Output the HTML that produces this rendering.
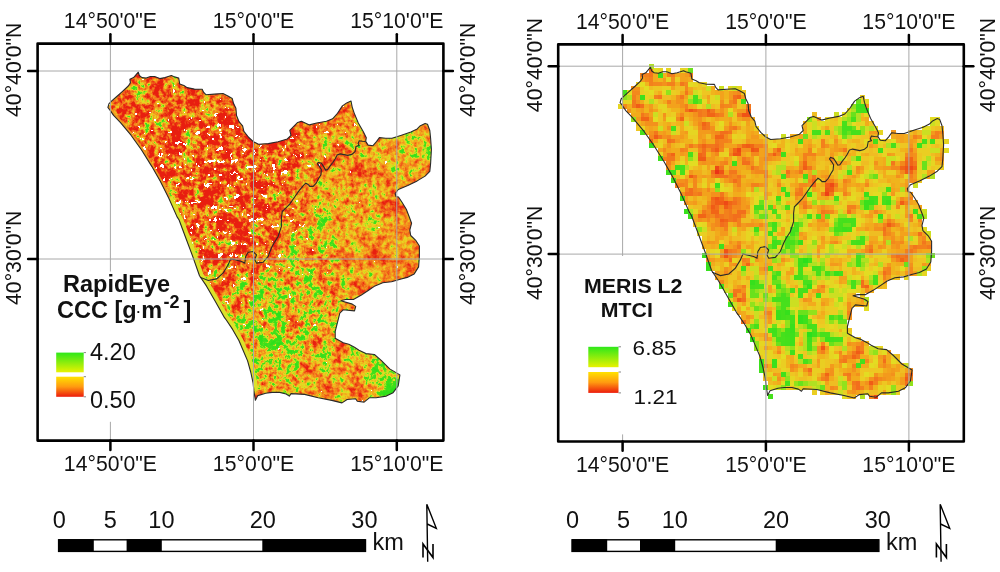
<!DOCTYPE html>
<html><head><meta charset="utf-8"><style>html,body{margin:0;padding:0;background:#fff;overflow:hidden}svg{display:block;filter:blur(0.3px)}</style></head>
<body><svg width="1000" height="572" viewBox="0 0 1000 572">
<style>
text{font-family:'Liberation Sans',sans-serif;fill:#111}
.lab{font-size:21.2px}
.sb{font-size:23.5px}
.lg{font-size:23.5px;font-weight:bold}
.lg2{font-size:20.2px;font-weight:bold}
.sb2{font-size:20.3px}
</style>
<rect width="1000" height="572" fill="#fff"/>
<filter id="fL" filterUnits="userSpaceOnUse" x="100" y="65" width="340" height="345" color-interpolation-filters="sRGB">
<feGaussianBlur in="SourceGraphic" stdDeviation="6" result="b"/>
<feColorMatrix in="b" type="matrix" values="1 0 0 0 0 1 0 0 0 0 1 0 0 0 0 0 0 0 0 1" result="bv"/>
<feTurbulence type="fractalNoise" baseFrequency="0.22" numOctaves="3" seed="3" result="n"/>
<feColorMatrix in="n" type="matrix" values="1 0 0 0 0 1 0 0 0 0 1 0 0 0 0 0 0 0 0 1" result="nh"/>
<feTurbulence type="fractalNoise" baseFrequency="0.06" numOctaves="2" seed="21" result="nl0"/>
<feColorMatrix in="nl0" type="matrix" values="1 0 0 0 0 1 0 0 0 0 1 0 0 0 0 0 0 0 0 1" result="nl"/>
<feComposite in="nl" in2="nh" operator="arithmetic" k1="0" k2="0.68" k3="0.73" k4="-0.20500000000000007" result="ng"/>
<feColorMatrix in="b" type="matrix" values="0 0 1 0 0 0 0 1 0 0 0 0 1 0 0 0 0 0 0 1" result="ba"/>
<feComposite in="ba" in2="ng" operator="arithmetic" k1="3.33" k2="-1.667" k3="0" k4="0.5" result="t"/>
<feComposite in="bv" in2="t" operator="arithmetic" k1="0" k2="1" k3="1" k4="-0.5" result="v"/>
<feComponentTransfer in="v" result="col">
<feFuncR type="table" tableValues="0.910 0.913 0.916 0.919 0.922 0.925 0.929 0.932 0.935 0.938 0.941 0.944 0.946 0.948 0.951 0.953 0.953 0.953 0.953 0.953 0.953 0.949 0.945 0.941 0.937 0.933 0.922 0.910 0.898 0.886 0.800 0.714 0.627 0.510 0.392 0.275 0.268 0.261 0.254 0.247 0.241 0.234 0.227 0.220 0.213 0.207 0.200 0.193 0.186 0.179 0.173"/>
<feFuncG type="table" tableValues="0.118 0.137 0.157 0.176 0.196 0.216 0.245 0.274 0.303 0.332 0.361 0.389 0.417 0.445 0.474 0.502 0.529 0.555 0.582 0.609 0.635 0.664 0.692 0.720 0.748 0.776 0.800 0.824 0.847 0.871 0.876 0.881 0.886 0.884 0.881 0.878 0.878 0.878 0.878 0.878 0.878 0.878 0.878 0.878 0.878 0.878 0.878 0.878 0.878 0.878 0.878"/>
<feFuncB type="table" tableValues="0.063 0.066 0.069 0.072 0.075 0.078 0.082 0.085 0.088 0.091 0.094 0.097 0.100 0.104 0.107 0.110 0.111 0.113 0.115 0.116 0.118 0.119 0.121 0.122 0.124 0.125 0.127 0.129 0.131 0.133 0.131 0.128 0.125 0.120 0.115 0.110 0.109 0.109 0.108 0.108 0.107 0.107 0.106 0.106 0.105 0.105 0.104 0.104 0.103 0.102 0.102"/>
</feComponentTransfer>
<feColorMatrix in="b" type="matrix" values="0 1 0 0 0 0 1 0 0 0 0 1 0 0 0 0 0 0 0 1" result="bw"/>
<feTurbulence type="fractalNoise" baseFrequency="0.17" numOctaves="3" seed="11" result="n2r"/>
<feColorMatrix in="n2r" type="matrix" values="1 0 0 0 0 1 0 0 0 0 1 0 0 0 0 0 0 0 0 1" result="n2"/>
<feComposite in="bw" in2="n2" operator="arithmetic" k1="0" k2="1" k3="1" k4="-0.5" result="w"/>
<feColorMatrix in="w" type="matrix" values="0 0 0 0 1 0 0 0 0 1 0 0 0 0 1 1 0 0 0 0" result="wa"/>
<feComponentTransfer in="wa" result="wm"><feFuncA type="discrete" tableValues="0 0 0 1"/></feComponentTransfer>
<feMerge result="mg"><feMergeNode in="col"/><feMergeNode in="wm"/></feMerge>
<feGaussianBlur in="mg" stdDeviation="0.55"/>
</filter>
<clipPath id="cL"><path d="M138.3,72.1 L139.3,75.5 L142.0,77.6 L146.2,78.1 L150.4,76.5 L154.6,76.5 L159.8,78.6 L165.0,77.6 L171.4,75.5 L173.5,76.5 L178.7,78.1 L179.7,83.9 L183.9,85.5 L187.1,87.6 L194.4,89.1 L202.2,89.2 L203.5,92.2 L205.9,94.7 L214.5,94.1 L223.0,93.5 L227.9,95.9 L232.2,98.4 L233.5,103.3 L235.9,108.2 L236.5,115.5 L239.0,121.6 L242.6,125.9 L243.9,131.4 L248.8,137.5 L253.6,141.8 L258.5,144.3 L268.3,143.6 L278.1,141.8 L287.3,139.0 L291.0,135.3 L289.8,130.4 L293.5,126.7 L297.7,122.4 L301.4,121.2 L309.4,124.9 L316.7,123.0 L326.5,121.2 L332.6,118.8 L337.5,113.3 L342.4,105.9 L346.7,102.9 L351.0,101.0 L352.2,107.1 L354.0,112.6 L358.3,123.0 L363.2,131.6 L366.3,137.7 L365.7,141.4 L368.1,145.1 L373.0,145.7 L376.7,141.4 L379.4,137.6 L385.7,138.3 L392.0,138.3 L401.5,135.2 L410.9,132.0 L417.2,128.9 L420.4,125.7 L425.1,123.4 L427.5,124.2 L429.8,130.5 L430.6,138.3 L431.4,149.4 L430.6,163.5 L429.8,171.4 L425.1,176.1 L417.2,180.9 L407.8,185.6 L398.3,189.5 L395.2,193.5 L396.0,196.6 L398.5,197.0 L402.0,202.2 L406.3,209.2 L409.0,216.2 L411.6,223.2 L409.8,230.2 L410.7,235.5 L416.0,240.7 L419.4,246.0 L419.4,256.4 L418.6,266.9 L414.2,273.9 L407.2,277.4 L400.2,279.2 L391.5,281.8 L382.7,282.7 L375.0,285.9 L368.2,290.5 L361.4,295.0 L353.4,299.5 L345.5,299.5 L340.9,300.7 L352.3,304.1 L355.7,306.4 L354.5,310.9 L343.2,309.8 L339.8,313.2 L337.5,322.3 L335.2,331.4 L335.2,338.2 L343.2,342.7 L348.8,344.3 L354.5,347.3 L359.0,350.2 L365.9,353.6 L374.4,354.5 L381.2,360.4 L389.7,368.9 L399.9,374.9 L398.2,385.9 L393.1,392.7 L386.3,396.1 L376.1,397.8 L369.3,397.8 L364.1,402.1 L357.3,401.2 L355.6,398.7 L347.1,399.5 L342.0,402.9 L331.8,400.4 L318.2,397.8 L304.6,394.4 L291.0,393.6 L289.3,396.1 L286.1,394.0 L279.8,392.4 L272.0,392.4 L265.7,393.2 L257.8,395.6 L255.4,400.3 L253.9,390.9 L253.1,383.0 L250.7,372.0 L247.6,360.9 L243.6,351.5 L238.9,340.5 L232.6,329.4 L226.3,320.0 L224.5,317.7 L215.5,301.8 L206.4,285.9 L199.5,275.7 L192.7,256.4 L185.9,238.2 L179.1,220.0 L177.1,216.9 L168.7,198.0 L160.3,181.3 L151.9,166.6 L141.4,149.8 L131.0,135.2 L120.5,122.6 L113.6,115.4 L110.0,110.1 L107.9,107.5 L108.9,103.8 L111.5,101.2 L116.8,96.5 L122.0,91.8 L128.3,86.0 L130.4,82.8 L129.9,79.2 L133.6,77.6 Z"/></clipPath>
<g clip-path="url(#cL)"><g filter="url(#fL)"><rect x="90" y="55" width="12" height="12" fill="rgb(73,112,128)"/><rect x="102" y="55" width="12" height="12" fill="rgb(74,112,128)"/><rect x="114" y="55" width="12" height="12" fill="rgb(74,112,128)"/><rect x="126" y="55" width="12" height="12" fill="rgb(75,112,128)"/><rect x="138" y="55" width="12" height="12" fill="rgb(76,113,128)"/><rect x="150" y="55" width="12" height="12" fill="rgb(77,114,128)"/><rect x="162" y="55" width="12" height="12" fill="rgb(78,115,128)"/><rect x="174" y="55" width="12" height="12" fill="rgb(78,116,128)"/><rect x="186" y="55" width="12" height="12" fill="rgb(75,116,128)"/><rect x="198" y="55" width="12" height="12" fill="rgb(71,117,128)"/><rect x="210" y="55" width="12" height="12" fill="rgb(67,120,128)"/><rect x="222" y="55" width="12" height="12" fill="rgb(65,126,128)"/><rect x="234" y="55" width="12" height="12" fill="rgb(63,131,127)"/><rect x="246" y="55" width="12" height="12" fill="rgb(62,133,127)"/><rect x="258" y="55" width="12" height="12" fill="rgb(60,133,127)"/><rect x="270" y="55" width="12" height="12" fill="rgb(60,133,126)"/><rect x="282" y="55" width="12" height="12" fill="rgb(65,133,118)"/><rect x="294" y="55" width="12" height="12" fill="rgb(74,131,110)"/><rect x="306" y="55" width="12" height="12" fill="rgb(82,128,109)"/><rect x="318" y="55" width="12" height="12" fill="rgb(86,126,108)"/><rect x="330" y="55" width="12" height="12" fill="rgb(89,125,108)"/><rect x="342" y="55" width="12" height="12" fill="rgb(90,124,108)"/><rect x="354" y="55" width="12" height="12" fill="rgb(91,122,108)"/><rect x="366" y="55" width="12" height="12" fill="rgb(94,113,108)"/><rect x="378" y="55" width="12" height="12" fill="rgb(104,102,105)"/><rect x="390" y="55" width="12" height="12" fill="rgb(127,100,96)"/><rect x="402" y="55" width="12" height="12" fill="rgb(149,100,90)"/><rect x="414" y="55" width="12" height="12" fill="rgb(159,100,89)"/><rect x="426" y="55" width="12" height="12" fill="rgb(163,100,89)"/><rect x="438" y="55" width="12" height="12" fill="rgb(164,100,89)"/><rect x="90" y="67" width="12" height="12" fill="rgb(71,113,128)"/><rect x="102" y="67" width="12" height="12" fill="rgb(72,113,128)"/><rect x="114" y="67" width="12" height="12" fill="rgb(73,113,128)"/><rect x="126" y="67" width="12" height="12" fill="rgb(73,113,128)"/><rect x="138" y="67" width="12" height="12" fill="rgb(74,114,128)"/><rect x="150" y="67" width="12" height="12" fill="rgb(76,115,128)"/><rect x="162" y="67" width="12" height="12" fill="rgb(76,116,128)"/><rect x="174" y="67" width="12" height="12" fill="rgb(76,116,128)"/><rect x="186" y="67" width="12" height="12" fill="rgb(73,117,128)"/><rect x="198" y="67" width="12" height="12" fill="rgb(69,118,128)"/><rect x="210" y="67" width="12" height="12" fill="rgb(65,123,128)"/><rect x="222" y="67" width="12" height="12" fill="rgb(63,129,128)"/><rect x="234" y="67" width="12" height="12" fill="rgb(61,133,127)"/><rect x="246" y="67" width="12" height="12" fill="rgb(60,134,127)"/><rect x="258" y="67" width="12" height="12" fill="rgb(58,134,127)"/><rect x="270" y="67" width="12" height="12" fill="rgb(57,133,125)"/><rect x="282" y="67" width="12" height="12" fill="rgb(63,132,116)"/><rect x="294" y="67" width="12" height="12" fill="rgb(72,130,110)"/><rect x="306" y="67" width="12" height="12" fill="rgb(80,127,109)"/><rect x="318" y="67" width="12" height="12" fill="rgb(85,125,108)"/><rect x="330" y="67" width="12" height="12" fill="rgb(88,124,108)"/><rect x="342" y="67" width="12" height="12" fill="rgb(90,124,108)"/><rect x="354" y="67" width="12" height="12" fill="rgb(92,121,108)"/><rect x="366" y="67" width="12" height="12" fill="rgb(96,110,108)"/><rect x="378" y="67" width="12" height="12" fill="rgb(110,101,103)"/><rect x="390" y="67" width="12" height="12" fill="rgb(135,100,93)"/><rect x="402" y="67" width="12" height="12" fill="rgb(152,100,90)"/><rect x="414" y="67" width="12" height="12" fill="rgb(159,100,89)"/><rect x="426" y="67" width="12" height="12" fill="rgb(162,100,89)"/><rect x="438" y="67" width="12" height="12" fill="rgb(164,100,89)"/><rect x="90" y="79" width="12" height="12" fill="rgb(69,114,128)"/><rect x="102" y="79" width="12" height="12" fill="rgb(69,114,128)"/><rect x="114" y="79" width="12" height="12" fill="rgb(70,115,128)"/><rect x="126" y="79" width="12" height="12" fill="rgb(71,115,128)"/><rect x="138" y="79" width="12" height="12" fill="rgb(72,116,128)"/><rect x="150" y="79" width="12" height="12" fill="rgb(73,116,128)"/><rect x="162" y="79" width="12" height="12" fill="rgb(73,117,128)"/><rect x="174" y="79" width="12" height="12" fill="rgb(72,117,128)"/><rect x="186" y="79" width="12" height="12" fill="rgb(69,118,128)"/><rect x="198" y="79" width="12" height="12" fill="rgb(65,121,128)"/><rect x="210" y="79" width="12" height="12" fill="rgb(62,127,128)"/><rect x="222" y="79" width="12" height="12" fill="rgb(61,132,128)"/><rect x="234" y="79" width="12" height="12" fill="rgb(59,134,128)"/><rect x="246" y="79" width="12" height="12" fill="rgb(57,134,127)"/><rect x="258" y="79" width="12" height="12" fill="rgb(55,134,127)"/><rect x="270" y="79" width="12" height="12" fill="rgb(56,134,123)"/><rect x="282" y="79" width="12" height="12" fill="rgb(62,132,114)"/><rect x="294" y="79" width="12" height="12" fill="rgb(70,130,109)"/><rect x="306" y="79" width="12" height="12" fill="rgb(78,127,108)"/><rect x="318" y="79" width="12" height="12" fill="rgb(84,125,108)"/><rect x="330" y="79" width="12" height="12" fill="rgb(87,124,108)"/><rect x="342" y="79" width="12" height="12" fill="rgb(89,124,108)"/><rect x="354" y="79" width="12" height="12" fill="rgb(92,120,108)"/><rect x="366" y="79" width="12" height="12" fill="rgb(99,108,107)"/><rect x="378" y="79" width="12" height="12" fill="rgb(117,101,100)"/><rect x="390" y="79" width="12" height="12" fill="rgb(140,100,91)"/><rect x="402" y="79" width="12" height="12" fill="rgb(152,100,90)"/><rect x="414" y="79" width="12" height="12" fill="rgb(158,100,89)"/><rect x="426" y="79" width="12" height="12" fill="rgb(161,100,89)"/><rect x="438" y="79" width="12" height="12" fill="rgb(162,100,89)"/><rect x="90" y="91" width="12" height="12" fill="rgb(66,116,128)"/><rect x="102" y="91" width="12" height="12" fill="rgb(67,117,128)"/><rect x="114" y="91" width="12" height="12" fill="rgb(68,117,128)"/><rect x="126" y="91" width="12" height="12" fill="rgb(68,117,128)"/><rect x="138" y="91" width="12" height="12" fill="rgb(69,118,128)"/><rect x="150" y="91" width="12" height="12" fill="rgb(69,118,128)"/><rect x="162" y="91" width="12" height="12" fill="rgb(69,118,129)"/><rect x="174" y="91" width="12" height="12" fill="rgb(67,119,129)"/><rect x="186" y="91" width="12" height="12" fill="rgb(64,121,128)"/><rect x="198" y="91" width="12" height="12" fill="rgb(61,126,128)"/><rect x="210" y="91" width="12" height="12" fill="rgb(59,131,128)"/><rect x="222" y="91" width="12" height="12" fill="rgb(58,135,128)"/><rect x="234" y="91" width="12" height="12" fill="rgb(56,135,128)"/><rect x="246" y="91" width="12" height="12" fill="rgb(54,135,128)"/><rect x="258" y="91" width="12" height="12" fill="rgb(52,135,127)"/><rect x="270" y="91" width="12" height="12" fill="rgb(54,134,122)"/><rect x="282" y="91" width="12" height="12" fill="rgb(60,132,112)"/><rect x="294" y="91" width="12" height="12" fill="rgb(68,129,109)"/><rect x="306" y="91" width="12" height="12" fill="rgb(76,127,108)"/><rect x="318" y="91" width="12" height="12" fill="rgb(82,125,108)"/><rect x="330" y="91" width="12" height="12" fill="rgb(86,124,108)"/><rect x="342" y="91" width="12" height="12" fill="rgb(89,123,108)"/><rect x="354" y="91" width="12" height="12" fill="rgb(93,118,108)"/><rect x="366" y="91" width="12" height="12" fill="rgb(103,105,105)"/><rect x="378" y="91" width="12" height="12" fill="rgb(123,100,96)"/><rect x="390" y="91" width="12" height="12" fill="rgb(142,100,90)"/><rect x="402" y="91" width="12" height="12" fill="rgb(151,100,89)"/><rect x="414" y="91" width="12" height="12" fill="rgb(156,100,89)"/><rect x="426" y="91" width="12" height="12" fill="rgb(159,100,89)"/><rect x="438" y="91" width="12" height="12" fill="rgb(161,100,89)"/><rect x="90" y="103" width="12" height="12" fill="rgb(64,119,128)"/><rect x="102" y="103" width="12" height="12" fill="rgb(65,119,129)"/><rect x="114" y="103" width="12" height="12" fill="rgb(65,119,129)"/><rect x="126" y="103" width="12" height="12" fill="rgb(65,120,129)"/><rect x="138" y="103" width="12" height="12" fill="rgb(65,120,130)"/><rect x="150" y="103" width="12" height="12" fill="rgb(65,121,130)"/><rect x="162" y="103" width="12" height="12" fill="rgb(64,121,131)"/><rect x="174" y="103" width="12" height="12" fill="rgb(62,123,131)"/><rect x="186" y="103" width="12" height="12" fill="rgb(60,126,129)"/><rect x="198" y="103" width="12" height="12" fill="rgb(57,131,128)"/><rect x="210" y="103" width="12" height="12" fill="rgb(56,136,128)"/><rect x="222" y="103" width="12" height="12" fill="rgb(54,137,128)"/><rect x="234" y="103" width="12" height="12" fill="rgb(52,137,128)"/><rect x="246" y="103" width="12" height="12" fill="rgb(51,136,128)"/><rect x="258" y="103" width="12" height="12" fill="rgb(50,136,127)"/><rect x="270" y="103" width="12" height="12" fill="rgb(53,135,120)"/><rect x="282" y="103" width="12" height="12" fill="rgb(58,133,111)"/><rect x="294" y="103" width="12" height="12" fill="rgb(66,129,109)"/><rect x="306" y="103" width="12" height="12" fill="rgb(74,127,108)"/><rect x="318" y="103" width="12" height="12" fill="rgb(81,125,108)"/><rect x="330" y="103" width="12" height="12" fill="rgb(85,124,108)"/><rect x="342" y="103" width="12" height="12" fill="rgb(89,123,108)"/><rect x="354" y="103" width="12" height="12" fill="rgb(94,115,108)"/><rect x="366" y="103" width="12" height="12" fill="rgb(107,104,103)"/><rect x="378" y="103" width="12" height="12" fill="rgb(126,100,93)"/><rect x="390" y="103" width="12" height="12" fill="rgb(141,100,90)"/><rect x="402" y="103" width="12" height="12" fill="rgb(148,100,89)"/><rect x="414" y="103" width="12" height="12" fill="rgb(153,100,89)"/><rect x="426" y="103" width="12" height="12" fill="rgb(156,100,89)"/><rect x="438" y="103" width="12" height="12" fill="rgb(158,100,89)"/><rect x="90" y="115" width="12" height="12" fill="rgb(62,121,130)"/><rect x="102" y="115" width="12" height="12" fill="rgb(62,121,131)"/><rect x="114" y="115" width="12" height="12" fill="rgb(62,121,131)"/><rect x="126" y="115" width="12" height="12" fill="rgb(61,122,132)"/><rect x="138" y="115" width="12" height="12" fill="rgb(61,123,133)"/><rect x="150" y="115" width="12" height="12" fill="rgb(60,124,133)"/><rect x="162" y="115" width="12" height="12" fill="rgb(59,125,134)"/><rect x="174" y="115" width="12" height="12" fill="rgb(57,128,134)"/><rect x="186" y="115" width="12" height="12" fill="rgb(55,132,132)"/><rect x="198" y="115" width="12" height="12" fill="rgb(53,136,130)"/><rect x="210" y="115" width="12" height="12" fill="rgb(52,138,129)"/><rect x="222" y="115" width="12" height="12" fill="rgb(51,139,129)"/><rect x="234" y="115" width="12" height="12" fill="rgb(49,138,129)"/><rect x="246" y="115" width="12" height="12" fill="rgb(48,138,129)"/><rect x="258" y="115" width="12" height="12" fill="rgb(48,137,128)"/><rect x="270" y="115" width="12" height="12" fill="rgb(51,136,121)"/><rect x="282" y="115" width="12" height="12" fill="rgb(57,133,111)"/><rect x="294" y="115" width="12" height="12" fill="rgb(64,130,109)"/><rect x="306" y="115" width="12" height="12" fill="rgb(72,127,108)"/><rect x="318" y="115" width="12" height="12" fill="rgb(79,125,108)"/><rect x="330" y="115" width="12" height="12" fill="rgb(84,124,108)"/><rect x="342" y="115" width="12" height="12" fill="rgb(88,122,108)"/><rect x="354" y="115" width="12" height="12" fill="rgb(95,113,107)"/><rect x="366" y="115" width="12" height="12" fill="rgb(109,102,100)"/><rect x="378" y="115" width="12" height="12" fill="rgb(125,100,91)"/><rect x="390" y="115" width="12" height="12" fill="rgb(137,100,90)"/><rect x="402" y="115" width="12" height="12" fill="rgb(144,100,89)"/><rect x="414" y="115" width="12" height="12" fill="rgb(149,100,89)"/><rect x="426" y="115" width="12" height="12" fill="rgb(152,100,89)"/><rect x="438" y="115" width="12" height="12" fill="rgb(154,100,89)"/><rect x="90" y="127" width="12" height="12" fill="rgb(61,122,133)"/><rect x="102" y="127" width="12" height="12" fill="rgb(60,123,134)"/><rect x="114" y="127" width="12" height="12" fill="rgb(59,123,135)"/><rect x="126" y="127" width="12" height="12" fill="rgb(58,124,136)"/><rect x="138" y="127" width="12" height="12" fill="rgb(57,125,136)"/><rect x="150" y="127" width="12" height="12" fill="rgb(56,127,137)"/><rect x="162" y="127" width="12" height="12" fill="rgb(54,129,138)"/><rect x="174" y="127" width="12" height="12" fill="rgb(53,133,138)"/><rect x="186" y="127" width="12" height="12" fill="rgb(51,136,136)"/><rect x="198" y="127" width="12" height="12" fill="rgb(50,139,134)"/><rect x="210" y="127" width="12" height="12" fill="rgb(49,140,132)"/><rect x="222" y="127" width="12" height="12" fill="rgb(48,140,131)"/><rect x="234" y="127" width="12" height="12" fill="rgb(47,140,132)"/><rect x="246" y="127" width="12" height="12" fill="rgb(46,139,133)"/><rect x="258" y="127" width="12" height="12" fill="rgb(47,139,132)"/><rect x="270" y="127" width="12" height="12" fill="rgb(50,137,124)"/><rect x="282" y="127" width="12" height="12" fill="rgb(56,134,113)"/><rect x="294" y="127" width="12" height="12" fill="rgb(64,130,109)"/><rect x="306" y="127" width="12" height="12" fill="rgb(71,127,109)"/><rect x="318" y="127" width="12" height="12" fill="rgb(78,125,108)"/><rect x="330" y="127" width="12" height="12" fill="rgb(83,124,108)"/><rect x="342" y="127" width="12" height="12" fill="rgb(87,120,108)"/><rect x="354" y="127" width="12" height="12" fill="rgb(95,110,105)"/><rect x="366" y="127" width="12" height="12" fill="rgb(107,101,96)"/><rect x="378" y="127" width="12" height="12" fill="rgb(121,100,90)"/><rect x="390" y="127" width="12" height="12" fill="rgb(131,100,89)"/><rect x="402" y="127" width="12" height="12" fill="rgb(138,100,89)"/><rect x="414" y="127" width="12" height="12" fill="rgb(143,100,89)"/><rect x="426" y="127" width="12" height="12" fill="rgb(146,100,89)"/><rect x="438" y="127" width="12" height="12" fill="rgb(147,100,89)"/><rect x="90" y="139" width="12" height="12" fill="rgb(58,123,137)"/><rect x="102" y="139" width="12" height="12" fill="rgb(57,124,138)"/><rect x="114" y="139" width="12" height="12" fill="rgb(55,124,138)"/><rect x="126" y="139" width="12" height="12" fill="rgb(54,126,138)"/><rect x="138" y="139" width="12" height="12" fill="rgb(53,127,139)"/><rect x="150" y="139" width="12" height="12" fill="rgb(52,130,139)"/><rect x="162" y="139" width="12" height="12" fill="rgb(51,133,139)"/><rect x="174" y="139" width="12" height="12" fill="rgb(50,136,140)"/><rect x="186" y="139" width="12" height="12" fill="rgb(48,139,139)"/><rect x="198" y="139" width="12" height="12" fill="rgb(47,140,138)"/><rect x="210" y="139" width="12" height="12" fill="rgb(46,141,137)"/><rect x="222" y="139" width="12" height="12" fill="rgb(45,142,136)"/><rect x="234" y="139" width="12" height="12" fill="rgb(45,141,136)"/><rect x="246" y="139" width="12" height="12" fill="rgb(46,141,137)"/><rect x="258" y="139" width="12" height="12" fill="rgb(47,140,136)"/><rect x="270" y="139" width="12" height="12" fill="rgb(50,138,131)"/><rect x="282" y="139" width="12" height="12" fill="rgb(56,135,118)"/><rect x="294" y="139" width="12" height="12" fill="rgb(64,131,111)"/><rect x="306" y="139" width="12" height="12" fill="rgb(72,128,109)"/><rect x="318" y="139" width="12" height="12" fill="rgb(78,125,108)"/><rect x="330" y="139" width="12" height="12" fill="rgb(82,123,108)"/><rect x="342" y="139" width="12" height="12" fill="rgb(86,117,107)"/><rect x="354" y="139" width="12" height="12" fill="rgb(92,107,102)"/><rect x="366" y="139" width="12" height="12" fill="rgb(102,101,94)"/><rect x="378" y="139" width="12" height="12" fill="rgb(113,100,90)"/><rect x="390" y="139" width="12" height="12" fill="rgb(123,100,89)"/><rect x="402" y="139" width="12" height="12" fill="rgb(130,100,89)"/><rect x="414" y="139" width="12" height="12" fill="rgb(134,100,89)"/><rect x="426" y="139" width="12" height="12" fill="rgb(136,100,89)"/><rect x="438" y="139" width="12" height="12" fill="rgb(136,100,89)"/><rect x="90" y="151" width="12" height="12" fill="rgb(55,124,139)"/><rect x="102" y="151" width="12" height="12" fill="rgb(53,125,139)"/><rect x="114" y="151" width="12" height="12" fill="rgb(52,126,140)"/><rect x="126" y="151" width="12" height="12" fill="rgb(51,128,140)"/><rect x="138" y="151" width="12" height="12" fill="rgb(50,130,140)"/><rect x="150" y="151" width="12" height="12" fill="rgb(50,133,140)"/><rect x="162" y="151" width="12" height="12" fill="rgb(49,135,140)"/><rect x="174" y="151" width="12" height="12" fill="rgb(48,138,140)"/><rect x="186" y="151" width="12" height="12" fill="rgb(47,140,140)"/><rect x="198" y="151" width="12" height="12" fill="rgb(46,141,140)"/><rect x="210" y="151" width="12" height="12" fill="rgb(45,142,139)"/><rect x="222" y="151" width="12" height="12" fill="rgb(44,143,139)"/><rect x="234" y="151" width="12" height="12" fill="rgb(44,143,139)"/><rect x="246" y="151" width="12" height="12" fill="rgb(46,142,139)"/><rect x="258" y="151" width="12" height="12" fill="rgb(48,141,139)"/><rect x="270" y="151" width="12" height="12" fill="rgb(51,140,136)"/><rect x="282" y="151" width="12" height="12" fill="rgb(58,137,125)"/><rect x="294" y="151" width="12" height="12" fill="rgb(67,132,113)"/><rect x="306" y="151" width="12" height="12" fill="rgb(75,128,109)"/><rect x="318" y="151" width="12" height="12" fill="rgb(81,124,108)"/><rect x="330" y="151" width="12" height="12" fill="rgb(83,119,107)"/><rect x="342" y="151" width="12" height="12" fill="rgb(85,112,104)"/><rect x="354" y="151" width="12" height="12" fill="rgb(89,105,100)"/><rect x="366" y="151" width="12" height="12" fill="rgb(96,101,93)"/><rect x="378" y="151" width="12" height="12" fill="rgb(105,100,90)"/><rect x="390" y="151" width="12" height="12" fill="rgb(113,100,89)"/><rect x="402" y="151" width="12" height="12" fill="rgb(119,100,89)"/><rect x="414" y="151" width="12" height="12" fill="rgb(123,100,89)"/><rect x="426" y="151" width="12" height="12" fill="rgb(124,100,89)"/><rect x="438" y="151" width="12" height="12" fill="rgb(123,100,89)"/><rect x="90" y="163" width="12" height="12" fill="rgb(52,125,140)"/><rect x="102" y="163" width="12" height="12" fill="rgb(51,126,140)"/><rect x="114" y="163" width="12" height="12" fill="rgb(50,128,140)"/><rect x="126" y="163" width="12" height="12" fill="rgb(49,130,140)"/><rect x="138" y="163" width="12" height="12" fill="rgb(49,133,140)"/><rect x="150" y="163" width="12" height="12" fill="rgb(49,135,140)"/><rect x="162" y="163" width="12" height="12" fill="rgb(48,137,140)"/><rect x="174" y="163" width="12" height="12" fill="rgb(47,139,140)"/><rect x="186" y="163" width="12" height="12" fill="rgb(46,140,140)"/><rect x="198" y="163" width="12" height="12" fill="rgb(45,141,140)"/><rect x="210" y="163" width="12" height="12" fill="rgb(44,142,140)"/><rect x="222" y="163" width="12" height="12" fill="rgb(44,143,140)"/><rect x="234" y="163" width="12" height="12" fill="rgb(45,143,140)"/><rect x="246" y="163" width="12" height="12" fill="rgb(46,143,140)"/><rect x="258" y="163" width="12" height="12" fill="rgb(49,142,140)"/><rect x="270" y="163" width="12" height="12" fill="rgb(54,140,138)"/><rect x="282" y="163" width="12" height="12" fill="rgb(62,137,132)"/><rect x="294" y="163" width="12" height="12" fill="rgb(72,132,118)"/><rect x="306" y="163" width="12" height="12" fill="rgb(81,126,109)"/><rect x="318" y="163" width="12" height="12" fill="rgb(86,120,106)"/><rect x="330" y="163" width="12" height="12" fill="rgb(87,113,104)"/><rect x="342" y="163" width="12" height="12" fill="rgb(86,107,102)"/><rect x="354" y="163" width="12" height="12" fill="rgb(87,104,98)"/><rect x="366" y="163" width="12" height="12" fill="rgb(91,102,93)"/><rect x="378" y="163" width="12" height="12" fill="rgb(97,100,90)"/><rect x="390" y="163" width="12" height="12" fill="rgb(103,100,89)"/><rect x="402" y="163" width="12" height="12" fill="rgb(108,100,89)"/><rect x="414" y="163" width="12" height="12" fill="rgb(111,100,89)"/><rect x="426" y="163" width="12" height="12" fill="rgb(111,100,89)"/><rect x="438" y="163" width="12" height="12" fill="rgb(110,100,89)"/><rect x="90" y="175" width="12" height="12" fill="rgb(50,126,140)"/><rect x="102" y="175" width="12" height="12" fill="rgb(49,128,140)"/><rect x="114" y="175" width="12" height="12" fill="rgb(49,131,140)"/><rect x="126" y="175" width="12" height="12" fill="rgb(49,133,140)"/><rect x="138" y="175" width="12" height="12" fill="rgb(48,135,140)"/><rect x="150" y="175" width="12" height="12" fill="rgb(48,136,140)"/><rect x="162" y="175" width="12" height="12" fill="rgb(48,137,140)"/><rect x="174" y="175" width="12" height="12" fill="rgb(47,139,140)"/><rect x="186" y="175" width="12" height="12" fill="rgb(46,140,140)"/><rect x="198" y="175" width="12" height="12" fill="rgb(45,141,140)"/><rect x="210" y="175" width="12" height="12" fill="rgb(44,142,140)"/><rect x="222" y="175" width="12" height="12" fill="rgb(44,143,140)"/><rect x="234" y="175" width="12" height="12" fill="rgb(46,143,140)"/><rect x="246" y="175" width="12" height="12" fill="rgb(48,143,140)"/><rect x="258" y="175" width="12" height="12" fill="rgb(51,142,140)"/><rect x="270" y="175" width="12" height="12" fill="rgb(58,139,139)"/><rect x="282" y="175" width="12" height="12" fill="rgb(68,136,135)"/><rect x="294" y="175" width="12" height="12" fill="rgb(81,129,119)"/><rect x="306" y="175" width="12" height="12" fill="rgb(91,122,106)"/><rect x="318" y="175" width="12" height="12" fill="rgb(95,114,103)"/><rect x="330" y="175" width="12" height="12" fill="rgb(94,108,102)"/><rect x="342" y="175" width="12" height="12" fill="rgb(92,105,100)"/><rect x="354" y="175" width="12" height="12" fill="rgb(89,104,98)"/><rect x="366" y="175" width="12" height="12" fill="rgb(89,102,93)"/><rect x="378" y="175" width="12" height="12" fill="rgb(91,101,89)"/><rect x="390" y="175" width="12" height="12" fill="rgb(95,100,88)"/><rect x="402" y="175" width="12" height="12" fill="rgb(99,100,88)"/><rect x="414" y="175" width="12" height="12" fill="rgb(101,100,88)"/><rect x="426" y="175" width="12" height="12" fill="rgb(102,100,88)"/><rect x="438" y="175" width="12" height="12" fill="rgb(102,100,89)"/><rect x="90" y="187" width="12" height="12" fill="rgb(49,129,140)"/><rect x="102" y="187" width="12" height="12" fill="rgb(49,131,140)"/><rect x="114" y="187" width="12" height="12" fill="rgb(49,134,140)"/><rect x="126" y="187" width="12" height="12" fill="rgb(48,135,140)"/><rect x="138" y="187" width="12" height="12" fill="rgb(48,136,140)"/><rect x="150" y="187" width="12" height="12" fill="rgb(48,137,140)"/><rect x="162" y="187" width="12" height="12" fill="rgb(48,137,140)"/><rect x="174" y="187" width="12" height="12" fill="rgb(47,138,140)"/><rect x="186" y="187" width="12" height="12" fill="rgb(46,139,140)"/><rect x="198" y="187" width="12" height="12" fill="rgb(45,140,140)"/><rect x="210" y="187" width="12" height="12" fill="rgb(45,141,140)"/><rect x="222" y="187" width="12" height="12" fill="rgb(45,142,140)"/><rect x="234" y="187" width="12" height="12" fill="rgb(47,142,140)"/><rect x="246" y="187" width="12" height="12" fill="rgb(49,142,140)"/><rect x="258" y="187" width="12" height="12" fill="rgb(54,140,140)"/><rect x="270" y="187" width="12" height="12" fill="rgb(63,137,139)"/><rect x="282" y="187" width="12" height="12" fill="rgb(77,132,134)"/><rect x="294" y="187" width="12" height="12" fill="rgb(92,125,116)"/><rect x="306" y="187" width="12" height="12" fill="rgb(103,117,105)"/><rect x="318" y="187" width="12" height="12" fill="rgb(107,110,102)"/><rect x="330" y="187" width="12" height="12" fill="rgb(106,106,101)"/><rect x="342" y="187" width="12" height="12" fill="rgb(102,104,100)"/><rect x="354" y="187" width="12" height="12" fill="rgb(96,103,97)"/><rect x="366" y="187" width="12" height="12" fill="rgb(91,103,93)"/><rect x="378" y="187" width="12" height="12" fill="rgb(90,102,88)"/><rect x="390" y="187" width="12" height="12" fill="rgb(90,101,86)"/><rect x="402" y="187" width="12" height="12" fill="rgb(92,100,86)"/><rect x="414" y="187" width="12" height="12" fill="rgb(94,100,86)"/><rect x="426" y="187" width="12" height="12" fill="rgb(96,100,87)"/><rect x="438" y="187" width="12" height="12" fill="rgb(97,100,88)"/><rect x="90" y="199" width="12" height="12" fill="rgb(49,133,140)"/><rect x="102" y="199" width="12" height="12" fill="rgb(49,134,140)"/><rect x="114" y="199" width="12" height="12" fill="rgb(48,135,140)"/><rect x="126" y="199" width="12" height="12" fill="rgb(48,136,140)"/><rect x="138" y="199" width="12" height="12" fill="rgb(48,136,140)"/><rect x="150" y="199" width="12" height="12" fill="rgb(48,136,140)"/><rect x="162" y="199" width="12" height="12" fill="rgb(48,137,140)"/><rect x="174" y="199" width="12" height="12" fill="rgb(48,137,140)"/><rect x="186" y="199" width="12" height="12" fill="rgb(47,138,140)"/><rect x="198" y="199" width="12" height="12" fill="rgb(46,139,140)"/><rect x="210" y="199" width="12" height="12" fill="rgb(46,139,140)"/><rect x="222" y="199" width="12" height="12" fill="rgb(46,140,140)"/><rect x="234" y="199" width="12" height="12" fill="rgb(48,140,140)"/><rect x="246" y="199" width="12" height="12" fill="rgb(51,139,140)"/><rect x="258" y="199" width="12" height="12" fill="rgb(57,137,139)"/><rect x="270" y="199" width="12" height="12" fill="rgb(69,135,137)"/><rect x="282" y="199" width="12" height="12" fill="rgb(85,130,128)"/><rect x="294" y="199" width="12" height="12" fill="rgb(101,123,114)"/><rect x="306" y="199" width="12" height="12" fill="rgb(113,116,105)"/><rect x="318" y="199" width="12" height="12" fill="rgb(117,109,103)"/><rect x="330" y="199" width="12" height="12" fill="rgb(117,105,101)"/><rect x="342" y="199" width="12" height="12" fill="rgb(112,104,99)"/><rect x="354" y="199" width="12" height="12" fill="rgb(103,103,96)"/><rect x="366" y="199" width="12" height="12" fill="rgb(95,103,91)"/><rect x="378" y="199" width="12" height="12" fill="rgb(90,102,87)"/><rect x="390" y="199" width="12" height="12" fill="rgb(88,101,85)"/><rect x="402" y="199" width="12" height="12" fill="rgb(88,100,84)"/><rect x="414" y="199" width="12" height="12" fill="rgb(89,100,84)"/><rect x="426" y="199" width="12" height="12" fill="rgb(90,100,85)"/><rect x="438" y="199" width="12" height="12" fill="rgb(92,100,86)"/><rect x="90" y="211" width="12" height="12" fill="rgb(48,135,140)"/><rect x="102" y="211" width="12" height="12" fill="rgb(48,136,140)"/><rect x="114" y="211" width="12" height="12" fill="rgb(48,136,140)"/><rect x="126" y="211" width="12" height="12" fill="rgb(49,136,140)"/><rect x="138" y="211" width="12" height="12" fill="rgb(49,136,140)"/><rect x="150" y="211" width="12" height="12" fill="rgb(49,136,140)"/><rect x="162" y="211" width="12" height="12" fill="rgb(49,137,140)"/><rect x="174" y="211" width="12" height="12" fill="rgb(49,137,140)"/><rect x="186" y="211" width="12" height="12" fill="rgb(49,137,140)"/><rect x="198" y="211" width="12" height="12" fill="rgb(49,138,140)"/><rect x="210" y="211" width="12" height="12" fill="rgb(48,138,140)"/><rect x="222" y="211" width="12" height="12" fill="rgb(48,138,140)"/><rect x="234" y="211" width="12" height="12" fill="rgb(49,137,140)"/><rect x="246" y="211" width="12" height="12" fill="rgb(52,137,139)"/><rect x="258" y="211" width="12" height="12" fill="rgb(60,136,135)"/><rect x="270" y="211" width="12" height="12" fill="rgb(73,134,128)"/><rect x="282" y="211" width="12" height="12" fill="rgb(90,131,122)"/><rect x="294" y="211" width="12" height="12" fill="rgb(106,125,117)"/><rect x="306" y="211" width="12" height="12" fill="rgb(117,117,110)"/><rect x="318" y="211" width="12" height="12" fill="rgb(122,110,105)"/><rect x="330" y="211" width="12" height="12" fill="rgb(122,105,101)"/><rect x="342" y="211" width="12" height="12" fill="rgb(117,104,98)"/><rect x="354" y="211" width="12" height="12" fill="rgb(107,103,94)"/><rect x="366" y="211" width="12" height="12" fill="rgb(97,102,90)"/><rect x="378" y="211" width="12" height="12" fill="rgb(90,101,86)"/><rect x="390" y="211" width="12" height="12" fill="rgb(86,101,84)"/><rect x="402" y="211" width="12" height="12" fill="rgb(84,100,84)"/><rect x="414" y="211" width="12" height="12" fill="rgb(83,100,84)"/><rect x="426" y="211" width="12" height="12" fill="rgb(84,100,84)"/><rect x="438" y="211" width="12" height="12" fill="rgb(85,100,84)"/><rect x="90" y="223" width="12" height="12" fill="rgb(48,136,140)"/><rect x="102" y="223" width="12" height="12" fill="rgb(49,136,140)"/><rect x="114" y="223" width="12" height="12" fill="rgb(49,136,140)"/><rect x="126" y="223" width="12" height="12" fill="rgb(49,136,140)"/><rect x="138" y="223" width="12" height="12" fill="rgb(49,136,140)"/><rect x="150" y="223" width="12" height="12" fill="rgb(50,136,140)"/><rect x="162" y="223" width="12" height="12" fill="rgb(51,137,140)"/><rect x="174" y="223" width="12" height="12" fill="rgb(51,137,140)"/><rect x="186" y="223" width="12" height="12" fill="rgb(52,137,140)"/><rect x="198" y="223" width="12" height="12" fill="rgb(52,137,140)"/><rect x="210" y="223" width="12" height="12" fill="rgb(51,137,140)"/><rect x="222" y="223" width="12" height="12" fill="rgb(50,137,140)"/><rect x="234" y="223" width="12" height="12" fill="rgb(50,136,139)"/><rect x="246" y="223" width="12" height="12" fill="rgb(53,136,135)"/><rect x="258" y="223" width="12" height="12" fill="rgb(62,135,126)"/><rect x="270" y="223" width="12" height="12" fill="rgb(76,134,122)"/><rect x="282" y="223" width="12" height="12" fill="rgb(93,132,121)"/><rect x="294" y="223" width="12" height="12" fill="rgb(108,127,120)"/><rect x="306" y="223" width="12" height="12" fill="rgb(117,120,116)"/><rect x="318" y="223" width="12" height="12" fill="rgb(121,112,110)"/><rect x="330" y="223" width="12" height="12" fill="rgb(121,106,102)"/><rect x="342" y="223" width="12" height="12" fill="rgb(115,103,96)"/><rect x="354" y="223" width="12" height="12" fill="rgb(106,102,91)"/><rect x="366" y="223" width="12" height="12" fill="rgb(96,101,87)"/><rect x="378" y="223" width="12" height="12" fill="rgb(88,101,85)"/><rect x="390" y="223" width="12" height="12" fill="rgb(84,100,84)"/><rect x="402" y="223" width="12" height="12" fill="rgb(81,100,83)"/><rect x="414" y="223" width="12" height="12" fill="rgb(80,100,83)"/><rect x="426" y="223" width="12" height="12" fill="rgb(79,100,83)"/><rect x="438" y="223" width="12" height="12" fill="rgb(79,100,83)"/><rect x="90" y="235" width="12" height="12" fill="rgb(49,136,140)"/><rect x="102" y="235" width="12" height="12" fill="rgb(49,136,140)"/><rect x="114" y="235" width="12" height="12" fill="rgb(49,136,140)"/><rect x="126" y="235" width="12" height="12" fill="rgb(50,136,140)"/><rect x="138" y="235" width="12" height="12" fill="rgb(51,136,140)"/><rect x="150" y="235" width="12" height="12" fill="rgb(52,137,140)"/><rect x="162" y="235" width="12" height="12" fill="rgb(53,137,140)"/><rect x="174" y="235" width="12" height="12" fill="rgb(55,137,140)"/><rect x="186" y="235" width="12" height="12" fill="rgb(56,137,140)"/><rect x="198" y="235" width="12" height="12" fill="rgb(56,137,140)"/><rect x="210" y="235" width="12" height="12" fill="rgb(55,136,140)"/><rect x="222" y="235" width="12" height="12" fill="rgb(53,136,140)"/><rect x="234" y="235" width="12" height="12" fill="rgb(52,135,139)"/><rect x="246" y="235" width="12" height="12" fill="rgb(55,135,130)"/><rect x="258" y="235" width="12" height="12" fill="rgb(64,135,123)"/><rect x="270" y="235" width="12" height="12" fill="rgb(79,135,121)"/><rect x="282" y="235" width="12" height="12" fill="rgb(96,133,121)"/><rect x="294" y="235" width="12" height="12" fill="rgb(108,130,121)"/><rect x="306" y="235" width="12" height="12" fill="rgb(115,123,120)"/><rect x="318" y="235" width="12" height="12" fill="rgb(117,114,115)"/><rect x="330" y="235" width="12" height="12" fill="rgb(115,106,105)"/><rect x="342" y="235" width="12" height="12" fill="rgb(110,102,94)"/><rect x="354" y="235" width="12" height="12" fill="rgb(101,101,88)"/><rect x="366" y="235" width="12" height="12" fill="rgb(92,100,85)"/><rect x="378" y="235" width="12" height="12" fill="rgb(86,100,84)"/><rect x="390" y="235" width="12" height="12" fill="rgb(82,100,83)"/><rect x="402" y="235" width="12" height="12" fill="rgb(80,100,83)"/><rect x="414" y="235" width="12" height="12" fill="rgb(79,100,83)"/><rect x="426" y="235" width="12" height="12" fill="rgb(78,100,83)"/><rect x="438" y="235" width="12" height="12" fill="rgb(77,100,83)"/><rect x="90" y="247" width="12" height="12" fill="rgb(49,136,140)"/><rect x="102" y="247" width="12" height="12" fill="rgb(50,136,140)"/><rect x="114" y="247" width="12" height="12" fill="rgb(51,136,140)"/><rect x="126" y="247" width="12" height="12" fill="rgb(52,136,140)"/><rect x="138" y="247" width="12" height="12" fill="rgb(54,137,140)"/><rect x="150" y="247" width="12" height="12" fill="rgb(55,137,140)"/><rect x="162" y="247" width="12" height="12" fill="rgb(57,137,140)"/><rect x="174" y="247" width="12" height="12" fill="rgb(58,137,140)"/><rect x="186" y="247" width="12" height="12" fill="rgb(59,136,140)"/><rect x="198" y="247" width="12" height="12" fill="rgb(59,136,140)"/><rect x="210" y="247" width="12" height="12" fill="rgb(58,135,140)"/><rect x="222" y="247" width="12" height="12" fill="rgb(56,134,140)"/><rect x="234" y="247" width="12" height="12" fill="rgb(56,134,136)"/><rect x="246" y="247" width="12" height="12" fill="rgb(59,133,127)"/><rect x="258" y="247" width="12" height="12" fill="rgb(69,134,122)"/><rect x="270" y="247" width="12" height="12" fill="rgb(85,133,121)"/><rect x="282" y="247" width="12" height="12" fill="rgb(100,132,121)"/><rect x="294" y="247" width="12" height="12" fill="rgb(110,128,121)"/><rect x="306" y="247" width="12" height="12" fill="rgb(113,123,120)"/><rect x="318" y="247" width="12" height="12" fill="rgb(112,114,118)"/><rect x="330" y="247" width="12" height="12" fill="rgb(109,105,107)"/><rect x="342" y="247" width="12" height="12" fill="rgb(103,101,92)"/><rect x="354" y="247" width="12" height="12" fill="rgb(95,100,85)"/><rect x="366" y="247" width="12" height="12" fill="rgb(88,100,84)"/><rect x="378" y="247" width="12" height="12" fill="rgb(84,100,83)"/><rect x="390" y="247" width="12" height="12" fill="rgb(81,100,83)"/><rect x="402" y="247" width="12" height="12" fill="rgb(79,100,83)"/><rect x="414" y="247" width="12" height="12" fill="rgb(78,100,83)"/><rect x="426" y="247" width="12" height="12" fill="rgb(77,100,83)"/><rect x="438" y="247" width="12" height="12" fill="rgb(77,100,83)"/><rect x="90" y="259" width="12" height="12" fill="rgb(51,136,140)"/><rect x="102" y="259" width="12" height="12" fill="rgb(52,136,140)"/><rect x="114" y="259" width="12" height="12" fill="rgb(54,136,140)"/><rect x="126" y="259" width="12" height="12" fill="rgb(55,137,140)"/><rect x="138" y="259" width="12" height="12" fill="rgb(57,137,140)"/><rect x="150" y="259" width="12" height="12" fill="rgb(59,137,140)"/><rect x="162" y="259" width="12" height="12" fill="rgb(61,137,140)"/><rect x="174" y="259" width="12" height="12" fill="rgb(62,136,140)"/><rect x="186" y="259" width="12" height="12" fill="rgb(62,135,140)"/><rect x="198" y="259" width="12" height="12" fill="rgb(62,134,140)"/><rect x="210" y="259" width="12" height="12" fill="rgb(62,133,139)"/><rect x="222" y="259" width="12" height="12" fill="rgb(62,132,138)"/><rect x="234" y="259" width="12" height="12" fill="rgb(64,131,132)"/><rect x="246" y="259" width="12" height="12" fill="rgb(70,131,125)"/><rect x="258" y="259" width="12" height="12" fill="rgb(82,130,122)"/><rect x="270" y="259" width="12" height="12" fill="rgb(97,128,121)"/><rect x="282" y="259" width="12" height="12" fill="rgb(108,125,121)"/><rect x="294" y="259" width="12" height="12" fill="rgb(113,120,121)"/><rect x="306" y="259" width="12" height="12" fill="rgb(113,115,121)"/><rect x="318" y="259" width="12" height="12" fill="rgb(110,110,118)"/><rect x="330" y="259" width="12" height="12" fill="rgb(105,105,108)"/><rect x="342" y="259" width="12" height="12" fill="rgb(98,101,91)"/><rect x="354" y="259" width="12" height="12" fill="rgb(92,100,84)"/><rect x="366" y="259" width="12" height="12" fill="rgb(86,100,83)"/><rect x="378" y="259" width="12" height="12" fill="rgb(83,100,83)"/><rect x="390" y="259" width="12" height="12" fill="rgb(80,100,83)"/><rect x="402" y="259" width="12" height="12" fill="rgb(79,100,83)"/><rect x="414" y="259" width="12" height="12" fill="rgb(78,100,83)"/><rect x="426" y="259" width="12" height="12" fill="rgb(77,100,83)"/><rect x="438" y="259" width="12" height="12" fill="rgb(77,100,83)"/><rect x="90" y="271" width="12" height="12" fill="rgb(54,136,140)"/><rect x="102" y="271" width="12" height="12" fill="rgb(55,136,140)"/><rect x="114" y="271" width="12" height="12" fill="rgb(58,136,140)"/><rect x="126" y="271" width="12" height="12" fill="rgb(60,137,140)"/><rect x="138" y="271" width="12" height="12" fill="rgb(62,137,140)"/><rect x="150" y="271" width="12" height="12" fill="rgb(63,136,140)"/><rect x="162" y="271" width="12" height="12" fill="rgb(64,135,140)"/><rect x="174" y="271" width="12" height="12" fill="rgb(65,134,140)"/><rect x="186" y="271" width="12" height="12" fill="rgb(66,133,140)"/><rect x="198" y="271" width="12" height="12" fill="rgb(67,131,138)"/><rect x="210" y="271" width="12" height="12" fill="rgb(68,130,136)"/><rect x="222" y="271" width="12" height="12" fill="rgb(72,129,132)"/><rect x="234" y="271" width="12" height="12" fill="rgb(81,128,128)"/><rect x="246" y="271" width="12" height="12" fill="rgb(94,127,126)"/><rect x="258" y="271" width="12" height="12" fill="rgb(107,125,124)"/><rect x="270" y="271" width="12" height="12" fill="rgb(116,121,122)"/><rect x="282" y="271" width="12" height="12" fill="rgb(119,115,122)"/><rect x="294" y="271" width="12" height="12" fill="rgb(118,111,121)"/><rect x="306" y="271" width="12" height="12" fill="rgb(114,109,121)"/><rect x="318" y="271" width="12" height="12" fill="rgb(109,107,119)"/><rect x="330" y="271" width="12" height="12" fill="rgb(103,105,108)"/><rect x="342" y="271" width="12" height="12" fill="rgb(96,102,91)"/><rect x="354" y="271" width="12" height="12" fill="rgb(90,100,84)"/><rect x="366" y="271" width="12" height="12" fill="rgb(86,100,83)"/><rect x="378" y="271" width="12" height="12" fill="rgb(83,100,83)"/><rect x="390" y="271" width="12" height="12" fill="rgb(81,100,83)"/><rect x="402" y="271" width="12" height="12" fill="rgb(79,100,83)"/><rect x="414" y="271" width="12" height="12" fill="rgb(78,100,83)"/><rect x="426" y="271" width="12" height="12" fill="rgb(77,100,83)"/><rect x="438" y="271" width="12" height="12" fill="rgb(77,100,83)"/><rect x="90" y="283" width="12" height="12" fill="rgb(58,136,140)"/><rect x="102" y="283" width="12" height="12" fill="rgb(60,136,140)"/><rect x="114" y="283" width="12" height="12" fill="rgb(63,136,140)"/><rect x="126" y="283" width="12" height="12" fill="rgb(64,136,140)"/><rect x="138" y="283" width="12" height="12" fill="rgb(66,135,140)"/><rect x="150" y="283" width="12" height="12" fill="rgb(67,134,140)"/><rect x="162" y="283" width="12" height="12" fill="rgb(68,132,140)"/><rect x="174" y="283" width="12" height="12" fill="rgb(69,130,139)"/><rect x="186" y="283" width="12" height="12" fill="rgb(71,129,136)"/><rect x="198" y="283" width="12" height="12" fill="rgb(73,127,133)"/><rect x="210" y="283" width="12" height="12" fill="rgb(78,126,129)"/><rect x="222" y="283" width="12" height="12" fill="rgb(87,125,128)"/><rect x="234" y="283" width="12" height="12" fill="rgb(102,124,128)"/><rect x="246" y="283" width="12" height="12" fill="rgb(118,122,127)"/><rect x="258" y="283" width="12" height="12" fill="rgb(129,119,126)"/><rect x="270" y="283" width="12" height="12" fill="rgb(133,115,124)"/><rect x="282" y="283" width="12" height="12" fill="rgb(131,110,123)"/><rect x="294" y="283" width="12" height="12" fill="rgb(125,108,122)"/><rect x="306" y="283" width="12" height="12" fill="rgb(118,107,122)"/><rect x="318" y="283" width="12" height="12" fill="rgb(111,107,120)"/><rect x="330" y="283" width="12" height="12" fill="rgb(104,106,110)"/><rect x="342" y="283" width="12" height="12" fill="rgb(97,104,92)"/><rect x="354" y="283" width="12" height="12" fill="rgb(91,101,85)"/><rect x="366" y="283" width="12" height="12" fill="rgb(87,100,83)"/><rect x="378" y="283" width="12" height="12" fill="rgb(84,100,83)"/><rect x="390" y="283" width="12" height="12" fill="rgb(81,100,83)"/><rect x="402" y="283" width="12" height="12" fill="rgb(79,100,83)"/><rect x="414" y="283" width="12" height="12" fill="rgb(78,100,83)"/><rect x="426" y="283" width="12" height="12" fill="rgb(77,100,83)"/><rect x="438" y="283" width="12" height="12" fill="rgb(77,100,83)"/><rect x="90" y="295" width="12" height="12" fill="rgb(64,136,140)"/><rect x="102" y="295" width="12" height="12" fill="rgb(66,136,140)"/><rect x="114" y="295" width="12" height="12" fill="rgb(68,135,140)"/><rect x="126" y="295" width="12" height="12" fill="rgb(69,133,140)"/><rect x="138" y="295" width="12" height="12" fill="rgb(71,131,140)"/><rect x="150" y="295" width="12" height="12" fill="rgb(72,129,139)"/><rect x="162" y="295" width="12" height="12" fill="rgb(73,127,137)"/><rect x="174" y="295" width="12" height="12" fill="rgb(74,126,133)"/><rect x="186" y="295" width="12" height="12" fill="rgb(77,124,130)"/><rect x="198" y="295" width="12" height="12" fill="rgb(81,123,128)"/><rect x="210" y="295" width="12" height="12" fill="rgb(89,122,128)"/><rect x="222" y="295" width="12" height="12" fill="rgb(101,121,128)"/><rect x="234" y="295" width="12" height="12" fill="rgb(116,120,127)"/><rect x="246" y="295" width="12" height="12" fill="rgb(129,119,127)"/><rect x="258" y="295" width="12" height="12" fill="rgb(138,116,127)"/><rect x="270" y="295" width="12" height="12" fill="rgb(141,112,126)"/><rect x="282" y="295" width="12" height="12" fill="rgb(139,108,125)"/><rect x="294" y="295" width="12" height="12" fill="rgb(132,107,125)"/><rect x="306" y="295" width="12" height="12" fill="rgb(123,107,124)"/><rect x="318" y="295" width="12" height="12" fill="rgb(114,107,123)"/><rect x="330" y="295" width="12" height="12" fill="rgb(105,106,116)"/><rect x="342" y="295" width="12" height="12" fill="rgb(98,105,98)"/><rect x="354" y="295" width="12" height="12" fill="rgb(92,103,87)"/><rect x="366" y="295" width="12" height="12" fill="rgb(88,100,84)"/><rect x="378" y="295" width="12" height="12" fill="rgb(85,100,84)"/><rect x="390" y="295" width="12" height="12" fill="rgb(82,100,84)"/><rect x="402" y="295" width="12" height="12" fill="rgb(80,100,84)"/><rect x="414" y="295" width="12" height="12" fill="rgb(79,100,84)"/><rect x="426" y="295" width="12" height="12" fill="rgb(78,100,84)"/><rect x="438" y="295" width="12" height="12" fill="rgb(77,100,84)"/><rect x="90" y="307" width="12" height="12" fill="rgb(70,135,140)"/><rect x="102" y="307" width="12" height="12" fill="rgb(71,133,140)"/><rect x="114" y="307" width="12" height="12" fill="rgb(73,131,140)"/><rect x="126" y="307" width="12" height="12" fill="rgb(74,128,139)"/><rect x="138" y="307" width="12" height="12" fill="rgb(75,126,138)"/><rect x="150" y="307" width="12" height="12" fill="rgb(76,124,134)"/><rect x="162" y="307" width="12" height="12" fill="rgb(77,122,131)"/><rect x="174" y="307" width="12" height="12" fill="rgb(79,121,129)"/><rect x="186" y="307" width="12" height="12" fill="rgb(83,120,128)"/><rect x="198" y="307" width="12" height="12" fill="rgb(88,119,128)"/><rect x="210" y="307" width="12" height="12" fill="rgb(97,119,128)"/><rect x="222" y="307" width="12" height="12" fill="rgb(109,118,128)"/><rect x="234" y="307" width="12" height="12" fill="rgb(122,118,127)"/><rect x="246" y="307" width="12" height="12" fill="rgb(133,117,127)"/><rect x="258" y="307" width="12" height="12" fill="rgb(141,115,127)"/><rect x="270" y="307" width="12" height="12" fill="rgb(145,111,127)"/><rect x="282" y="307" width="12" height="12" fill="rgb(144,108,127)"/><rect x="294" y="307" width="12" height="12" fill="rgb(138,107,127)"/><rect x="306" y="307" width="12" height="12" fill="rgb(128,107,127)"/><rect x="318" y="307" width="12" height="12" fill="rgb(118,106,126)"/><rect x="330" y="307" width="12" height="12" fill="rgb(109,106,122)"/><rect x="342" y="307" width="12" height="12" fill="rgb(101,106,111)"/><rect x="354" y="307" width="12" height="12" fill="rgb(94,105,97)"/><rect x="366" y="307" width="12" height="12" fill="rgb(90,102,92)"/><rect x="378" y="307" width="12" height="12" fill="rgb(87,100,91)"/><rect x="390" y="307" width="12" height="12" fill="rgb(85,100,90)"/><rect x="402" y="307" width="12" height="12" fill="rgb(84,100,90)"/><rect x="414" y="307" width="12" height="12" fill="rgb(82,100,90)"/><rect x="426" y="307" width="12" height="12" fill="rgb(80,100,90)"/><rect x="438" y="307" width="12" height="12" fill="rgb(79,100,90)"/><rect x="90" y="319" width="12" height="12" fill="rgb(74,123,140)"/><rect x="102" y="319" width="12" height="12" fill="rgb(75,127,140)"/><rect x="114" y="319" width="12" height="12" fill="rgb(76,124,138)"/><rect x="126" y="319" width="12" height="12" fill="rgb(77,122,135)"/><rect x="138" y="319" width="12" height="12" fill="rgb(78,121,131)"/><rect x="150" y="319" width="12" height="12" fill="rgb(79,120,129)"/><rect x="162" y="319" width="12" height="12" fill="rgb(81,119,128)"/><rect x="174" y="319" width="12" height="12" fill="rgb(84,118,128)"/><rect x="186" y="319" width="12" height="12" fill="rgb(88,118,128)"/><rect x="198" y="319" width="12" height="12" fill="rgb(94,117,128)"/><rect x="210" y="319" width="12" height="12" fill="rgb(102,117,128)"/><rect x="222" y="319" width="12" height="12" fill="rgb(112,117,128)"/><rect x="234" y="319" width="12" height="12" fill="rgb(123,117,127)"/><rect x="246" y="319" width="12" height="12" fill="rgb(134,116,127)"/><rect x="258" y="319" width="12" height="12" fill="rgb(142,114,127)"/><rect x="270" y="319" width="12" height="12" fill="rgb(146,110,127)"/><rect x="282" y="319" width="12" height="12" fill="rgb(146,108,127)"/><rect x="294" y="319" width="12" height="12" fill="rgb(141,107,127)"/><rect x="306" y="319" width="12" height="12" fill="rgb(131,107,127)"/><rect x="318" y="319" width="12" height="12" fill="rgb(121,106,125)"/><rect x="330" y="319" width="12" height="12" fill="rgb(112,106,121)"/><rect x="342" y="319" width="12" height="12" fill="rgb(105,106,111)"/><rect x="354" y="319" width="12" height="12" fill="rgb(100,106,103)"/><rect x="366" y="319" width="12" height="12" fill="rgb(97,104,100)"/><rect x="378" y="319" width="12" height="12" fill="rgb(99,101,100)"/><rect x="390" y="319" width="12" height="12" fill="rgb(103,100,100)"/><rect x="402" y="319" width="12" height="12" fill="rgb(106,100,100)"/><rect x="414" y="319" width="12" height="12" fill="rgb(106,100,100)"/><rect x="426" y="319" width="12" height="12" fill="rgb(103,100,100)"/><rect x="438" y="319" width="12" height="12" fill="rgb(98,100,100)"/><rect x="90" y="331" width="12" height="12" fill="rgb(77,103,17)"/><rect x="102" y="331" width="12" height="12" fill="rgb(78,121,136)"/><rect x="114" y="331" width="12" height="12" fill="rgb(78,119,132)"/><rect x="126" y="331" width="12" height="12" fill="rgb(80,119,129)"/><rect x="138" y="331" width="12" height="12" fill="rgb(81,118,128)"/><rect x="150" y="331" width="12" height="12" fill="rgb(83,118,128)"/><rect x="162" y="331" width="12" height="12" fill="rgb(86,117,128)"/><rect x="174" y="331" width="12" height="12" fill="rgb(89,117,128)"/><rect x="186" y="331" width="12" height="12" fill="rgb(93,117,128)"/><rect x="198" y="331" width="12" height="12" fill="rgb(98,117,128)"/><rect x="210" y="331" width="12" height="12" fill="rgb(104,116,128)"/><rect x="222" y="331" width="12" height="12" fill="rgb(112,116,127)"/><rect x="234" y="331" width="12" height="12" fill="rgb(121,116,127)"/><rect x="246" y="331" width="12" height="12" fill="rgb(131,115,127)"/><rect x="258" y="331" width="12" height="12" fill="rgb(140,112,127)"/><rect x="270" y="331" width="12" height="12" fill="rgb(145,109,127)"/><rect x="282" y="331" width="12" height="12" fill="rgb(146,107,127)"/><rect x="294" y="331" width="12" height="12" fill="rgb(141,107,127)"/><rect x="306" y="331" width="12" height="12" fill="rgb(131,107,125)"/><rect x="318" y="331" width="12" height="12" fill="rgb(121,106,122)"/><rect x="330" y="331" width="12" height="12" fill="rgb(112,106,115)"/><rect x="342" y="331" width="12" height="12" fill="rgb(107,106,106)"/><rect x="354" y="331" width="12" height="12" fill="rgb(107,106,102)"/><rect x="366" y="331" width="12" height="12" fill="rgb(117,106,101)"/><rect x="378" y="331" width="12" height="12" fill="rgb(133,104,102)"/><rect x="390" y="331" width="12" height="12" fill="rgb(145,101,102)"/><rect x="402" y="331" width="12" height="12" fill="rgb(152,100,102)"/><rect x="414" y="331" width="12" height="12" fill="rgb(155,100,102)"/><rect x="426" y="331" width="12" height="12" fill="rgb(155,100,102)"/><rect x="438" y="331" width="12" height="12" fill="rgb(152,100,102)"/><rect x="90" y="343" width="12" height="12" fill="rgb(79,88,2)"/><rect x="102" y="343" width="12" height="12" fill="rgb(80,118,58)"/><rect x="114" y="343" width="12" height="12" fill="rgb(82,117,128)"/><rect x="126" y="343" width="12" height="12" fill="rgb(83,117,128)"/><rect x="138" y="343" width="12" height="12" fill="rgb(85,117,128)"/><rect x="150" y="343" width="12" height="12" fill="rgb(88,117,128)"/><rect x="162" y="343" width="12" height="12" fill="rgb(90,116,128)"/><rect x="174" y="343" width="12" height="12" fill="rgb(93,116,128)"/><rect x="186" y="343" width="12" height="12" fill="rgb(96,116,128)"/><rect x="198" y="343" width="12" height="12" fill="rgb(99,116,128)"/><rect x="210" y="343" width="12" height="12" fill="rgb(103,116,128)"/><rect x="222" y="343" width="12" height="12" fill="rgb(108,116,127)"/><rect x="234" y="343" width="12" height="12" fill="rgb(116,115,127)"/><rect x="246" y="343" width="12" height="12" fill="rgb(125,112,127)"/><rect x="258" y="343" width="12" height="12" fill="rgb(135,109,127)"/><rect x="270" y="343" width="12" height="12" fill="rgb(142,107,127)"/><rect x="282" y="343" width="12" height="12" fill="rgb(143,107,127)"/><rect x="294" y="343" width="12" height="12" fill="rgb(137,107,125)"/><rect x="306" y="343" width="12" height="12" fill="rgb(128,106,122)"/><rect x="318" y="343" width="12" height="12" fill="rgb(116,106,116)"/><rect x="330" y="343" width="12" height="12" fill="rgb(108,106,108)"/><rect x="342" y="343" width="12" height="12" fill="rgb(105,106,102)"/><rect x="354" y="343" width="12" height="12" fill="rgb(112,106,101)"/><rect x="366" y="343" width="12" height="12" fill="rgb(130,106,101)"/><rect x="378" y="343" width="12" height="12" fill="rgb(149,106,102)"/><rect x="390" y="343" width="12" height="12" fill="rgb(160,104,102)"/><rect x="402" y="343" width="12" height="12" fill="rgb(165,101,102)"/><rect x="414" y="343" width="12" height="12" fill="rgb(166,100,102)"/><rect x="426" y="343" width="12" height="12" fill="rgb(167,100,102)"/><rect x="438" y="343" width="12" height="12" fill="rgb(167,100,102)"/><rect x="90" y="355" width="12" height="12" fill="rgb(82,77,1)"/><rect x="102" y="355" width="12" height="12" fill="rgb(84,105,21)"/><rect x="114" y="355" width="12" height="12" fill="rgb(86,117,128)"/><rect x="126" y="355" width="12" height="12" fill="rgb(88,116,128)"/><rect x="138" y="355" width="12" height="12" fill="rgb(90,116,128)"/><rect x="150" y="355" width="12" height="12" fill="rgb(92,116,128)"/><rect x="162" y="355" width="12" height="12" fill="rgb(93,116,128)"/><rect x="174" y="355" width="12" height="12" fill="rgb(95,116,128)"/><rect x="186" y="355" width="12" height="12" fill="rgb(96,116,128)"/><rect x="198" y="355" width="12" height="12" fill="rgb(98,116,128)"/><rect x="210" y="355" width="12" height="12" fill="rgb(100,116,127)"/><rect x="222" y="355" width="12" height="12" fill="rgb(103,115,127)"/><rect x="234" y="355" width="12" height="12" fill="rgb(109,112,127)"/><rect x="246" y="355" width="12" height="12" fill="rgb(117,109,127)"/><rect x="258" y="355" width="12" height="12" fill="rgb(127,107,127)"/><rect x="270" y="355" width="12" height="12" fill="rgb(134,107,127)"/><rect x="282" y="355" width="12" height="12" fill="rgb(136,107,125)"/><rect x="294" y="355" width="12" height="12" fill="rgb(131,106,122)"/><rect x="306" y="355" width="12" height="12" fill="rgb(120,106,116)"/><rect x="318" y="355" width="12" height="12" fill="rgb(109,106,108)"/><rect x="330" y="355" width="12" height="12" fill="rgb(102,106,102)"/><rect x="342" y="355" width="12" height="12" fill="rgb(102,106,99)"/><rect x="354" y="355" width="12" height="12" fill="rgb(113,106,100)"/><rect x="366" y="355" width="12" height="12" fill="rgb(133,106,101)"/><rect x="378" y="355" width="12" height="12" fill="rgb(152,106,101)"/><rect x="390" y="355" width="12" height="12" fill="rgb(162,106,102)"/><rect x="402" y="355" width="12" height="12" fill="rgb(166,105,102)"/><rect x="414" y="355" width="12" height="12" fill="rgb(167,103,102)"/><rect x="426" y="355" width="12" height="12" fill="rgb(168,100,102)"/><rect x="438" y="355" width="12" height="12" fill="rgb(168,100,102)"/><rect x="90" y="367" width="12" height="12" fill="rgb(86,77,0)"/><rect x="102" y="367" width="12" height="12" fill="rgb(88,90,6)"/><rect x="114" y="367" width="12" height="12" fill="rgb(90,116,128)"/><rect x="126" y="367" width="12" height="12" fill="rgb(92,116,128)"/><rect x="138" y="367" width="12" height="12" fill="rgb(93,116,128)"/><rect x="150" y="367" width="12" height="12" fill="rgb(94,116,128)"/><rect x="162" y="367" width="12" height="12" fill="rgb(95,116,128)"/><rect x="174" y="367" width="12" height="12" fill="rgb(95,116,128)"/><rect x="186" y="367" width="12" height="12" fill="rgb(95,116,128)"/><rect x="198" y="367" width="12" height="12" fill="rgb(96,116,127)"/><rect x="210" y="367" width="12" height="12" fill="rgb(97,114,127)"/><rect x="222" y="367" width="12" height="12" fill="rgb(100,112,127)"/><rect x="234" y="367" width="12" height="12" fill="rgb(104,108,127)"/><rect x="246" y="367" width="12" height="12" fill="rgb(110,107,127)"/><rect x="258" y="367" width="12" height="12" fill="rgb(118,107,127)"/><rect x="270" y="367" width="12" height="12" fill="rgb(125,107,125)"/><rect x="282" y="367" width="12" height="12" fill="rgb(127,106,122)"/><rect x="294" y="367" width="12" height="12" fill="rgb(122,106,116)"/><rect x="306" y="367" width="12" height="12" fill="rgb(112,106,108)"/><rect x="318" y="367" width="12" height="12" fill="rgb(103,106,102)"/><rect x="330" y="367" width="12" height="12" fill="rgb(98,106,99)"/><rect x="342" y="367" width="12" height="12" fill="rgb(100,106,98)"/><rect x="354" y="367" width="12" height="12" fill="rgb(112,106,99)"/><rect x="366" y="367" width="12" height="12" fill="rgb(134,106,100)"/><rect x="378" y="367" width="12" height="12" fill="rgb(152,106,101)"/><rect x="390" y="367" width="12" height="12" fill="rgb(162,106,102)"/><rect x="402" y="367" width="12" height="12" fill="rgb(166,106,102)"/><rect x="414" y="367" width="12" height="12" fill="rgb(168,106,102)"/><rect x="426" y="367" width="12" height="12" fill="rgb(168,104,102)"/><rect x="438" y="367" width="12" height="12" fill="rgb(168,101,102)"/><rect x="90" y="379" width="12" height="12" fill="rgb(23,77,0)"/><rect x="102" y="379" width="12" height="12" fill="rgb(92,77,1)"/><rect x="114" y="379" width="12" height="12" fill="rgb(93,100,42)"/><rect x="126" y="379" width="12" height="12" fill="rgb(94,116,128)"/><rect x="138" y="379" width="12" height="12" fill="rgb(94,116,128)"/><rect x="150" y="379" width="12" height="12" fill="rgb(94,116,128)"/><rect x="162" y="379" width="12" height="12" fill="rgb(94,116,128)"/><rect x="174" y="379" width="12" height="12" fill="rgb(94,116,128)"/><rect x="186" y="379" width="12" height="12" fill="rgb(95,116,127)"/><rect x="198" y="379" width="12" height="12" fill="rgb(95,114,127)"/><rect x="210" y="379" width="12" height="12" fill="rgb(96,111,127)"/><rect x="222" y="379" width="12" height="12" fill="rgb(98,108,127)"/><rect x="234" y="379" width="12" height="12" fill="rgb(101,107,127)"/><rect x="246" y="379" width="12" height="12" fill="rgb(105,107,127)"/><rect x="258" y="379" width="12" height="12" fill="rgb(111,107,126)"/><rect x="270" y="379" width="12" height="12" fill="rgb(117,106,122)"/><rect x="282" y="379" width="12" height="12" fill="rgb(118,106,116)"/><rect x="294" y="379" width="12" height="12" fill="rgb(114,106,108)"/><rect x="306" y="379" width="12" height="12" fill="rgb(105,106,102)"/><rect x="318" y="379" width="12" height="12" fill="rgb(99,106,98)"/><rect x="330" y="379" width="12" height="12" fill="rgb(96,106,97)"/><rect x="342" y="379" width="12" height="12" fill="rgb(99,106,97)"/><rect x="354" y="379" width="12" height="12" fill="rgb(112,106,99)"/><rect x="366" y="379" width="12" height="12" fill="rgb(133,106,100)"/><rect x="378" y="379" width="12" height="12" fill="rgb(152,106,101)"/><rect x="390" y="379" width="12" height="12" fill="rgb(162,106,102)"/><rect x="402" y="379" width="12" height="12" fill="rgb(166,106,102)"/><rect x="414" y="379" width="12" height="12" fill="rgb(168,106,102)"/><rect x="426" y="379" width="12" height="12" fill="rgb(168,106,102)"/><rect x="438" y="379" width="12" height="12" fill="rgb(168,99,102)"/><rect x="90" y="391" width="12" height="12" fill="rgb(6,77,0)"/><rect x="102" y="391" width="12" height="12" fill="rgb(94,77,0)"/><rect x="114" y="391" width="12" height="12" fill="rgb(94,80,7)"/><rect x="126" y="391" width="12" height="12" fill="rgb(94,105,128)"/><rect x="138" y="391" width="12" height="12" fill="rgb(94,116,128)"/><rect x="150" y="391" width="12" height="12" fill="rgb(94,116,128)"/><rect x="162" y="391" width="12" height="12" fill="rgb(94,116,128)"/><rect x="174" y="391" width="12" height="12" fill="rgb(94,115,127)"/><rect x="186" y="391" width="12" height="12" fill="rgb(95,114,127)"/><rect x="198" y="391" width="12" height="12" fill="rgb(95,110,127)"/><rect x="210" y="391" width="12" height="12" fill="rgb(96,108,127)"/><rect x="222" y="391" width="12" height="12" fill="rgb(98,107,127)"/><rect x="234" y="391" width="12" height="12" fill="rgb(100,107,127)"/><rect x="246" y="391" width="12" height="12" fill="rgb(103,106,126)"/><rect x="258" y="391" width="12" height="12" fill="rgb(106,106,123)"/><rect x="270" y="391" width="12" height="12" fill="rgb(110,106,116)"/><rect x="282" y="391" width="12" height="12" fill="rgb(111,106,108)"/><rect x="294" y="391" width="12" height="12" fill="rgb(107,106,102)"/><rect x="306" y="391" width="12" height="12" fill="rgb(101,106,98)"/><rect x="318" y="391" width="12" height="12" fill="rgb(96,106,97)"/><rect x="330" y="391" width="12" height="12" fill="rgb(95,106,96)"/><rect x="342" y="391" width="12" height="12" fill="rgb(98,106,97)"/><rect x="354" y="391" width="12" height="12" fill="rgb(110,106,98)"/><rect x="366" y="391" width="12" height="12" fill="rgb(132,106,100)"/><rect x="378" y="391" width="12" height="12" fill="rgb(152,106,101)"/><rect x="390" y="391" width="12" height="12" fill="rgb(162,106,102)"/><rect x="402" y="391" width="12" height="12" fill="rgb(166,106,102)"/><rect x="414" y="391" width="12" height="12" fill="rgb(168,106,102)"/><rect x="426" y="391" width="12" height="12" fill="rgb(168,106,102)"/><rect x="438" y="391" width="12" height="12" fill="rgb(168,93,102)"/><rect x="90" y="403" width="12" height="12" fill="rgb(1,77,0)"/><rect x="102" y="403" width="12" height="12" fill="rgb(38,77,0)"/><rect x="114" y="403" width="12" height="12" fill="rgb(94,77,1)"/><rect x="126" y="403" width="12" height="12" fill="rgb(94,83,20)"/><rect x="138" y="403" width="12" height="12" fill="rgb(94,105,128)"/><rect x="150" y="403" width="12" height="12" fill="rgb(94,116,127)"/><rect x="162" y="403" width="12" height="12" fill="rgb(94,115,127)"/><rect x="174" y="403" width="12" height="12" fill="rgb(95,113,127)"/><rect x="186" y="403" width="12" height="12" fill="rgb(95,110,127)"/><rect x="198" y="403" width="12" height="12" fill="rgb(96,108,127)"/><rect x="210" y="403" width="12" height="12" fill="rgb(97,107,127)"/><rect x="222" y="403" width="12" height="12" fill="rgb(99,107,127)"/><rect x="234" y="403" width="12" height="12" fill="rgb(100,106,127)"/><rect x="246" y="403" width="12" height="12" fill="rgb(102,106,123)"/><rect x="258" y="403" width="12" height="12" fill="rgb(104,106,117)"/><rect x="270" y="403" width="12" height="12" fill="rgb(106,106,109)"/><rect x="282" y="403" width="12" height="12" fill="rgb(106,106,102)"/><rect x="294" y="403" width="12" height="12" fill="rgb(103,106,98)"/><rect x="306" y="403" width="12" height="12" fill="rgb(98,106,97)"/><rect x="318" y="403" width="12" height="12" fill="rgb(95,106,96)"/><rect x="330" y="403" width="12" height="12" fill="rgb(94,106,96)"/><rect x="342" y="403" width="12" height="12" fill="rgb(97,106,97)"/><rect x="354" y="403" width="12" height="12" fill="rgb(108,106,98)"/><rect x="366" y="403" width="12" height="12" fill="rgb(130,106,99)"/><rect x="378" y="403" width="12" height="12" fill="rgb(151,106,101)"/><rect x="390" y="403" width="12" height="12" fill="rgb(162,106,101)"/><rect x="402" y="403" width="12" height="12" fill="rgb(166,106,102)"/><rect x="414" y="403" width="12" height="12" fill="rgb(168,106,102)"/><rect x="426" y="403" width="12" height="12" fill="rgb(168,106,102)"/><rect x="438" y="403" width="12" height="12" fill="rgb(168,86,102)"/><rect x="90" y="415" width="12" height="12" fill="rgb(0,77,0)"/><rect x="102" y="415" width="12" height="12" fill="rgb(9,77,0)"/><rect x="114" y="415" width="12" height="12" fill="rgb(94,77,0)"/><rect x="126" y="415" width="12" height="12" fill="rgb(94,77,2)"/><rect x="138" y="415" width="12" height="12" fill="rgb(94,80,31)"/><rect x="150" y="415" width="12" height="12" fill="rgb(94,100,127)"/><rect x="162" y="415" width="12" height="12" fill="rgb(95,113,127)"/><rect x="174" y="415" width="12" height="12" fill="rgb(96,109,127)"/><rect x="186" y="415" width="12" height="12" fill="rgb(96,107,127)"/><rect x="198" y="415" width="12" height="12" fill="rgb(97,107,127)"/><rect x="210" y="415" width="12" height="12" fill="rgb(98,107,127)"/><rect x="222" y="415" width="12" height="12" fill="rgb(99,106,127)"/><rect x="234" y="415" width="12" height="12" fill="rgb(100,106,124)"/><rect x="246" y="415" width="12" height="12" fill="rgb(102,106,118)"/><rect x="258" y="415" width="12" height="12" fill="rgb(103,106,109)"/><rect x="270" y="415" width="12" height="12" fill="rgb(104,106,102)"/><rect x="282" y="415" width="12" height="12" fill="rgb(103,106,98)"/><rect x="294" y="415" width="12" height="12" fill="rgb(100,106,97)"/><rect x="306" y="415" width="12" height="12" fill="rgb(96,106,96)"/><rect x="318" y="415" width="12" height="12" fill="rgb(94,106,96)"/><rect x="330" y="415" width="12" height="12" fill="rgb(94,106,96)"/><rect x="342" y="415" width="12" height="12" fill="rgb(96,106,96)"/><rect x="354" y="415" width="12" height="12" fill="rgb(106,106,97)"/><rect x="366" y="415" width="12" height="12" fill="rgb(127,106,99)"/><rect x="378" y="415" width="12" height="12" fill="rgb(149,106,100)"/><rect x="390" y="415" width="12" height="12" fill="rgb(162,106,101)"/><rect x="402" y="415" width="12" height="12" fill="rgb(166,106,102)"/><rect x="414" y="415" width="12" height="12" fill="rgb(168,106,102)"/><rect x="426" y="415" width="12" height="12" fill="rgb(168,106,102)"/><rect x="438" y="415" width="12" height="12" fill="rgb(168,77,102)"/></g>
<path d="M107.9,107.5 L110.0,110.1 L113.6,115.4 L120.5,122.6 L131.0,135.2 L141.4,149.8 L151.9,166.6 L160.3,181.3 L168.7,198.0" fill="none" stroke="#f09a22" stroke-width="4.5" stroke-linejoin="round"/>
<path d="M168.7,198.0 L177.1,216.9 L179.1,220.0 L185.9,238.2 L192.7,256.4 L199.5,275.7 L206.4,285.9 L215.5,301.8 L224.5,317.7 L226.3,320.0 L232.6,329.4 L238.9,340.5 L243.6,351.5 L247.6,360.9 L250.7,372.0 L253.1,383.0 L253.9,390.9" fill="none" stroke="#dce22a" stroke-width="8.5" stroke-linejoin="round"/></g>
<path d="M138.3,72.1 L139.3,75.5 L142.0,77.6 L146.2,78.1 L150.4,76.5 L154.6,76.5 L159.8,78.6 L165.0,77.6 L171.4,75.5 L173.5,76.5 L178.7,78.1 L179.7,83.9 L183.9,85.5 L187.1,87.6 L194.4,89.1 L202.2,89.2 L203.5,92.2 L205.9,94.7 L214.5,94.1 L223.0,93.5 L227.9,95.9 L232.2,98.4 L233.5,103.3 L235.9,108.2 L236.5,115.5 L239.0,121.6 L242.6,125.9 L243.9,131.4 L248.8,137.5 L253.6,141.8 L258.5,144.3 L268.3,143.6 L278.1,141.8 L287.3,139.0 L291.0,135.3 L289.8,130.4 L293.5,126.7 L297.7,122.4 L301.4,121.2 L309.4,124.9 L316.7,123.0 L326.5,121.2 L332.6,118.8 L337.5,113.3 L342.4,105.9 L346.7,102.9 L351.0,101.0 L352.2,107.1 L354.0,112.6 L358.3,123.0 L363.2,131.6 L366.3,137.7 L365.7,141.4 L368.1,145.1 L373.0,145.7 L376.7,141.4 L379.4,137.6 L385.7,138.3 L392.0,138.3 L401.5,135.2 L410.9,132.0 L417.2,128.9 L420.4,125.7 L425.1,123.4 L427.5,124.2 L429.8,130.5 L430.6,138.3 L431.4,149.4 L430.6,163.5 L429.8,171.4 L425.1,176.1 L417.2,180.9 L407.8,185.6 L398.3,189.5 L395.2,193.5 L396.0,196.6 L398.5,197.0 L402.0,202.2 L406.3,209.2 L409.0,216.2 L411.6,223.2 L409.8,230.2 L410.7,235.5 L416.0,240.7 L419.4,246.0 L419.4,256.4 L418.6,266.9 L414.2,273.9 L407.2,277.4 L400.2,279.2 L391.5,281.8 L382.7,282.7 L375.0,285.9 L368.2,290.5 L361.4,295.0 L353.4,299.5 L345.5,299.5 L340.9,300.7 L352.3,304.1 L355.7,306.4 L354.5,310.9 L343.2,309.8 L339.8,313.2 L337.5,322.3 L335.2,331.4 L335.2,338.2 L343.2,342.7 L348.8,344.3 L354.5,347.3 L359.0,350.2 L365.9,353.6 L374.4,354.5 L381.2,360.4 L389.7,368.9 L399.9,374.9 L398.2,385.9 L393.1,392.7 L386.3,396.1 L376.1,397.8 L369.3,397.8 L364.1,402.1 L357.3,401.2 L355.6,398.7 L347.1,399.5 L342.0,402.9 L331.8,400.4 L318.2,397.8 L304.6,394.4 L291.0,393.6 L289.3,396.1 L286.1,394.0 L279.8,392.4 L272.0,392.4 L265.7,393.2 L257.8,395.6 L255.4,400.3 L253.9,390.9 L253.1,383.0 L250.7,372.0 L247.6,360.9 L243.6,351.5 L238.9,340.5 L232.6,329.4 L226.3,320.0 L224.5,317.7 L215.5,301.8 L206.4,285.9 L199.5,275.7 L192.7,256.4 L185.9,238.2 L179.1,220.0 L177.1,216.9 L168.7,198.0 L160.3,181.3 L151.9,166.6 L141.4,149.8 L131.0,135.2 L120.5,122.6 L113.6,115.4 L110.0,110.1 L107.9,107.5 L108.9,103.8 L111.5,101.2 L116.8,96.5 L122.0,91.8 L128.3,86.0 L130.4,82.8 L129.9,79.2 L133.6,77.6 Z" fill="none" stroke="#2a2a2a" stroke-width="1.1" stroke-linejoin="round"/>
<path d="M200.0,277.2 L208.3,280.5 L216.6,278.9 L223.2,273.0 L228.2,264.8 L230.7,258.9 L234.9,259.8 L241.5,261.4 L244.8,263.1 L245.7,256.4 L248.2,252.3 L253.1,251.5 L256.5,254.8 L254.8,259.8 L256.5,263.1 L263.1,262.3 L268.1,256.4 L271.4,248.1 L273.9,243.2 L278.1,236.5 L281.4,226.5 L281.4,218.2 L282.2,211.6 L285.5,208.3 L289.7,204.1 L293.8,198.3 L298.4,191.6 L302.6,186.4 L305.7,183.2 L307.8,184.3 L309.9,186.4 L313.1,186.4 L316.2,183.2 L318.3,179.0 L320.9,174.8 L321.4,169.6 L319.4,166.4 L317.3,163.8 L318.3,162.3 L321.4,163.3 L323.5,166.4 L325.6,170.1 L327.7,169.6 L329.8,166.4 L333.0,162.3 L335.1,159.1 L337.2,154.9 L340.3,153.9 L347.7,155.4 L351.8,154.4 L355.0,151.8 L356.0,146.5 L359.2,145.5 L358.1,143.4 L359.2,140.8 L362.3,141.3 L365.5,141.5" fill="none" stroke="#2a2a2a" stroke-width="1.1"/>
<line x1="110.4" y1="43.6" x2="110.4" y2="440.6" stroke="#a8a8a8" stroke-width="1"/>
<line x1="253.5" y1="43.6" x2="253.5" y2="440.6" stroke="#a8a8a8" stroke-width="1"/>
<line x1="396.8" y1="43.6" x2="396.8" y2="440.6" stroke="#a8a8a8" stroke-width="1"/>
<line x1="37.6" y1="71" x2="443.4" y2="71" stroke="#a8a8a8" stroke-width="1"/>
<line x1="37.6" y1="259" x2="443.4" y2="259" stroke="#a8a8a8" stroke-width="1"/>
<rect x="38.9" y="271.5" width="153.1" height="150.3" fill="#fff"/>
<rect x="37.6" y="43.6" width="405.8" height="397.0" fill="none" stroke="#000" stroke-width="2.6" stroke-linejoin="round"/>
<line x1="110.4" y1="34.3" x2="110.4" y2="43.6" stroke="#000" stroke-width="2.5" stroke-linecap="round"/>
<line x1="110.4" y1="440.6" x2="110.4" y2="449.90000000000003" stroke="#000" stroke-width="2.5" stroke-linecap="round"/>
<line x1="253.5" y1="34.3" x2="253.5" y2="43.6" stroke="#000" stroke-width="2.5" stroke-linecap="round"/>
<line x1="253.5" y1="440.6" x2="253.5" y2="449.90000000000003" stroke="#000" stroke-width="2.5" stroke-linecap="round"/>
<line x1="396.8" y1="34.3" x2="396.8" y2="43.6" stroke="#000" stroke-width="2.5" stroke-linecap="round"/>
<line x1="396.8" y1="440.6" x2="396.8" y2="449.90000000000003" stroke="#000" stroke-width="2.5" stroke-linecap="round"/>
<line x1="28.1" y1="71" x2="37.6" y2="71" stroke="#000" stroke-width="2.5" stroke-linecap="round"/>
<line x1="443.4" y1="71" x2="452.9" y2="71" stroke="#000" stroke-width="2.5" stroke-linecap="round"/>
<line x1="28.1" y1="259" x2="37.6" y2="259" stroke="#000" stroke-width="2.5" stroke-linecap="round"/>
<line x1="443.4" y1="259" x2="452.9" y2="259" stroke="#000" stroke-width="2.5" stroke-linecap="round"/>
<text x="110.4" y="28.200000000000003" class="lab" text-anchor="middle">14°50'0"E</text>
<text x="110.4" y="471.1" class="lab" text-anchor="middle">14°50'0"E</text>
<text x="253.5" y="28.200000000000003" class="lab" text-anchor="middle">15°0'0"E</text>
<text x="253.5" y="471.1" class="lab" text-anchor="middle">15°0'0"E</text>
<text x="396.8" y="28.200000000000003" class="lab" text-anchor="middle">15°10'0"E</text>
<text x="396.8" y="471.1" class="lab" text-anchor="middle">15°10'0"E</text>
<text transform="translate(21.1,69.8) rotate(-90)" class="lab" text-anchor="middle">40°40'0"N</text>
<text transform="translate(474.59999999999997,69.8) rotate(-90)" class="lab" text-anchor="middle">40°40'0"N</text>
<text transform="translate(21.1,257.8) rotate(-90)" class="lab" text-anchor="middle">40°30'0"N</text>
<text transform="translate(474.59999999999997,257.8) rotate(-90)" class="lab" text-anchor="middle">40°30'0"N</text>
<defs>
<linearGradient id="gA" x1="0" y1="0" x2="0" y2="1"><stop offset="0" stop-color="#2ee81a"/><stop offset="1" stop-color="#e8f200"/></linearGradient>
<linearGradient id="gB" x1="0" y1="0" x2="0" y2="1"><stop offset="0" stop-color="#ffe200"/><stop offset="0.5" stop-color="#ff9a10"/><stop offset="1" stop-color="#ec1c0c"/></linearGradient>
</defs>
<text x="63" y="291.5" class="lg">RapidEye</text>
<text x="57" y="317.7" class="lg">CCC [g</text>
<text x="136.6" y="315.6" class="lg" style="font-size:13px">·</text>
<text x="141.3" y="317.7" class="lg">m</text>
<text x="163.6" y="307.6" class="lg" style="font-size:18px">-2</text>
<text x="183.6" y="317.7" class="lg">]</text>
<rect x="56.2" y="352.6" width="27.5" height="19.7" fill="url(#gA)"/>
<rect x="56.2" y="376.7" width="27.5" height="20.1" fill="url(#gB)"/>
<text x="90" y="359.9" class="sb">4.20</text>
<text x="90" y="408.4" class="sb">0.50</text>
<g transform="translate(0,0)">
<rect x="58.6" y="539.8" width="306.9" height="11.6" fill="#fff" stroke="#000" stroke-width="1.4"/>
<rect x="58.6" y="539.2" width="35.2" height="12.8" fill="#000"/>
<rect x="126.6" y="539.2" width="35.2" height="12.8" fill="#000"/>
<rect x="262.3" y="539.2" width="103.2" height="12.8" fill="#000"/>
<text x="59.25" y="527.5" class="sb" text-anchor="middle">0</text>
<text x="110.2" y="527.5" class="sb" text-anchor="middle">5</text>
<text x="161.4" y="527.5" class="sb" text-anchor="middle">10</text>
<text x="262.7" y="527.5" class="sb" text-anchor="middle">20</text>
<text x="364.4" y="527.5" class="sb" text-anchor="middle">30</text>
<text x="372.5" y="550.3" class="sb">km</text>
<path d="M426.8,504.2 L427.7,561.7 M426.8,504.2 L436.3,528.3 L427.2,524" fill="none" stroke="#000" stroke-width="1.4" stroke-linejoin="miter"/>
<path d="M423,557.5 L423,544 L433,557.5 L433,544" fill="none" stroke="#000" stroke-width="1.6"/>
</g>
<filter id="fR" x="600" y="50" width="360" height="370" filterUnits="userSpaceOnUse"><feGaussianBlur stdDeviation="0.6"/></filter><g filter="url(#fR)">
<path d="M714.8 169.6h5.0v5.0h-5.0z" fill="#eb3113" shape-rendering="crispEdges"/>
<path d="M824.8 191.6h5.0v5.0h-5.0z" fill="#ed4015" shape-rendering="crispEdges"/>
<path d="M736.8 147.6h5.0v5.0h-5.0zM714.8 165.2h5.0v5.0h-5.0zM908.4 165.2h5.0v5.0h-5.0zM829.2 182.8h5.0v5.0h-5.0zM723.6 200.4h5.0v5.0h-5.0zM873.2 394.0h5.0v5.0h-5.0z" fill="#ee4a16" shape-rendering="crispEdges"/>
<path d="M688.4 108.0h5.0v5.0h-5.0zM741.2 112.4h9.4v5.0h-9.4zM750.0 147.6h5.0v5.0h-5.0zM732.4 152.0h9.4v5.0h-9.4zM904.0 165.2h5.0v5.0h-5.0zM719.2 169.6h5.0v5.0h-5.0zM824.8 187.2h5.0v5.0h-5.0zM714.8 196.0h5.0v5.0h-5.0zM723.6 248.8h5.0v5.0h-5.0zM723.6 253.2h5.0v5.0h-5.0zM820.4 345.6h5.0v5.0h-5.0z" fill="#ef5317" shape-rendering="crispEdges"/>
<path d="M635.6 103.6h5.0v5.0h-5.0zM706.0 108.0h5.0v5.0h-5.0zM745.6 108.0h5.0v5.0h-5.0zM653.2 134.4h5.0v5.0h-5.0zM745.6 143.2h5.0v5.0h-5.0zM714.8 147.6h5.0v5.0h-5.0zM754.4 147.6h5.0v5.0h-5.0zM772.0 152.0h5.0v5.0h-5.0zM697.2 156.4h9.4v5.0h-9.4zM802.8 165.2h5.0v5.0h-5.0zM904.0 169.6h5.0v5.0h-5.0zM688.4 174.0h5.0v5.0h-5.0zM824.8 182.8h5.0v5.0h-5.0zM829.2 187.2h5.0v5.0h-5.0zM714.8 200.4h9.4v5.0h-9.4zM899.6 200.4h5.0v5.0h-5.0zM710.4 204.8h5.0v5.0h-5.0zM723.6 204.8h5.0v5.0h-5.0zM719.2 218.0h5.0v5.0h-5.0zM886.4 222.4h5.0v5.0h-5.0zM736.8 297.2h5.0v5.0h-5.0zM855.6 350.0h5.0v5.0h-5.0zM904.0 376.4h5.0v5.0h-5.0zM868.8 380.8h5.0v5.0h-5.0z" fill="#f05c18" shape-rendering="crispEdges"/>
<path d="M736.8 94.8h5.0v5.0h-5.0zM692.8 108.0h5.0v5.0h-5.0zM706.0 112.4h9.4v5.0h-9.4zM640.0 116.8h9.4v5.0h-9.4zM679.6 116.8h5.0v5.0h-5.0zM701.6 121.2h5.0v5.0h-5.0zM714.8 134.4h9.4v5.0h-9.4zM648.8 138.8h5.0v5.0h-5.0zM701.6 143.2h5.0v5.0h-5.0zM741.2 143.2h5.0v5.0h-5.0zM750.0 143.2h5.0v5.0h-5.0zM732.4 147.6h5.0v5.0h-5.0zM776.4 147.6h5.0v5.0h-5.0zM670.8 152.0h5.0v5.0h-5.0zM697.2 152.0h5.0v5.0h-5.0zM908.4 156.4h5.0v5.0h-5.0zM802.8 160.8h5.0v5.0h-5.0zM904.0 160.8h9.4v5.0h-9.4zM899.6 165.2h5.0v5.0h-5.0zM912.8 165.2h5.0v5.0h-5.0zM908.4 169.6h5.0v5.0h-5.0zM811.6 178.4h5.0v5.0h-5.0zM811.6 182.8h5.0v5.0h-5.0zM710.4 196.0h5.0v5.0h-5.0zM719.2 196.0h5.0v5.0h-5.0zM728.0 200.4h5.0v5.0h-5.0zM710.4 209.2h9.4v5.0h-9.4zM697.2 213.6h9.4v5.0h-9.4zM723.6 218.0h5.0v5.0h-5.0zM899.6 257.6h5.0v5.0h-5.0zM745.6 262.0h5.0v5.0h-5.0zM864.4 284.0h5.0v5.0h-5.0zM851.2 354.4h5.0v5.0h-5.0zM824.8 372.0h5.0v5.0h-5.0zM908.4 372.0h5.0v5.0h-5.0z" fill="#f16519" shape-rendering="crispEdges"/>
<path d="M648.8 68.4h5.0v5.0h-5.0zM732.4 94.8h5.0v5.0h-5.0zM640.0 103.6h5.0v5.0h-5.0zM684.0 108.0h5.0v5.0h-5.0zM701.6 125.6h5.0v5.0h-5.0zM719.2 130.0h9.4v5.0h-9.4zM666.4 138.8h5.0v5.0h-5.0zM714.8 143.2h5.0v5.0h-5.0zM701.6 147.6h5.0v5.0h-5.0zM710.4 147.6h5.0v5.0h-5.0zM701.6 152.0h5.0v5.0h-5.0zM904.0 156.4h5.0v5.0h-5.0zM741.2 160.8h9.4v5.0h-9.4zM750.0 165.2h5.0v5.0h-5.0zM710.4 169.6h5.0v5.0h-5.0zM785.2 169.6h5.0v5.0h-5.0zM714.8 174.0h13.8v5.0h-13.8zM732.4 178.4h5.0v5.0h-5.0zM688.4 187.2h5.0v5.0h-5.0zM684.0 191.6h9.4v5.0h-9.4zM710.4 200.4h5.0v5.0h-5.0zM732.4 200.4h5.0v5.0h-5.0zM714.8 204.8h5.0v5.0h-5.0zM728.0 204.8h5.0v5.0h-5.0zM736.8 209.2h9.4v5.0h-9.4zM846.8 209.2h5.0v5.0h-5.0zM714.8 213.6h5.0v5.0h-5.0zM732.4 213.6h9.4v5.0h-9.4zM732.4 218.0h5.0v5.0h-5.0zM719.2 222.4h5.0v5.0h-5.0zM882.0 226.8h5.0v5.0h-5.0zM917.2 231.2h5.0v5.0h-5.0zM868.8 248.8h5.0v5.0h-5.0zM895.2 253.2h5.0v5.0h-5.0zM904.0 253.2h5.0v5.0h-5.0zM728.0 257.6h5.0v5.0h-5.0zM882.0 270.8h5.0v5.0h-5.0zM860.0 279.6h5.0v5.0h-5.0zM860.0 284.0h5.0v5.0h-5.0zM732.4 292.8h5.0v5.0h-5.0zM741.2 297.2h5.0v5.0h-5.0zM741.2 319.2h5.0v5.0h-5.0zM855.6 345.6h5.0v5.0h-5.0zM860.0 350.0h5.0v5.0h-5.0zM882.0 358.8h5.0v5.0h-5.0zM807.2 367.6h5.0v5.0h-5.0zM904.0 372.0h5.0v5.0h-5.0zM855.6 380.8h5.0v5.0h-5.0zM904.0 380.8h5.0v5.0h-5.0zM855.6 385.2h5.0v5.0h-5.0z" fill="#f26e1a" shape-rendering="crispEdges"/>
<path d="M648.8 72.8h5.0v5.0h-5.0zM679.6 81.6h5.0v5.0h-5.0zM684.0 90.4h5.0v5.0h-5.0zM657.6 94.8h5.0v5.0h-5.0zM679.6 94.8h5.0v5.0h-5.0zM631.2 99.2h5.0v5.0h-5.0zM732.4 99.2h5.0v5.0h-5.0zM631.2 103.6h5.0v5.0h-5.0zM745.6 103.6h5.0v5.0h-5.0zM697.2 108.0h5.0v5.0h-5.0zM710.4 108.0h5.0v5.0h-5.0zM640.0 112.4h5.0v5.0h-5.0zM697.2 112.4h5.0v5.0h-5.0zM714.8 112.4h5.0v5.0h-5.0zM736.8 112.4h5.0v5.0h-5.0zM706.0 121.2h5.0v5.0h-5.0zM706.0 125.6h5.0v5.0h-5.0zM732.4 125.6h5.0v5.0h-5.0zM653.2 130.0h5.0v5.0h-5.0zM728.0 130.0h5.0v5.0h-5.0zM657.6 134.4h5.0v5.0h-5.0zM670.8 138.8h5.0v5.0h-5.0zM714.8 138.8h5.0v5.0h-5.0zM688.4 143.2h5.0v5.0h-5.0zM697.2 143.2h5.0v5.0h-5.0zM706.0 143.2h9.4v5.0h-9.4zM842.4 147.6h5.0v5.0h-5.0zM908.4 147.6h5.0v5.0h-5.0zM666.4 152.0h5.0v5.0h-5.0zM666.4 156.4h9.4v5.0h-9.4zM741.2 156.4h5.0v5.0h-5.0zM890.8 160.8h5.0v5.0h-5.0zM912.8 160.8h5.0v5.0h-5.0zM719.2 165.2h5.0v5.0h-5.0zM807.2 165.2h5.0v5.0h-5.0zM728.0 169.6h9.4v5.0h-9.4zM798.4 169.6h5.0v5.0h-5.0zM692.8 174.0h5.0v5.0h-5.0zM736.8 174.0h5.0v5.0h-5.0zM811.6 174.0h5.0v5.0h-5.0zM833.6 182.8h5.0v5.0h-5.0zM798.4 187.2h5.0v5.0h-5.0zM697.2 191.6h5.0v5.0h-5.0zM719.2 191.6h5.0v5.0h-5.0zM794.0 191.6h9.4v5.0h-9.4zM820.4 191.6h5.0v5.0h-5.0zM829.2 191.6h5.0v5.0h-5.0zM732.4 196.0h5.0v5.0h-5.0zM802.8 204.8h5.0v5.0h-5.0zM701.6 209.2h5.0v5.0h-5.0zM728.0 209.2h5.0v5.0h-5.0zM820.4 209.2h5.0v5.0h-5.0zM719.2 213.6h5.0v5.0h-5.0zM728.0 213.6h5.0v5.0h-5.0zM908.4 213.6h5.0v5.0h-5.0zM728.0 218.0h5.0v5.0h-5.0zM723.6 222.4h5.0v5.0h-5.0zM890.8 222.4h5.0v5.0h-5.0zM882.0 231.2h5.0v5.0h-5.0zM921.6 240.0h5.0v5.0h-5.0zM736.8 244.4h5.0v5.0h-5.0zM912.8 244.4h5.0v5.0h-5.0zM926.0 244.4h5.0v5.0h-5.0zM728.0 248.8h5.0v5.0h-5.0zM908.4 248.8h5.0v5.0h-5.0zM899.6 253.2h5.0v5.0h-5.0zM904.0 257.6h5.0v5.0h-5.0zM732.4 288.4h9.4v5.0h-9.4zM741.2 292.8h5.0v5.0h-5.0zM851.2 350.0h5.0v5.0h-5.0zM855.6 354.4h5.0v5.0h-5.0zM842.4 358.8h5.0v5.0h-5.0zM846.8 372.0h5.0v5.0h-5.0zM824.8 376.4h5.0v5.0h-5.0zM873.2 376.4h5.0v5.0h-5.0zM851.2 380.8h5.0v5.0h-5.0z" fill="#f2771b" shape-rendering="crispEdges"/>
<path d="M640.0 72.8h9.4v5.0h-9.4zM666.4 72.8h9.4v5.0h-9.4zM688.4 72.8h5.0v5.0h-5.0zM648.8 77.2h5.0v5.0h-5.0zM648.8 81.6h5.0v5.0h-5.0zM666.4 81.6h9.4v5.0h-9.4zM631.2 94.8h5.0v5.0h-5.0zM653.2 94.8h5.0v5.0h-5.0zM666.4 99.2h5.0v5.0h-5.0zM684.0 103.6h5.0v5.0h-5.0zM719.2 103.6h5.0v5.0h-5.0zM701.6 108.0h5.0v5.0h-5.0zM701.6 112.4h5.0v5.0h-5.0zM719.2 112.4h5.0v5.0h-5.0zM728.0 125.6h5.0v5.0h-5.0zM934.8 130.0h5.0v5.0h-5.0zM912.8 134.4h5.0v5.0h-5.0zM930.4 134.4h9.4v5.0h-9.4zM719.2 138.8h9.4v5.0h-9.4zM820.4 138.8h5.0v5.0h-5.0zM719.2 143.2h5.0v5.0h-5.0zM754.4 143.2h9.4v5.0h-9.4zM820.4 143.2h5.0v5.0h-5.0zM679.6 147.6h5.0v5.0h-5.0zM807.2 147.6h5.0v5.0h-5.0zM728.0 152.0h5.0v5.0h-5.0zM767.6 152.0h5.0v5.0h-5.0zM776.4 152.0h5.0v5.0h-5.0zM802.8 152.0h13.8v5.0h-13.8zM662.0 156.4h5.0v5.0h-5.0zM802.8 156.4h5.0v5.0h-5.0zM829.2 156.4h5.0v5.0h-5.0zM666.4 160.8h5.0v5.0h-5.0zM723.6 160.8h5.0v5.0h-5.0zM710.4 174.0h5.0v5.0h-5.0zM728.0 174.0h5.0v5.0h-5.0zM763.2 174.0h5.0v5.0h-5.0zM908.4 174.0h5.0v5.0h-5.0zM736.8 178.4h5.0v5.0h-5.0zM824.8 178.4h9.4v5.0h-9.4zM842.4 178.4h5.0v5.0h-5.0zM675.2 182.8h9.4v5.0h-9.4zM736.8 182.8h5.0v5.0h-5.0zM750.0 182.8h9.4v5.0h-9.4zM684.0 187.2h5.0v5.0h-5.0zM692.8 191.6h5.0v5.0h-5.0zM842.4 191.6h5.0v5.0h-5.0zM736.8 196.0h5.0v5.0h-5.0zM908.4 196.0h5.0v5.0h-5.0zM736.8 200.4h5.0v5.0h-5.0zM802.8 200.4h5.0v5.0h-5.0zM904.0 200.4h5.0v5.0h-5.0zM706.0 204.8h5.0v5.0h-5.0zM846.8 204.8h9.4v5.0h-9.4zM723.6 209.2h5.0v5.0h-5.0zM824.8 209.2h5.0v5.0h-5.0zM706.0 213.6h5.0v5.0h-5.0zM723.6 213.6h5.0v5.0h-5.0zM736.8 218.0h5.0v5.0h-5.0zM886.4 218.0h5.0v5.0h-5.0zM736.8 222.4h5.0v5.0h-5.0zM882.0 222.4h5.0v5.0h-5.0zM723.6 226.8h5.0v5.0h-5.0zM868.8 244.4h5.0v5.0h-5.0zM917.2 244.4h9.4v5.0h-9.4zM732.4 248.8h5.0v5.0h-5.0zM904.0 248.8h5.0v5.0h-5.0zM728.0 253.2h5.0v5.0h-5.0zM890.8 253.2h5.0v5.0h-5.0zM741.2 257.6h5.0v5.0h-5.0zM895.2 257.6h5.0v5.0h-5.0zM763.2 266.4h5.0v5.0h-5.0zM886.4 266.4h5.0v5.0h-5.0zM886.4 270.8h5.0v5.0h-5.0zM882.0 275.2h5.0v5.0h-5.0zM741.2 284.0h5.0v5.0h-5.0zM820.4 284.0h5.0v5.0h-5.0zM767.6 310.4h5.0v5.0h-5.0zM846.8 310.4h5.0v5.0h-5.0zM860.0 341.2h5.0v5.0h-5.0zM860.0 345.6h5.0v5.0h-5.0zM820.4 350.0h5.0v5.0h-5.0zM842.4 354.4h5.0v5.0h-5.0zM882.0 354.4h5.0v5.0h-5.0zM838.0 358.8h5.0v5.0h-5.0zM851.2 363.2h5.0v5.0h-5.0zM842.4 372.0h5.0v5.0h-5.0zM820.4 376.4h5.0v5.0h-5.0zM846.8 376.4h5.0v5.0h-5.0zM908.4 376.4h5.0v5.0h-5.0zM873.2 380.8h5.0v5.0h-5.0zM851.2 385.2h5.0v5.0h-5.0zM860.0 385.2h5.0v5.0h-5.0zM868.8 385.2h5.0v5.0h-5.0z" fill="#f3801c" shape-rendering="crispEdges"/>
<path d="M644.4 77.2h5.0v5.0h-5.0zM653.2 81.6h9.4v5.0h-9.4zM684.0 81.6h5.0v5.0h-5.0zM684.0 86.0h5.0v5.0h-5.0zM631.2 90.4h9.4v5.0h-9.4zM736.8 90.4h5.0v5.0h-5.0zM728.0 99.2h5.0v5.0h-5.0zM622.4 103.6h5.0v5.0h-5.0zM723.6 103.6h9.4v5.0h-9.4zM644.4 112.4h5.0v5.0h-5.0zM679.6 112.4h5.0v5.0h-5.0zM675.2 116.8h5.0v5.0h-5.0zM697.2 121.2h5.0v5.0h-5.0zM714.8 130.0h5.0v5.0h-5.0zM939.2 130.0h5.0v5.0h-5.0zM648.8 134.4h5.0v5.0h-5.0zM666.4 134.4h5.0v5.0h-5.0zM723.6 134.4h5.0v5.0h-5.0zM728.0 138.8h5.0v5.0h-5.0zM736.8 143.2h5.0v5.0h-5.0zM662.0 147.6h5.0v5.0h-5.0zM684.0 147.6h5.0v5.0h-5.0zM697.2 147.6h5.0v5.0h-5.0zM719.2 147.6h5.0v5.0h-5.0zM772.0 147.6h5.0v5.0h-5.0zM714.8 152.0h5.0v5.0h-5.0zM750.0 152.0h9.4v5.0h-9.4zM904.0 152.0h9.4v5.0h-9.4zM745.6 156.4h5.0v5.0h-5.0zM763.2 156.4h5.0v5.0h-5.0zM719.2 160.8h5.0v5.0h-5.0zM899.6 160.8h5.0v5.0h-5.0zM754.4 165.2h5.0v5.0h-5.0zM798.4 165.2h5.0v5.0h-5.0zM855.6 165.2h5.0v5.0h-5.0zM890.8 165.2h9.4v5.0h-9.4zM754.4 169.6h13.8v5.0h-13.8zM899.6 169.6h5.0v5.0h-5.0zM732.4 174.0h5.0v5.0h-5.0zM785.2 174.0h5.0v5.0h-5.0zM684.0 178.4h5.0v5.0h-5.0zM692.8 178.4h5.0v5.0h-5.0zM728.0 178.4h5.0v5.0h-5.0zM807.2 178.4h5.0v5.0h-5.0zM908.4 178.4h5.0v5.0h-5.0zM684.0 182.8h5.0v5.0h-5.0zM692.8 182.8h5.0v5.0h-5.0zM776.4 182.8h5.0v5.0h-5.0zM798.4 182.8h9.4v5.0h-9.4zM864.4 182.8h5.0v5.0h-5.0zM692.8 187.2h5.0v5.0h-5.0zM706.0 187.2h5.0v5.0h-5.0zM794.0 187.2h5.0v5.0h-5.0zM723.6 196.0h5.0v5.0h-5.0zM899.6 196.0h5.0v5.0h-5.0zM732.4 204.8h9.4v5.0h-9.4zM895.2 204.8h5.0v5.0h-5.0zM706.0 209.2h5.0v5.0h-5.0zM829.2 209.2h5.0v5.0h-5.0zM873.2 209.2h5.0v5.0h-5.0zM710.4 213.6h5.0v5.0h-5.0zM741.2 213.6h5.0v5.0h-5.0zM706.0 218.0h5.0v5.0h-5.0zM714.8 218.0h5.0v5.0h-5.0zM820.4 218.0h5.0v5.0h-5.0zM908.4 218.0h5.0v5.0h-5.0zM917.2 218.0h5.0v5.0h-5.0zM714.8 222.4h5.0v5.0h-5.0zM758.8 222.4h5.0v5.0h-5.0zM886.4 231.2h5.0v5.0h-5.0zM921.6 235.6h5.0v5.0h-5.0zM736.8 240.0h5.0v5.0h-5.0zM833.6 240.0h5.0v5.0h-5.0zM890.8 240.0h5.0v5.0h-5.0zM899.6 240.0h5.0v5.0h-5.0zM908.4 244.4h5.0v5.0h-5.0zM864.4 248.8h5.0v5.0h-5.0zM912.8 248.8h5.0v5.0h-5.0zM719.2 253.2h5.0v5.0h-5.0zM706.0 257.6h5.0v5.0h-5.0zM745.6 257.6h5.0v5.0h-5.0zM882.0 266.4h5.0v5.0h-5.0zM908.4 266.4h5.0v5.0h-5.0zM723.6 270.8h5.0v5.0h-5.0zM908.4 270.8h5.0v5.0h-5.0zM719.2 279.6h5.0v5.0h-5.0zM816.0 288.4h5.0v5.0h-5.0zM763.2 310.4h5.0v5.0h-5.0zM820.4 341.2h5.0v5.0h-5.0zM776.4 350.0h5.0v5.0h-5.0zM838.0 350.0h5.0v5.0h-5.0zM846.8 354.4h5.0v5.0h-5.0zM864.4 358.8h5.0v5.0h-5.0zM763.2 363.2h5.0v5.0h-5.0zM789.6 363.2h5.0v5.0h-5.0zM882.0 363.2h5.0v5.0h-5.0zM877.6 376.4h5.0v5.0h-5.0zM829.2 385.2h5.0v5.0h-5.0zM868.8 394.0h5.0v5.0h-5.0z" fill="#f3881c" shape-rendering="crispEdges"/>
<path d="M670.8 77.2h5.0v5.0h-5.0zM662.0 81.6h5.0v5.0h-5.0zM631.2 86.0h9.4v5.0h-9.4zM732.4 90.4h5.0v5.0h-5.0zM675.2 94.8h5.0v5.0h-5.0zM635.6 99.2h5.0v5.0h-5.0zM675.2 99.2h9.4v5.0h-9.4zM719.2 99.2h5.0v5.0h-5.0zM679.6 103.6h5.0v5.0h-5.0zM626.8 108.0h5.0v5.0h-5.0zM648.8 108.0h5.0v5.0h-5.0zM719.2 108.0h5.0v5.0h-5.0zM662.0 112.4h5.0v5.0h-5.0zM692.8 112.4h5.0v5.0h-5.0zM648.8 116.8h5.0v5.0h-5.0zM697.2 116.8h5.0v5.0h-5.0zM741.2 116.8h9.4v5.0h-9.4zM644.4 121.2h13.8v5.0h-13.8zM728.0 121.2h5.0v5.0h-5.0zM666.4 125.6h5.0v5.0h-5.0zM697.2 125.6h5.0v5.0h-5.0zM710.4 125.6h5.0v5.0h-5.0zM648.8 130.0h5.0v5.0h-5.0zM710.4 130.0h5.0v5.0h-5.0zM662.0 134.4h5.0v5.0h-5.0zM917.2 134.4h5.0v5.0h-5.0zM701.6 138.8h5.0v5.0h-5.0zM833.6 138.8h5.0v5.0h-5.0zM666.4 143.2h5.0v5.0h-5.0zM692.8 143.2h5.0v5.0h-5.0zM763.2 143.2h5.0v5.0h-5.0zM824.8 143.2h5.0v5.0h-5.0zM908.4 143.2h5.0v5.0h-5.0zM706.0 147.6h5.0v5.0h-5.0zM728.0 147.6h5.0v5.0h-5.0zM741.2 147.6h9.4v5.0h-9.4zM838.0 147.6h5.0v5.0h-5.0zM912.8 152.0h5.0v5.0h-5.0zM767.6 156.4h5.0v5.0h-5.0zM912.8 156.4h5.0v5.0h-5.0zM939.2 156.4h5.0v5.0h-5.0zM701.6 160.8h5.0v5.0h-5.0zM710.4 160.8h5.0v5.0h-5.0zM750.0 160.8h5.0v5.0h-5.0zM798.4 160.8h5.0v5.0h-5.0zM873.2 160.8h5.0v5.0h-5.0zM666.4 165.2h5.0v5.0h-5.0zM750.0 169.6h5.0v5.0h-5.0zM794.0 169.6h5.0v5.0h-5.0zM855.6 169.6h5.0v5.0h-5.0zM912.8 169.6h5.0v5.0h-5.0zM824.8 174.0h5.0v5.0h-5.0zM895.2 174.0h5.0v5.0h-5.0zM675.2 178.4h9.4v5.0h-9.4zM846.8 178.4h5.0v5.0h-5.0zM912.8 178.4h5.0v5.0h-5.0zM758.8 182.8h5.0v5.0h-5.0zM807.2 182.8h5.0v5.0h-5.0zM842.4 182.8h5.0v5.0h-5.0zM697.2 187.2h5.0v5.0h-5.0zM833.6 187.2h5.0v5.0h-5.0zM842.4 187.2h5.0v5.0h-5.0zM904.0 187.2h5.0v5.0h-5.0zM679.6 191.6h5.0v5.0h-5.0zM710.4 191.6h9.4v5.0h-9.4zM794.0 196.0h5.0v5.0h-5.0zM684.0 200.4h5.0v5.0h-5.0zM706.0 200.4h5.0v5.0h-5.0zM798.4 200.4h5.0v5.0h-5.0zM719.2 204.8h5.0v5.0h-5.0zM745.6 204.8h5.0v5.0h-5.0zM807.2 204.8h5.0v5.0h-5.0zM820.4 204.8h5.0v5.0h-5.0zM732.4 209.2h5.0v5.0h-5.0zM820.4 213.6h5.0v5.0h-5.0zM697.2 218.0h5.0v5.0h-5.0zM816.0 218.0h5.0v5.0h-5.0zM710.4 222.4h5.0v5.0h-5.0zM745.6 222.4h9.4v5.0h-9.4zM895.2 222.4h5.0v5.0h-5.0zM710.4 226.8h5.0v5.0h-5.0zM873.2 226.8h9.4v5.0h-9.4zM886.4 226.8h5.0v5.0h-5.0zM890.8 235.6h5.0v5.0h-5.0zM706.0 240.0h5.0v5.0h-5.0zM728.0 240.0h5.0v5.0h-5.0zM829.2 240.0h5.0v5.0h-5.0zM882.0 240.0h5.0v5.0h-5.0zM895.2 240.0h5.0v5.0h-5.0zM926.0 240.0h5.0v5.0h-5.0zM732.4 244.4h5.0v5.0h-5.0zM864.4 244.4h5.0v5.0h-5.0zM877.6 244.4h5.0v5.0h-5.0zM895.2 244.4h5.0v5.0h-5.0zM736.8 248.8h5.0v5.0h-5.0zM732.4 253.2h5.0v5.0h-5.0zM780.8 257.6h5.0v5.0h-5.0zM732.4 262.0h5.0v5.0h-5.0zM741.2 262.0h5.0v5.0h-5.0zM908.4 262.0h5.0v5.0h-5.0zM723.6 266.4h5.0v5.0h-5.0zM741.2 288.4h5.0v5.0h-5.0zM864.4 288.4h5.0v5.0h-5.0zM802.8 297.2h5.0v5.0h-5.0zM846.8 301.6h5.0v5.0h-5.0zM846.8 306.0h5.0v5.0h-5.0zM745.6 314.8h5.0v5.0h-5.0zM767.6 314.8h5.0v5.0h-5.0zM846.8 314.8h5.0v5.0h-5.0zM763.2 332.4h5.0v5.0h-5.0zM763.2 336.8h5.0v5.0h-5.0zM846.8 341.2h5.0v5.0h-5.0zM855.6 341.2h5.0v5.0h-5.0zM816.0 345.6h5.0v5.0h-5.0zM816.0 350.0h5.0v5.0h-5.0zM838.0 354.4h5.0v5.0h-5.0zM794.0 363.2h5.0v5.0h-5.0zM789.6 367.6h5.0v5.0h-5.0zM802.8 367.6h5.0v5.0h-5.0zM829.2 367.6h5.0v5.0h-5.0zM851.2 367.6h5.0v5.0h-5.0zM908.4 367.6h5.0v5.0h-5.0zM807.2 372.0h5.0v5.0h-5.0zM820.4 372.0h5.0v5.0h-5.0zM829.2 372.0h5.0v5.0h-5.0zM855.6 372.0h5.0v5.0h-5.0zM873.2 372.0h5.0v5.0h-5.0zM890.8 372.0h5.0v5.0h-5.0zM776.4 376.4h5.0v5.0h-5.0zM868.8 376.4h5.0v5.0h-5.0zM882.0 376.4h5.0v5.0h-5.0zM864.4 380.8h5.0v5.0h-5.0zM833.6 385.2h5.0v5.0h-5.0zM851.2 389.6h5.0v5.0h-5.0z" fill="#f3911d" shape-rendering="crispEdges"/>
<path d="M684.0 72.8h5.0v5.0h-5.0zM640.0 77.2h5.0v5.0h-5.0zM662.0 77.2h5.0v5.0h-5.0zM728.0 90.4h5.0v5.0h-5.0zM635.6 94.8h5.0v5.0h-5.0zM728.0 94.8h5.0v5.0h-5.0zM741.2 94.8h5.0v5.0h-5.0zM648.8 103.6h5.0v5.0h-5.0zM732.4 103.6h5.0v5.0h-5.0zM864.4 103.6h5.0v5.0h-5.0zM640.0 108.0h5.0v5.0h-5.0zM736.8 108.0h9.4v5.0h-9.4zM635.6 116.8h5.0v5.0h-5.0zM662.0 116.8h5.0v5.0h-5.0zM692.8 116.8h5.0v5.0h-5.0zM816.0 116.8h5.0v5.0h-5.0zM723.6 125.6h5.0v5.0h-5.0zM736.8 125.6h5.0v5.0h-5.0zM662.0 130.0h5.0v5.0h-5.0zM684.0 130.0h5.0v5.0h-5.0zM697.2 130.0h13.8v5.0h-13.8zM868.8 130.0h9.4v5.0h-9.4zM890.8 130.0h5.0v5.0h-5.0zM930.4 130.0h5.0v5.0h-5.0zM679.6 134.4h5.0v5.0h-5.0zM697.2 134.4h5.0v5.0h-5.0zM710.4 134.4h5.0v5.0h-5.0zM750.0 134.4h9.4v5.0h-9.4zM939.2 134.4h5.0v5.0h-5.0zM675.2 138.8h5.0v5.0h-5.0zM745.6 138.8h5.0v5.0h-5.0zM908.4 138.8h5.0v5.0h-5.0zM684.0 143.2h5.0v5.0h-5.0zM807.2 143.2h5.0v5.0h-5.0zM833.6 143.2h5.0v5.0h-5.0zM868.8 143.2h5.0v5.0h-5.0zM763.2 147.6h5.0v5.0h-5.0zM833.6 147.6h5.0v5.0h-5.0zM662.0 152.0h5.0v5.0h-5.0zM679.6 152.0h5.0v5.0h-5.0zM710.4 152.0h5.0v5.0h-5.0zM763.2 152.0h5.0v5.0h-5.0zM829.2 152.0h5.0v5.0h-5.0zM886.4 152.0h5.0v5.0h-5.0zM939.2 152.0h5.0v5.0h-5.0zM706.0 156.4h9.4v5.0h-9.4zM723.6 156.4h5.0v5.0h-5.0zM750.0 156.4h5.0v5.0h-5.0zM758.8 156.4h5.0v5.0h-5.0zM772.0 156.4h5.0v5.0h-5.0zM811.6 156.4h5.0v5.0h-5.0zM934.8 156.4h5.0v5.0h-5.0zM697.2 160.8h5.0v5.0h-5.0zM706.0 160.8h5.0v5.0h-5.0zM714.8 160.8h5.0v5.0h-5.0zM758.8 160.8h5.0v5.0h-5.0zM838.0 160.8h5.0v5.0h-5.0zM728.0 165.2h5.0v5.0h-5.0zM745.6 165.2h5.0v5.0h-5.0zM758.8 165.2h5.0v5.0h-5.0zM860.0 165.2h5.0v5.0h-5.0zM882.0 165.2h9.4v5.0h-9.4zM688.4 169.6h5.0v5.0h-5.0zM789.6 169.6h5.0v5.0h-5.0zM701.6 174.0h5.0v5.0h-5.0zM741.2 174.0h5.0v5.0h-5.0zM807.2 174.0h5.0v5.0h-5.0zM820.4 174.0h5.0v5.0h-5.0zM851.2 174.0h5.0v5.0h-5.0zM912.8 174.0h5.0v5.0h-5.0zM926.0 174.0h5.0v5.0h-5.0zM723.6 178.4h5.0v5.0h-5.0zM732.4 182.8h5.0v5.0h-5.0zM763.2 182.8h5.0v5.0h-5.0zM904.0 182.8h5.0v5.0h-5.0zM736.8 187.2h5.0v5.0h-5.0zM750.0 187.2h5.0v5.0h-5.0zM763.2 191.6h5.0v5.0h-5.0zM846.8 191.6h5.0v5.0h-5.0zM890.8 191.6h5.0v5.0h-5.0zM908.4 191.6h5.0v5.0h-5.0zM728.0 196.0h5.0v5.0h-5.0zM741.2 196.0h5.0v5.0h-5.0zM802.8 196.0h5.0v5.0h-5.0zM904.0 196.0h5.0v5.0h-5.0zM692.8 200.4h5.0v5.0h-5.0zM741.2 200.4h5.0v5.0h-5.0zM895.2 200.4h5.0v5.0h-5.0zM701.6 204.8h5.0v5.0h-5.0zM741.2 204.8h5.0v5.0h-5.0zM904.0 204.8h5.0v5.0h-5.0zM719.2 209.2h5.0v5.0h-5.0zM851.2 209.2h5.0v5.0h-5.0zM868.8 213.6h5.0v5.0h-5.0zM904.0 213.6h5.0v5.0h-5.0zM701.6 218.0h5.0v5.0h-5.0zM890.8 218.0h5.0v5.0h-5.0zM741.2 222.4h5.0v5.0h-5.0zM754.4 222.4h5.0v5.0h-5.0zM824.8 222.4h5.0v5.0h-5.0zM873.2 222.4h5.0v5.0h-5.0zM719.2 226.8h5.0v5.0h-5.0zM864.4 226.8h5.0v5.0h-5.0zM899.6 226.8h5.0v5.0h-5.0zM719.2 231.2h9.4v5.0h-9.4zM798.4 231.2h5.0v5.0h-5.0zM890.8 231.2h5.0v5.0h-5.0zM802.8 235.6h5.0v5.0h-5.0zM820.4 235.6h5.0v5.0h-5.0zM882.0 235.6h5.0v5.0h-5.0zM899.6 235.6h5.0v5.0h-5.0zM917.2 235.6h5.0v5.0h-5.0zM710.4 240.0h5.0v5.0h-5.0zM868.8 240.0h5.0v5.0h-5.0zM917.2 240.0h5.0v5.0h-5.0zM882.0 244.4h5.0v5.0h-5.0zM890.8 244.4h5.0v5.0h-5.0zM816.0 248.8h5.0v5.0h-5.0zM710.4 257.6h5.0v5.0h-5.0zM723.6 257.6h5.0v5.0h-5.0zM754.4 257.6h5.0v5.0h-5.0zM890.8 257.6h5.0v5.0h-5.0zM728.0 262.0h5.0v5.0h-5.0zM829.2 262.0h9.4v5.0h-9.4zM886.4 262.0h5.0v5.0h-5.0zM921.6 262.0h5.0v5.0h-5.0zM758.8 266.4h5.0v5.0h-5.0zM904.0 270.8h5.0v5.0h-5.0zM886.4 275.2h5.0v5.0h-5.0zM736.8 284.0h5.0v5.0h-5.0zM816.0 284.0h5.0v5.0h-5.0zM811.6 288.4h5.0v5.0h-5.0zM820.4 288.4h5.0v5.0h-5.0zM732.4 297.2h5.0v5.0h-5.0zM807.2 297.2h5.0v5.0h-5.0zM860.0 297.2h5.0v5.0h-5.0zM820.4 301.6h5.0v5.0h-5.0zM767.6 319.2h5.0v5.0h-5.0zM851.2 341.2h5.0v5.0h-5.0zM776.4 345.6h5.0v5.0h-5.0zM824.8 345.6h5.0v5.0h-5.0zM846.8 350.0h5.0v5.0h-5.0zM886.4 350.0h5.0v5.0h-5.0zM877.6 354.4h5.0v5.0h-5.0zM816.0 358.8h5.0v5.0h-5.0zM829.2 363.2h5.0v5.0h-5.0zM877.6 363.2h5.0v5.0h-5.0zM886.4 363.2h5.0v5.0h-5.0zM824.8 367.6h5.0v5.0h-5.0zM890.8 367.6h5.0v5.0h-5.0zM772.0 372.0h5.0v5.0h-5.0zM882.0 372.0h9.4v5.0h-9.4zM886.4 376.4h5.0v5.0h-5.0zM899.6 376.4h5.0v5.0h-5.0zM899.6 380.8h5.0v5.0h-5.0zM846.8 389.6h5.0v5.0h-5.0z" fill="#f39a1e" shape-rendering="crispEdges"/>
<path d="M679.6 72.8h5.0v5.0h-5.0zM679.6 77.2h9.4v5.0h-9.4zM670.8 86.0h5.0v5.0h-5.0zM688.4 90.4h5.0v5.0h-5.0zM719.2 90.4h5.0v5.0h-5.0zM684.0 94.8h5.0v5.0h-5.0zM706.0 94.8h5.0v5.0h-5.0zM719.2 94.8h5.0v5.0h-5.0zM670.8 99.2h5.0v5.0h-5.0zM666.4 103.6h13.8v5.0h-13.8zM635.6 108.0h5.0v5.0h-5.0zM653.2 108.0h5.0v5.0h-5.0zM679.6 108.0h5.0v5.0h-5.0zM714.8 108.0h5.0v5.0h-5.0zM648.8 112.4h5.0v5.0h-5.0zM675.2 112.4h5.0v5.0h-5.0zM688.4 112.4h5.0v5.0h-5.0zM714.8 116.8h5.0v5.0h-5.0zM728.0 116.8h5.0v5.0h-5.0zM736.8 116.8h5.0v5.0h-5.0zM640.0 121.2h5.0v5.0h-5.0zM692.8 121.2h5.0v5.0h-5.0zM745.6 121.2h5.0v5.0h-5.0zM648.8 125.6h5.0v5.0h-5.0zM824.8 125.6h5.0v5.0h-5.0zM657.6 130.0h5.0v5.0h-5.0zM679.6 130.0h5.0v5.0h-5.0zM750.0 130.0h5.0v5.0h-5.0zM670.8 134.4h9.4v5.0h-9.4zM701.6 134.4h5.0v5.0h-5.0zM728.0 134.4h5.0v5.0h-5.0zM798.4 134.4h5.0v5.0h-5.0zM895.2 134.4h9.4v5.0h-9.4zM653.2 138.8h5.0v5.0h-5.0zM697.2 138.8h5.0v5.0h-5.0zM750.0 138.8h13.8v5.0h-13.8zM899.6 138.8h5.0v5.0h-5.0zM912.8 138.8h5.0v5.0h-5.0zM723.6 143.2h13.8v5.0h-13.8zM657.6 147.6h5.0v5.0h-5.0zM666.4 147.6h5.0v5.0h-5.0zM758.8 147.6h5.0v5.0h-5.0zM794.0 147.6h5.0v5.0h-5.0zM820.4 147.6h5.0v5.0h-5.0zM829.2 147.6h5.0v5.0h-5.0zM912.8 147.6h5.0v5.0h-5.0zM684.0 152.0h5.0v5.0h-5.0zM741.2 152.0h5.0v5.0h-5.0zM758.8 152.0h5.0v5.0h-5.0zM816.0 152.0h9.4v5.0h-9.4zM890.8 152.0h5.0v5.0h-5.0zM736.8 156.4h5.0v5.0h-5.0zM776.4 156.4h5.0v5.0h-5.0zM807.2 156.4h5.0v5.0h-5.0zM670.8 160.8h5.0v5.0h-5.0zM763.2 160.8h5.0v5.0h-5.0zM807.2 160.8h5.0v5.0h-5.0zM829.2 160.8h9.4v5.0h-9.4zM842.4 160.8h5.0v5.0h-5.0zM706.0 165.2h5.0v5.0h-5.0zM732.4 165.2h5.0v5.0h-5.0zM811.6 165.2h5.0v5.0h-5.0zM838.0 165.2h5.0v5.0h-5.0zM873.2 165.2h9.4v5.0h-9.4zM723.6 169.6h5.0v5.0h-5.0zM736.8 169.6h5.0v5.0h-5.0zM807.2 169.6h5.0v5.0h-5.0zM926.0 169.6h9.4v5.0h-9.4zM697.2 174.0h5.0v5.0h-5.0zM706.0 174.0h5.0v5.0h-5.0zM789.6 174.0h9.4v5.0h-9.4zM899.6 174.0h5.0v5.0h-5.0zM763.2 178.4h5.0v5.0h-5.0zM776.4 178.4h5.0v5.0h-5.0zM833.6 178.4h5.0v5.0h-5.0zM864.4 178.4h5.0v5.0h-5.0zM904.0 178.4h5.0v5.0h-5.0zM745.6 182.8h5.0v5.0h-5.0zM794.0 182.8h5.0v5.0h-5.0zM846.8 182.8h5.0v5.0h-5.0zM855.6 182.8h5.0v5.0h-5.0zM701.6 187.2h5.0v5.0h-5.0zM732.4 187.2h5.0v5.0h-5.0zM811.6 187.2h5.0v5.0h-5.0zM838.0 187.2h5.0v5.0h-5.0zM860.0 187.2h5.0v5.0h-5.0zM890.8 187.2h5.0v5.0h-5.0zM701.6 191.6h9.4v5.0h-9.4zM723.6 191.6h5.0v5.0h-5.0zM802.8 191.6h5.0v5.0h-5.0zM684.0 196.0h5.0v5.0h-5.0zM706.0 196.0h5.0v5.0h-5.0zM763.2 196.0h5.0v5.0h-5.0zM798.4 196.0h5.0v5.0h-5.0zM824.8 196.0h5.0v5.0h-5.0zM688.4 200.4h5.0v5.0h-5.0zM745.6 200.4h5.0v5.0h-5.0zM908.4 200.4h5.0v5.0h-5.0zM772.0 204.8h5.0v5.0h-5.0zM798.4 204.8h5.0v5.0h-5.0zM816.0 204.8h5.0v5.0h-5.0zM824.8 204.8h5.0v5.0h-5.0zM855.6 204.8h5.0v5.0h-5.0zM917.2 204.8h5.0v5.0h-5.0zM745.6 209.2h5.0v5.0h-5.0zM816.0 209.2h5.0v5.0h-5.0zM868.8 209.2h5.0v5.0h-5.0zM877.6 209.2h5.0v5.0h-5.0zM904.0 209.2h5.0v5.0h-5.0zM864.4 213.6h5.0v5.0h-5.0zM692.8 218.0h5.0v5.0h-5.0zM710.4 218.0h5.0v5.0h-5.0zM750.0 218.0h5.0v5.0h-5.0zM706.0 222.4h5.0v5.0h-5.0zM732.4 222.4h5.0v5.0h-5.0zM763.2 222.4h5.0v5.0h-5.0zM807.2 222.4h5.0v5.0h-5.0zM816.0 222.4h9.4v5.0h-9.4zM877.6 222.4h5.0v5.0h-5.0zM917.2 222.4h5.0v5.0h-5.0zM714.8 226.8h5.0v5.0h-5.0zM741.2 226.8h5.0v5.0h-5.0zM780.8 226.8h5.0v5.0h-5.0zM816.0 226.8h5.0v5.0h-5.0zM899.6 231.2h9.4v5.0h-9.4zM912.8 231.2h5.0v5.0h-5.0zM921.6 231.2h5.0v5.0h-5.0zM714.8 235.6h5.0v5.0h-5.0zM886.4 235.6h5.0v5.0h-5.0zM714.8 240.0h5.0v5.0h-5.0zM732.4 240.0h5.0v5.0h-5.0zM820.4 240.0h5.0v5.0h-5.0zM873.2 240.0h5.0v5.0h-5.0zM723.6 244.4h9.4v5.0h-9.4zM745.6 244.4h5.0v5.0h-5.0zM816.0 244.4h5.0v5.0h-5.0zM719.2 248.8h5.0v5.0h-5.0zM860.0 248.8h5.0v5.0h-5.0zM895.2 248.8h9.4v5.0h-9.4zM917.2 248.8h5.0v5.0h-5.0zM706.0 253.2h5.0v5.0h-5.0zM736.8 253.2h5.0v5.0h-5.0zM754.4 253.2h5.0v5.0h-5.0zM816.0 253.2h5.0v5.0h-5.0zM908.4 253.2h5.0v5.0h-5.0zM908.4 257.6h5.0v5.0h-5.0zM763.2 262.0h5.0v5.0h-5.0zM838.0 262.0h5.0v5.0h-5.0zM926.0 262.0h5.0v5.0h-5.0zM728.0 266.4h5.0v5.0h-5.0zM789.6 266.4h5.0v5.0h-5.0zM714.8 270.8h5.0v5.0h-5.0zM728.0 270.8h5.0v5.0h-5.0zM785.2 270.8h9.4v5.0h-9.4zM912.8 270.8h5.0v5.0h-5.0zM714.8 275.2h5.0v5.0h-5.0zM838.0 275.2h9.4v5.0h-9.4zM838.0 279.6h5.0v5.0h-5.0zM882.0 279.6h5.0v5.0h-5.0zM767.6 284.0h5.0v5.0h-5.0zM767.6 288.4h5.0v5.0h-5.0zM736.8 292.8h5.0v5.0h-5.0zM741.2 301.6h5.0v5.0h-5.0zM860.0 301.6h5.0v5.0h-5.0zM736.8 310.4h5.0v5.0h-5.0zM750.0 314.8h5.0v5.0h-5.0zM763.2 314.8h5.0v5.0h-5.0zM745.6 319.2h5.0v5.0h-5.0zM767.6 336.8h5.0v5.0h-5.0zM763.2 345.6h5.0v5.0h-5.0zM851.2 345.6h5.0v5.0h-5.0zM846.8 358.8h9.4v5.0h-9.4zM877.6 358.8h5.0v5.0h-5.0zM816.0 363.2h5.0v5.0h-5.0zM838.0 363.2h5.0v5.0h-5.0zM895.2 363.2h5.0v5.0h-5.0zM794.0 367.6h5.0v5.0h-5.0zM846.8 367.6h5.0v5.0h-5.0zM886.4 367.6h5.0v5.0h-5.0zM895.2 367.6h5.0v5.0h-5.0zM904.0 367.6h5.0v5.0h-5.0zM776.4 372.0h5.0v5.0h-5.0zM851.2 372.0h5.0v5.0h-5.0zM816.0 376.4h5.0v5.0h-5.0zM890.8 376.4h5.0v5.0h-5.0zM824.8 380.8h5.0v5.0h-5.0zM860.0 380.8h5.0v5.0h-5.0zM864.4 385.2h5.0v5.0h-5.0zM855.6 389.6h5.0v5.0h-5.0zM882.0 389.6h5.0v5.0h-5.0z" fill="#f3a21e" shape-rendering="crispEdges"/>
<path d="M653.2 72.8h5.0v5.0h-5.0zM675.2 72.8h5.0v5.0h-5.0zM653.2 77.2h5.0v5.0h-5.0zM688.4 77.2h5.0v5.0h-5.0zM675.2 81.6h5.0v5.0h-5.0zM688.4 86.0h5.0v5.0h-5.0zM710.4 86.0h5.0v5.0h-5.0zM657.6 90.4h5.0v5.0h-5.0zM679.6 90.4h5.0v5.0h-5.0zM714.8 90.4h5.0v5.0h-5.0zM640.0 99.2h5.0v5.0h-5.0zM662.0 99.2h5.0v5.0h-5.0zM706.0 99.2h5.0v5.0h-5.0zM626.8 103.6h5.0v5.0h-5.0zM644.4 103.6h5.0v5.0h-5.0zM688.4 103.6h5.0v5.0h-5.0zM723.6 108.0h5.0v5.0h-5.0zM732.4 108.0h5.0v5.0h-5.0zM631.2 112.4h9.4v5.0h-9.4zM684.0 112.4h5.0v5.0h-5.0zM723.6 112.4h5.0v5.0h-5.0zM688.4 116.8h5.0v5.0h-5.0zM701.6 116.8h5.0v5.0h-5.0zM719.2 116.8h9.4v5.0h-9.4zM750.0 116.8h5.0v5.0h-5.0zM864.4 116.8h5.0v5.0h-5.0zM666.4 121.2h5.0v5.0h-5.0zM679.6 121.2h5.0v5.0h-5.0zM710.4 121.2h5.0v5.0h-5.0zM864.4 121.2h5.0v5.0h-5.0zM644.4 125.6h5.0v5.0h-5.0zM653.2 125.6h5.0v5.0h-5.0zM679.6 125.6h5.0v5.0h-5.0zM745.6 125.6h5.0v5.0h-5.0zM802.8 125.6h5.0v5.0h-5.0zM666.4 130.0h5.0v5.0h-5.0zM745.6 130.0h5.0v5.0h-5.0zM754.4 130.0h5.0v5.0h-5.0zM802.8 130.0h5.0v5.0h-5.0zM912.8 130.0h5.0v5.0h-5.0zM684.0 134.4h5.0v5.0h-5.0zM745.6 134.4h5.0v5.0h-5.0zM789.6 134.4h5.0v5.0h-5.0zM833.6 134.4h5.0v5.0h-5.0zM868.8 134.4h5.0v5.0h-5.0zM890.8 134.4h5.0v5.0h-5.0zM904.0 134.4h9.4v5.0h-9.4zM679.6 138.8h5.0v5.0h-5.0zM706.0 138.8h9.4v5.0h-9.4zM807.2 138.8h5.0v5.0h-5.0zM895.2 138.8h5.0v5.0h-5.0zM904.0 138.8h5.0v5.0h-5.0zM662.0 143.2h5.0v5.0h-5.0zM802.8 143.2h5.0v5.0h-5.0zM829.2 143.2h5.0v5.0h-5.0zM838.0 143.2h9.4v5.0h-9.4zM873.2 143.2h5.0v5.0h-5.0zM670.8 147.6h9.4v5.0h-9.4zM802.8 147.6h5.0v5.0h-5.0zM816.0 147.6h5.0v5.0h-5.0zM904.0 147.6h5.0v5.0h-5.0zM939.2 147.6h5.0v5.0h-5.0zM675.2 152.0h5.0v5.0h-5.0zM794.0 152.0h9.4v5.0h-9.4zM842.4 152.0h9.4v5.0h-9.4zM864.4 152.0h5.0v5.0h-5.0zM675.2 156.4h5.0v5.0h-5.0zM684.0 156.4h5.0v5.0h-5.0zM714.8 156.4h5.0v5.0h-5.0zM728.0 156.4h5.0v5.0h-5.0zM798.4 156.4h5.0v5.0h-5.0zM824.8 156.4h5.0v5.0h-5.0zM882.0 156.4h5.0v5.0h-5.0zM728.0 160.8h5.0v5.0h-5.0zM736.8 160.8h5.0v5.0h-5.0zM811.6 160.8h5.0v5.0h-5.0zM882.0 160.8h5.0v5.0h-5.0zM895.2 160.8h5.0v5.0h-5.0zM939.2 160.8h5.0v5.0h-5.0zM736.8 165.2h9.4v5.0h-9.4zM763.2 165.2h5.0v5.0h-5.0zM785.2 165.2h9.4v5.0h-9.4zM692.8 169.6h9.4v5.0h-9.4zM820.4 169.6h9.4v5.0h-9.4zM860.0 169.6h5.0v5.0h-5.0zM882.0 169.6h5.0v5.0h-5.0zM895.2 169.6h5.0v5.0h-5.0zM684.0 174.0h5.0v5.0h-5.0zM754.4 174.0h5.0v5.0h-5.0zM767.6 174.0h5.0v5.0h-5.0zM798.4 174.0h5.0v5.0h-5.0zM816.0 174.0h5.0v5.0h-5.0zM829.2 174.0h5.0v5.0h-5.0zM846.8 174.0h5.0v5.0h-5.0zM882.0 174.0h5.0v5.0h-5.0zM688.4 178.4h5.0v5.0h-5.0zM697.2 178.4h5.0v5.0h-5.0zM706.0 178.4h9.4v5.0h-9.4zM745.6 178.4h9.4v5.0h-9.4zM794.0 178.4h5.0v5.0h-5.0zM886.4 178.4h5.0v5.0h-5.0zM706.0 182.8h5.0v5.0h-5.0zM741.2 182.8h5.0v5.0h-5.0zM789.6 182.8h5.0v5.0h-5.0zM820.4 182.8h5.0v5.0h-5.0zM851.2 182.8h5.0v5.0h-5.0zM860.0 182.8h5.0v5.0h-5.0zM890.8 182.8h5.0v5.0h-5.0zM899.6 182.8h5.0v5.0h-5.0zM710.4 187.2h5.0v5.0h-5.0zM741.2 187.2h5.0v5.0h-5.0zM763.2 187.2h5.0v5.0h-5.0zM802.8 187.2h5.0v5.0h-5.0zM816.0 187.2h5.0v5.0h-5.0zM895.2 187.2h5.0v5.0h-5.0zM732.4 191.6h9.4v5.0h-9.4zM767.6 191.6h5.0v5.0h-5.0zM692.8 196.0h5.0v5.0h-5.0zM745.6 196.0h5.0v5.0h-5.0zM816.0 196.0h9.4v5.0h-9.4zM912.8 200.4h5.0v5.0h-5.0zM829.2 204.8h5.0v5.0h-5.0zM697.2 209.2h5.0v5.0h-5.0zM802.8 209.2h5.0v5.0h-5.0zM833.6 209.2h5.0v5.0h-5.0zM692.8 213.6h5.0v5.0h-5.0zM754.4 218.0h5.0v5.0h-5.0zM882.0 218.0h5.0v5.0h-5.0zM864.4 222.4h9.4v5.0h-9.4zM736.8 226.8h5.0v5.0h-5.0zM758.8 226.8h5.0v5.0h-5.0zM855.6 226.8h9.4v5.0h-9.4zM868.8 226.8h5.0v5.0h-5.0zM895.2 226.8h5.0v5.0h-5.0zM714.8 231.2h5.0v5.0h-5.0zM776.4 231.2h9.4v5.0h-9.4zM802.8 231.2h5.0v5.0h-5.0zM908.4 231.2h5.0v5.0h-5.0zM719.2 235.6h5.0v5.0h-5.0zM728.0 235.6h5.0v5.0h-5.0zM798.4 235.6h5.0v5.0h-5.0zM829.2 235.6h9.4v5.0h-9.4zM868.8 235.6h9.4v5.0h-9.4zM895.2 235.6h5.0v5.0h-5.0zM701.6 240.0h5.0v5.0h-5.0zM741.2 240.0h5.0v5.0h-5.0zM750.0 240.0h5.0v5.0h-5.0zM838.0 240.0h5.0v5.0h-5.0zM701.6 244.4h5.0v5.0h-5.0zM710.4 244.4h5.0v5.0h-5.0zM750.0 244.4h5.0v5.0h-5.0zM820.4 244.4h5.0v5.0h-5.0zM899.6 244.4h9.4v5.0h-9.4zM763.2 248.8h5.0v5.0h-5.0zM846.8 248.8h9.4v5.0h-9.4zM873.2 248.8h5.0v5.0h-5.0zM890.8 248.8h5.0v5.0h-5.0zM921.6 248.8h9.4v5.0h-9.4zM714.8 257.6h9.4v5.0h-9.4zM758.8 257.6h5.0v5.0h-5.0zM785.2 257.6h5.0v5.0h-5.0zM829.2 257.6h5.0v5.0h-5.0zM838.0 257.6h5.0v5.0h-5.0zM710.4 262.0h5.0v5.0h-5.0zM750.0 262.0h5.0v5.0h-5.0zM767.6 262.0h5.0v5.0h-5.0zM776.4 262.0h5.0v5.0h-5.0zM895.2 262.0h9.4v5.0h-9.4zM719.2 270.8h5.0v5.0h-5.0zM758.8 270.8h9.4v5.0h-9.4zM877.6 270.8h5.0v5.0h-5.0zM895.2 270.8h5.0v5.0h-5.0zM719.2 275.2h5.0v5.0h-5.0zM736.8 275.2h5.0v5.0h-5.0zM745.6 275.2h5.0v5.0h-5.0zM860.0 275.2h5.0v5.0h-5.0zM842.4 279.6h5.0v5.0h-5.0zM864.4 279.6h5.0v5.0h-5.0zM732.4 284.0h5.0v5.0h-5.0zM794.0 284.0h5.0v5.0h-5.0zM868.8 288.4h5.0v5.0h-5.0zM807.2 292.8h5.0v5.0h-5.0zM820.4 297.2h9.4v5.0h-9.4zM807.2 301.6h9.4v5.0h-9.4zM824.8 301.6h5.0v5.0h-5.0zM855.6 301.6h5.0v5.0h-5.0zM736.8 306.0h5.0v5.0h-5.0zM745.6 306.0h5.0v5.0h-5.0zM763.2 306.0h9.4v5.0h-9.4zM741.2 310.4h5.0v5.0h-5.0zM820.4 310.4h5.0v5.0h-5.0zM741.2 314.8h5.0v5.0h-5.0zM816.0 314.8h5.0v5.0h-5.0zM750.0 332.4h5.0v5.0h-5.0zM758.8 332.4h5.0v5.0h-5.0zM798.4 341.2h5.0v5.0h-5.0zM824.8 350.0h5.0v5.0h-5.0zM833.6 350.0h5.0v5.0h-5.0zM785.2 354.4h9.4v5.0h-9.4zM860.0 354.4h9.4v5.0h-9.4zM886.4 354.4h5.0v5.0h-5.0zM789.6 358.8h5.0v5.0h-5.0zM886.4 358.8h5.0v5.0h-5.0zM767.6 363.2h5.0v5.0h-5.0zM798.4 363.2h9.4v5.0h-9.4zM860.0 363.2h9.4v5.0h-9.4zM842.4 367.6h5.0v5.0h-5.0zM855.6 367.6h5.0v5.0h-5.0zM882.0 367.6h5.0v5.0h-5.0zM877.6 372.0h5.0v5.0h-5.0zM829.2 376.4h5.0v5.0h-5.0zM851.2 376.4h9.4v5.0h-9.4zM776.4 380.8h5.0v5.0h-5.0zM824.8 389.6h5.0v5.0h-5.0z" fill="#f2ab1e" shape-rendering="crispEdges"/>
<path d="M662.0 72.8h5.0v5.0h-5.0zM657.6 77.2h5.0v5.0h-5.0zM644.4 81.6h5.0v5.0h-5.0zM710.4 90.4h5.0v5.0h-5.0zM723.6 90.4h5.0v5.0h-5.0zM670.8 94.8h5.0v5.0h-5.0zM723.6 94.8h5.0v5.0h-5.0zM684.0 99.2h5.0v5.0h-5.0zM692.8 103.6h5.0v5.0h-5.0zM631.2 108.0h5.0v5.0h-5.0zM644.4 108.0h5.0v5.0h-5.0zM670.8 108.0h9.4v5.0h-9.4zM710.4 116.8h5.0v5.0h-5.0zM860.0 116.8h5.0v5.0h-5.0zM635.6 121.2h5.0v5.0h-5.0zM662.0 121.2h5.0v5.0h-5.0zM675.2 121.2h5.0v5.0h-5.0zM723.6 121.2h5.0v5.0h-5.0zM732.4 121.2h5.0v5.0h-5.0zM802.8 121.2h5.0v5.0h-5.0zM662.0 125.6h5.0v5.0h-5.0zM750.0 125.6h5.0v5.0h-5.0zM644.4 130.0h5.0v5.0h-5.0zM732.4 130.0h5.0v5.0h-5.0zM794.0 134.4h5.0v5.0h-5.0zM873.2 134.4h5.0v5.0h-5.0zM684.0 138.8h9.4v5.0h-9.4zM763.2 138.8h5.0v5.0h-5.0zM772.0 138.8h5.0v5.0h-5.0zM780.8 138.8h5.0v5.0h-5.0zM802.8 138.8h5.0v5.0h-5.0zM851.2 138.8h9.4v5.0h-9.4zM868.8 138.8h5.0v5.0h-5.0zM670.8 143.2h5.0v5.0h-5.0zM776.4 143.2h9.4v5.0h-9.4zM811.6 143.2h5.0v5.0h-5.0zM912.8 143.2h5.0v5.0h-5.0zM798.4 147.6h5.0v5.0h-5.0zM851.2 147.6h5.0v5.0h-5.0zM899.6 147.6h5.0v5.0h-5.0zM706.0 152.0h5.0v5.0h-5.0zM745.6 152.0h5.0v5.0h-5.0zM833.6 152.0h5.0v5.0h-5.0zM851.2 152.0h5.0v5.0h-5.0zM860.0 152.0h5.0v5.0h-5.0zM934.8 152.0h5.0v5.0h-5.0zM719.2 156.4h5.0v5.0h-5.0zM873.2 156.4h9.4v5.0h-9.4zM684.0 160.8h5.0v5.0h-5.0zM846.8 160.8h5.0v5.0h-5.0zM877.6 160.8h5.0v5.0h-5.0zM934.8 160.8h5.0v5.0h-5.0zM670.8 165.2h5.0v5.0h-5.0zM697.2 165.2h5.0v5.0h-5.0zM794.0 165.2h5.0v5.0h-5.0zM824.8 165.2h5.0v5.0h-5.0zM833.6 165.2h5.0v5.0h-5.0zM706.0 169.6h5.0v5.0h-5.0zM741.2 169.6h9.4v5.0h-9.4zM802.8 169.6h5.0v5.0h-5.0zM816.0 169.6h5.0v5.0h-5.0zM670.8 174.0h5.0v5.0h-5.0zM750.0 174.0h5.0v5.0h-5.0zM758.8 174.0h5.0v5.0h-5.0zM855.6 174.0h5.0v5.0h-5.0zM886.4 174.0h9.4v5.0h-9.4zM719.2 178.4h5.0v5.0h-5.0zM741.2 178.4h5.0v5.0h-5.0zM754.4 178.4h9.4v5.0h-9.4zM820.4 178.4h5.0v5.0h-5.0zM851.2 178.4h5.0v5.0h-5.0zM890.8 178.4h9.4v5.0h-9.4zM816.0 182.8h5.0v5.0h-5.0zM838.0 182.8h5.0v5.0h-5.0zM895.2 182.8h5.0v5.0h-5.0zM776.4 187.2h5.0v5.0h-5.0zM855.6 187.2h5.0v5.0h-5.0zM741.2 191.6h5.0v5.0h-5.0zM776.4 191.6h5.0v5.0h-5.0zM789.6 191.6h5.0v5.0h-5.0zM816.0 191.6h5.0v5.0h-5.0zM701.6 196.0h5.0v5.0h-5.0zM860.0 196.0h5.0v5.0h-5.0zM895.2 196.0h5.0v5.0h-5.0zM697.2 200.4h5.0v5.0h-5.0zM785.2 200.4h5.0v5.0h-5.0zM794.0 200.4h5.0v5.0h-5.0zM807.2 200.4h5.0v5.0h-5.0zM811.6 204.8h5.0v5.0h-5.0zM785.2 209.2h5.0v5.0h-5.0zM798.4 209.2h5.0v5.0h-5.0zM882.0 209.2h5.0v5.0h-5.0zM860.0 213.6h5.0v5.0h-5.0zM886.4 213.6h5.0v5.0h-5.0zM758.8 218.0h5.0v5.0h-5.0zM785.2 218.0h5.0v5.0h-5.0zM824.8 218.0h5.0v5.0h-5.0zM868.8 218.0h5.0v5.0h-5.0zM728.0 222.4h5.0v5.0h-5.0zM811.6 222.4h5.0v5.0h-5.0zM899.6 222.4h5.0v5.0h-5.0zM912.8 222.4h5.0v5.0h-5.0zM706.0 226.8h5.0v5.0h-5.0zM763.2 226.8h5.0v5.0h-5.0zM820.4 226.8h5.0v5.0h-5.0zM890.8 226.8h5.0v5.0h-5.0zM904.0 226.8h5.0v5.0h-5.0zM736.8 231.2h5.0v5.0h-5.0zM706.0 235.6h5.0v5.0h-5.0zM763.2 240.0h5.0v5.0h-5.0zM824.8 240.0h5.0v5.0h-5.0zM877.6 240.0h5.0v5.0h-5.0zM904.0 240.0h5.0v5.0h-5.0zM706.0 244.4h5.0v5.0h-5.0zM714.8 244.4h5.0v5.0h-5.0zM763.2 244.4h5.0v5.0h-5.0zM873.2 244.4h5.0v5.0h-5.0zM750.0 248.8h5.0v5.0h-5.0zM758.8 248.8h5.0v5.0h-5.0zM798.4 248.8h5.0v5.0h-5.0zM855.6 248.8h5.0v5.0h-5.0zM877.6 248.8h5.0v5.0h-5.0zM886.4 248.8h5.0v5.0h-5.0zM750.0 253.2h5.0v5.0h-5.0zM758.8 253.2h5.0v5.0h-5.0zM846.8 253.2h5.0v5.0h-5.0zM886.4 253.2h5.0v5.0h-5.0zM763.2 257.6h9.4v5.0h-9.4zM833.6 257.6h5.0v5.0h-5.0zM719.2 262.0h5.0v5.0h-5.0zM758.8 262.0h5.0v5.0h-5.0zM780.8 262.0h5.0v5.0h-5.0zM873.2 262.0h5.0v5.0h-5.0zM890.8 262.0h5.0v5.0h-5.0zM719.2 266.4h5.0v5.0h-5.0zM838.0 266.4h5.0v5.0h-5.0zM851.2 266.4h5.0v5.0h-5.0zM890.8 266.4h5.0v5.0h-5.0zM904.0 266.4h5.0v5.0h-5.0zM736.8 270.8h5.0v5.0h-5.0zM851.2 270.8h5.0v5.0h-5.0zM890.8 270.8h5.0v5.0h-5.0zM723.6 275.2h5.0v5.0h-5.0zM785.2 275.2h5.0v5.0h-5.0zM723.6 279.6h5.0v5.0h-5.0zM732.4 279.6h5.0v5.0h-5.0zM868.8 284.0h5.0v5.0h-5.0zM877.6 284.0h5.0v5.0h-5.0zM851.2 292.8h5.0v5.0h-5.0zM846.8 297.2h5.0v5.0h-5.0zM855.6 297.2h5.0v5.0h-5.0zM851.2 301.6h5.0v5.0h-5.0zM820.4 314.8h5.0v5.0h-5.0zM763.2 319.2h5.0v5.0h-5.0zM750.0 328.0h5.0v5.0h-5.0zM838.0 328.0h5.0v5.0h-5.0zM754.4 332.4h5.0v5.0h-5.0zM864.4 341.2h5.0v5.0h-5.0zM767.6 345.6h5.0v5.0h-5.0zM846.8 345.6h5.0v5.0h-5.0zM772.0 350.0h5.0v5.0h-5.0zM816.0 354.4h9.4v5.0h-9.4zM785.2 358.8h5.0v5.0h-5.0zM785.2 363.2h5.0v5.0h-5.0zM833.6 363.2h5.0v5.0h-5.0zM846.8 363.2h5.0v5.0h-5.0zM890.8 363.2h5.0v5.0h-5.0zM899.6 363.2h5.0v5.0h-5.0zM767.6 367.6h5.0v5.0h-5.0zM838.0 367.6h5.0v5.0h-5.0zM802.8 372.0h5.0v5.0h-5.0zM899.6 372.0h5.0v5.0h-5.0zM767.6 376.4h5.0v5.0h-5.0zM780.8 376.4h5.0v5.0h-5.0zM895.2 376.4h5.0v5.0h-5.0zM772.0 380.8h5.0v5.0h-5.0zM846.8 380.8h5.0v5.0h-5.0zM877.6 380.8h5.0v5.0h-5.0zM886.4 380.8h5.0v5.0h-5.0zM895.2 380.8h5.0v5.0h-5.0zM824.8 385.2h5.0v5.0h-5.0zM873.2 385.2h5.0v5.0h-5.0zM860.0 389.6h5.0v5.0h-5.0zM851.2 394.0h5.0v5.0h-5.0z" fill="#f0b41f" shape-rendering="crispEdges"/>
<path d="M648.8 86.0h5.0v5.0h-5.0zM675.2 86.0h9.4v5.0h-9.4zM692.8 86.0h5.0v5.0h-5.0zM701.6 86.0h5.0v5.0h-5.0zM653.2 90.4h5.0v5.0h-5.0zM662.0 94.8h9.4v5.0h-9.4zM701.6 94.8h5.0v5.0h-5.0zM657.6 99.2h5.0v5.0h-5.0zM723.6 99.2h5.0v5.0h-5.0zM653.2 103.6h5.0v5.0h-5.0zM710.4 103.6h5.0v5.0h-5.0zM741.2 103.6h5.0v5.0h-5.0zM811.6 112.4h5.0v5.0h-5.0zM860.0 112.4h5.0v5.0h-5.0zM684.0 116.8h5.0v5.0h-5.0zM706.0 116.8h5.0v5.0h-5.0zM833.6 116.8h5.0v5.0h-5.0zM657.6 121.2h5.0v5.0h-5.0zM670.8 121.2h5.0v5.0h-5.0zM688.4 121.2h5.0v5.0h-5.0zM736.8 121.2h5.0v5.0h-5.0zM750.0 121.2h5.0v5.0h-5.0zM692.8 125.6h5.0v5.0h-5.0zM741.2 125.6h5.0v5.0h-5.0zM820.4 125.6h5.0v5.0h-5.0zM934.8 125.6h9.4v5.0h-9.4zM741.2 130.0h5.0v5.0h-5.0zM829.2 130.0h5.0v5.0h-5.0zM908.4 130.0h5.0v5.0h-5.0zM917.2 130.0h5.0v5.0h-5.0zM706.0 134.4h5.0v5.0h-5.0zM758.8 134.4h5.0v5.0h-5.0zM829.2 134.4h5.0v5.0h-5.0zM662.0 138.8h5.0v5.0h-5.0zM741.2 138.8h5.0v5.0h-5.0zM789.6 138.8h5.0v5.0h-5.0zM824.8 138.8h5.0v5.0h-5.0zM838.0 138.8h5.0v5.0h-5.0zM846.8 138.8h5.0v5.0h-5.0zM675.2 143.2h5.0v5.0h-5.0zM794.0 143.2h5.0v5.0h-5.0zM855.6 143.2h9.4v5.0h-9.4zM882.0 143.2h5.0v5.0h-5.0zM934.8 143.2h5.0v5.0h-5.0zM688.4 147.6h9.4v5.0h-9.4zM767.6 147.6h5.0v5.0h-5.0zM780.8 147.6h5.0v5.0h-5.0zM824.8 147.6h5.0v5.0h-5.0zM846.8 147.6h5.0v5.0h-5.0zM855.6 147.6h5.0v5.0h-5.0zM868.8 147.6h5.0v5.0h-5.0zM789.6 152.0h5.0v5.0h-5.0zM824.8 152.0h5.0v5.0h-5.0zM868.8 152.0h9.4v5.0h-9.4zM930.4 152.0h5.0v5.0h-5.0zM816.0 156.4h9.4v5.0h-9.4zM846.8 156.4h5.0v5.0h-5.0zM754.4 160.8h5.0v5.0h-5.0zM767.6 160.8h5.0v5.0h-5.0zM816.0 160.8h5.0v5.0h-5.0zM824.8 160.8h5.0v5.0h-5.0zM860.0 160.8h9.4v5.0h-9.4zM692.8 165.2h5.0v5.0h-5.0zM710.4 165.2h5.0v5.0h-5.0zM723.6 165.2h5.0v5.0h-5.0zM701.6 169.6h5.0v5.0h-5.0zM780.8 169.6h5.0v5.0h-5.0zM833.6 169.6h5.0v5.0h-5.0zM851.2 169.6h5.0v5.0h-5.0zM877.6 169.6h5.0v5.0h-5.0zM675.2 174.0h5.0v5.0h-5.0zM745.6 174.0h5.0v5.0h-5.0zM833.6 174.0h5.0v5.0h-5.0zM842.4 174.0h5.0v5.0h-5.0zM772.0 178.4h5.0v5.0h-5.0zM838.0 178.4h5.0v5.0h-5.0zM877.6 178.4h9.4v5.0h-9.4zM899.6 178.4h5.0v5.0h-5.0zM688.4 182.8h5.0v5.0h-5.0zM697.2 182.8h5.0v5.0h-5.0zM723.6 182.8h5.0v5.0h-5.0zM772.0 182.8h5.0v5.0h-5.0zM780.8 182.8h5.0v5.0h-5.0zM868.8 182.8h5.0v5.0h-5.0zM679.6 187.2h5.0v5.0h-5.0zM745.6 187.2h5.0v5.0h-5.0zM789.6 187.2h5.0v5.0h-5.0zM820.4 187.2h5.0v5.0h-5.0zM846.8 187.2h5.0v5.0h-5.0zM728.0 191.6h5.0v5.0h-5.0zM688.4 196.0h5.0v5.0h-5.0zM697.2 196.0h5.0v5.0h-5.0zM750.0 196.0h5.0v5.0h-5.0zM829.2 196.0h5.0v5.0h-5.0zM842.4 196.0h5.0v5.0h-5.0zM701.6 200.4h5.0v5.0h-5.0zM838.0 200.4h5.0v5.0h-5.0zM846.8 200.4h9.4v5.0h-9.4zM692.8 204.8h9.4v5.0h-9.4zM873.2 204.8h5.0v5.0h-5.0zM912.8 204.8h5.0v5.0h-5.0zM842.4 209.2h5.0v5.0h-5.0zM855.6 209.2h9.4v5.0h-9.4zM908.4 209.2h5.0v5.0h-5.0zM745.6 213.6h5.0v5.0h-5.0zM741.2 218.0h9.4v5.0h-9.4zM811.6 218.0h5.0v5.0h-5.0zM864.4 218.0h5.0v5.0h-5.0zM895.2 218.0h5.0v5.0h-5.0zM692.8 222.4h5.0v5.0h-5.0zM860.0 222.4h5.0v5.0h-5.0zM908.4 222.4h5.0v5.0h-5.0zM728.0 226.8h5.0v5.0h-5.0zM811.6 226.8h5.0v5.0h-5.0zM824.8 226.8h5.0v5.0h-5.0zM912.8 226.8h5.0v5.0h-5.0zM706.0 231.2h9.4v5.0h-9.4zM728.0 231.2h5.0v5.0h-5.0zM763.2 231.2h5.0v5.0h-5.0zM868.8 231.2h13.8v5.0h-13.8zM895.2 231.2h5.0v5.0h-5.0zM710.4 235.6h5.0v5.0h-5.0zM723.6 235.6h5.0v5.0h-5.0zM732.4 235.6h9.4v5.0h-9.4zM750.0 235.6h5.0v5.0h-5.0zM763.2 235.6h5.0v5.0h-5.0zM816.0 235.6h5.0v5.0h-5.0zM838.0 235.6h5.0v5.0h-5.0zM723.6 240.0h5.0v5.0h-5.0zM745.6 240.0h5.0v5.0h-5.0zM754.4 240.0h5.0v5.0h-5.0zM741.2 244.4h5.0v5.0h-5.0zM886.4 244.4h5.0v5.0h-5.0zM710.4 253.2h5.0v5.0h-5.0zM780.8 253.2h5.0v5.0h-5.0zM868.8 253.2h5.0v5.0h-5.0zM842.4 257.6h5.0v5.0h-5.0zM873.2 257.6h5.0v5.0h-5.0zM912.8 257.6h5.0v5.0h-5.0zM714.8 262.0h5.0v5.0h-5.0zM868.8 262.0h5.0v5.0h-5.0zM882.0 262.0h5.0v5.0h-5.0zM710.4 266.4h5.0v5.0h-5.0zM732.4 266.4h5.0v5.0h-5.0zM776.4 266.4h5.0v5.0h-5.0zM829.2 266.4h5.0v5.0h-5.0zM895.2 266.4h5.0v5.0h-5.0zM912.8 266.4h9.4v5.0h-9.4zM842.4 270.8h5.0v5.0h-5.0zM855.6 270.8h5.0v5.0h-5.0zM899.6 270.8h5.0v5.0h-5.0zM895.2 275.2h5.0v5.0h-5.0zM736.8 279.6h5.0v5.0h-5.0zM785.2 279.6h5.0v5.0h-5.0zM723.6 284.0h5.0v5.0h-5.0zM789.6 284.0h5.0v5.0h-5.0zM824.8 284.0h5.0v5.0h-5.0zM882.0 284.0h5.0v5.0h-5.0zM728.0 288.4h5.0v5.0h-5.0zM772.0 288.4h5.0v5.0h-5.0zM807.2 288.4h5.0v5.0h-5.0zM860.0 288.4h5.0v5.0h-5.0zM811.6 292.8h5.0v5.0h-5.0zM846.8 292.8h5.0v5.0h-5.0zM745.6 297.2h5.0v5.0h-5.0zM798.4 297.2h5.0v5.0h-5.0zM829.2 297.2h5.0v5.0h-5.0zM851.2 297.2h5.0v5.0h-5.0zM736.8 301.6h5.0v5.0h-5.0zM802.8 301.6h5.0v5.0h-5.0zM864.4 301.6h5.0v5.0h-5.0zM772.0 306.0h5.0v5.0h-5.0zM802.8 306.0h5.0v5.0h-5.0zM820.4 306.0h5.0v5.0h-5.0zM816.0 310.4h5.0v5.0h-5.0zM758.8 314.8h5.0v5.0h-5.0zM811.6 314.8h5.0v5.0h-5.0zM763.2 323.6h5.0v5.0h-5.0zM758.8 336.8h5.0v5.0h-5.0zM798.4 336.8h5.0v5.0h-5.0zM846.8 336.8h5.0v5.0h-5.0zM772.0 345.6h5.0v5.0h-5.0zM838.0 345.6h5.0v5.0h-5.0zM824.8 354.4h5.0v5.0h-5.0zM895.2 354.4h5.0v5.0h-5.0zM833.6 358.8h5.0v5.0h-5.0zM855.6 358.8h5.0v5.0h-5.0zM868.8 358.8h5.0v5.0h-5.0zM811.6 363.2h5.0v5.0h-5.0zM763.2 367.6h5.0v5.0h-5.0zM772.0 367.6h9.4v5.0h-9.4zM899.6 367.6h5.0v5.0h-5.0zM794.0 372.0h5.0v5.0h-5.0zM816.0 372.0h5.0v5.0h-5.0zM838.0 372.0h5.0v5.0h-5.0zM895.2 372.0h5.0v5.0h-5.0zM763.2 376.4h5.0v5.0h-5.0zM798.4 376.4h9.4v5.0h-9.4zM833.6 376.4h5.0v5.0h-5.0zM864.4 376.4h5.0v5.0h-5.0zM767.6 380.8h5.0v5.0h-5.0zM829.2 380.8h9.4v5.0h-9.4zM789.6 385.2h5.0v5.0h-5.0zM899.6 385.2h5.0v5.0h-5.0zM829.2 389.6h5.0v5.0h-5.0zM868.8 389.6h9.4v5.0h-9.4zM846.8 394.0h5.0v5.0h-5.0z" fill="#efbd20" shape-rendering="crispEdges"/>
<path d="M697.2 81.6h5.0v5.0h-5.0zM640.0 86.0h5.0v5.0h-5.0zM653.2 86.0h9.4v5.0h-9.4zM697.2 86.0h5.0v5.0h-5.0zM675.2 90.4h5.0v5.0h-5.0zM701.6 90.4h9.4v5.0h-9.4zM741.2 90.4h5.0v5.0h-5.0zM736.8 99.2h5.0v5.0h-5.0zM701.6 103.6h5.0v5.0h-5.0zM714.8 103.6h5.0v5.0h-5.0zM736.8 103.6h5.0v5.0h-5.0zM657.6 108.0h5.0v5.0h-5.0zM666.4 108.0h5.0v5.0h-5.0zM657.6 112.4h5.0v5.0h-5.0zM666.4 112.4h5.0v5.0h-5.0zM732.4 112.4h5.0v5.0h-5.0zM657.6 116.8h5.0v5.0h-5.0zM732.4 116.8h5.0v5.0h-5.0zM829.2 116.8h5.0v5.0h-5.0zM714.8 121.2h5.0v5.0h-5.0zM829.2 121.2h9.4v5.0h-9.4zM868.8 121.2h5.0v5.0h-5.0zM635.6 125.6h5.0v5.0h-5.0zM829.2 125.6h5.0v5.0h-5.0zM930.4 125.6h5.0v5.0h-5.0zM736.8 130.0h5.0v5.0h-5.0zM763.2 134.4h5.0v5.0h-5.0zM820.4 134.4h9.4v5.0h-9.4zM860.0 134.4h9.4v5.0h-9.4zM926.0 134.4h5.0v5.0h-5.0zM732.4 138.8h9.4v5.0h-9.4zM776.4 138.8h5.0v5.0h-5.0zM794.0 138.8h5.0v5.0h-5.0zM816.0 138.8h5.0v5.0h-5.0zM860.0 138.8h5.0v5.0h-5.0zM917.2 138.8h5.0v5.0h-5.0zM653.2 143.2h5.0v5.0h-5.0zM679.6 143.2h5.0v5.0h-5.0zM789.6 143.2h5.0v5.0h-5.0zM816.0 143.2h5.0v5.0h-5.0zM846.8 143.2h5.0v5.0h-5.0zM899.6 143.2h9.4v5.0h-9.4zM930.4 143.2h5.0v5.0h-5.0zM939.2 143.2h5.0v5.0h-5.0zM723.6 147.6h5.0v5.0h-5.0zM789.6 147.6h5.0v5.0h-5.0zM864.4 147.6h5.0v5.0h-5.0zM873.2 147.6h5.0v5.0h-5.0zM895.2 147.6h5.0v5.0h-5.0zM785.2 152.0h5.0v5.0h-5.0zM838.0 152.0h5.0v5.0h-5.0zM877.6 152.0h5.0v5.0h-5.0zM895.2 152.0h9.4v5.0h-9.4zM917.2 152.0h5.0v5.0h-5.0zM754.4 156.4h5.0v5.0h-5.0zM780.8 156.4h9.4v5.0h-9.4zM860.0 156.4h9.4v5.0h-9.4zM899.6 156.4h5.0v5.0h-5.0zM917.2 156.4h5.0v5.0h-5.0zM675.2 160.8h5.0v5.0h-5.0zM772.0 160.8h5.0v5.0h-5.0zM789.6 160.8h5.0v5.0h-5.0zM820.4 160.8h5.0v5.0h-5.0zM701.6 165.2h5.0v5.0h-5.0zM816.0 165.2h9.4v5.0h-9.4zM842.4 165.2h5.0v5.0h-5.0zM851.2 165.2h5.0v5.0h-5.0zM864.4 165.2h5.0v5.0h-5.0zM930.4 165.2h5.0v5.0h-5.0zM767.6 169.6h5.0v5.0h-5.0zM829.2 169.6h5.0v5.0h-5.0zM772.0 174.0h9.4v5.0h-9.4zM767.6 178.4h5.0v5.0h-5.0zM789.6 178.4h5.0v5.0h-5.0zM868.8 178.4h5.0v5.0h-5.0zM917.2 178.4h5.0v5.0h-5.0zM728.0 182.8h5.0v5.0h-5.0zM873.2 182.8h5.0v5.0h-5.0zM758.8 187.2h5.0v5.0h-5.0zM767.6 187.2h9.4v5.0h-9.4zM864.4 187.2h5.0v5.0h-5.0zM780.8 191.6h5.0v5.0h-5.0zM860.0 191.6h5.0v5.0h-5.0zM904.0 191.6h5.0v5.0h-5.0zM855.6 196.0h5.0v5.0h-5.0zM750.0 200.4h5.0v5.0h-5.0zM789.6 200.4h5.0v5.0h-5.0zM855.6 200.4h5.0v5.0h-5.0zM688.4 204.8h5.0v5.0h-5.0zM877.6 204.8h5.0v5.0h-5.0zM789.6 209.2h5.0v5.0h-5.0zM811.6 209.2h5.0v5.0h-5.0zM785.2 213.6h5.0v5.0h-5.0zM873.2 213.6h5.0v5.0h-5.0zM899.6 218.0h9.4v5.0h-9.4zM912.8 218.0h5.0v5.0h-5.0zM745.6 226.8h5.0v5.0h-5.0zM908.4 226.8h5.0v5.0h-5.0zM917.2 226.8h5.0v5.0h-5.0zM741.2 231.2h5.0v5.0h-5.0zM807.2 231.2h5.0v5.0h-5.0zM816.0 231.2h9.4v5.0h-9.4zM855.6 231.2h5.0v5.0h-5.0zM701.6 235.6h5.0v5.0h-5.0zM741.2 235.6h5.0v5.0h-5.0zM758.8 235.6h5.0v5.0h-5.0zM824.8 235.6h5.0v5.0h-5.0zM842.4 235.6h9.4v5.0h-9.4zM908.4 240.0h5.0v5.0h-5.0zM758.8 244.4h5.0v5.0h-5.0zM798.4 244.4h9.4v5.0h-9.4zM846.8 244.4h5.0v5.0h-5.0zM706.0 248.8h5.0v5.0h-5.0zM802.8 248.8h5.0v5.0h-5.0zM741.2 253.2h5.0v5.0h-5.0zM763.2 253.2h5.0v5.0h-5.0zM833.6 253.2h5.0v5.0h-5.0zM912.8 253.2h5.0v5.0h-5.0zM736.8 257.6h5.0v5.0h-5.0zM789.6 257.6h5.0v5.0h-5.0zM816.0 257.6h5.0v5.0h-5.0zM846.8 257.6h5.0v5.0h-5.0zM917.2 257.6h9.4v5.0h-9.4zM754.4 262.0h5.0v5.0h-5.0zM772.0 262.0h5.0v5.0h-5.0zM824.8 262.0h5.0v5.0h-5.0zM912.8 262.0h9.4v5.0h-9.4zM745.6 266.4h5.0v5.0h-5.0zM772.0 266.4h5.0v5.0h-5.0zM833.6 266.4h5.0v5.0h-5.0zM732.4 270.8h5.0v5.0h-5.0zM860.0 270.8h5.0v5.0h-5.0zM728.0 275.2h9.4v5.0h-9.4zM741.2 275.2h5.0v5.0h-5.0zM750.0 275.2h5.0v5.0h-5.0zM763.2 275.2h5.0v5.0h-5.0zM780.8 275.2h5.0v5.0h-5.0zM877.6 275.2h5.0v5.0h-5.0zM890.8 275.2h5.0v5.0h-5.0zM728.0 279.6h5.0v5.0h-5.0zM745.6 279.6h5.0v5.0h-5.0zM789.6 279.6h5.0v5.0h-5.0zM820.4 279.6h5.0v5.0h-5.0zM833.6 279.6h5.0v5.0h-5.0zM745.6 284.0h5.0v5.0h-5.0zM838.0 284.0h5.0v5.0h-5.0zM794.0 288.4h5.0v5.0h-5.0zM789.6 292.8h5.0v5.0h-5.0zM860.0 292.8h5.0v5.0h-5.0zM758.8 297.2h5.0v5.0h-5.0zM767.6 301.6h5.0v5.0h-5.0zM798.4 301.6h5.0v5.0h-5.0zM829.2 301.6h5.0v5.0h-5.0zM842.4 301.6h5.0v5.0h-5.0zM811.6 306.0h5.0v5.0h-5.0zM745.6 310.4h5.0v5.0h-5.0zM824.8 310.4h5.0v5.0h-5.0zM816.0 319.2h9.4v5.0h-9.4zM780.8 323.6h5.0v5.0h-5.0zM802.8 328.0h5.0v5.0h-5.0zM846.8 328.0h5.0v5.0h-5.0zM855.6 336.8h5.0v5.0h-5.0zM767.6 341.2h5.0v5.0h-5.0zM816.0 341.2h5.0v5.0h-5.0zM833.6 345.6h5.0v5.0h-5.0zM864.4 345.6h5.0v5.0h-5.0zM780.8 350.0h5.0v5.0h-5.0zM802.8 350.0h5.0v5.0h-5.0zM842.4 350.0h5.0v5.0h-5.0zM864.4 350.0h5.0v5.0h-5.0zM758.8 354.4h5.0v5.0h-5.0zM776.4 354.4h5.0v5.0h-5.0zM802.8 354.4h5.0v5.0h-5.0zM868.8 354.4h5.0v5.0h-5.0zM763.2 358.8h5.0v5.0h-5.0zM794.0 358.8h5.0v5.0h-5.0zM811.6 358.8h5.0v5.0h-5.0zM824.8 358.8h9.4v5.0h-9.4zM807.2 363.2h5.0v5.0h-5.0zM824.8 363.2h5.0v5.0h-5.0zM798.4 367.6h5.0v5.0h-5.0zM820.4 367.6h5.0v5.0h-5.0zM833.6 367.6h5.0v5.0h-5.0zM860.0 367.6h22.6v5.0h-22.6zM789.6 372.0h5.0v5.0h-5.0zM833.6 372.0h5.0v5.0h-5.0zM860.0 372.0h5.0v5.0h-5.0zM794.0 376.4h5.0v5.0h-5.0zM807.2 376.4h5.0v5.0h-5.0zM882.0 380.8h5.0v5.0h-5.0zM890.8 380.8h5.0v5.0h-5.0zM785.2 385.2h5.0v5.0h-5.0zM802.8 385.2h9.4v5.0h-9.4zM846.8 385.2h5.0v5.0h-5.0zM895.2 385.2h5.0v5.0h-5.0z" fill="#eec620" shape-rendering="crispEdges"/>
<path d="M675.2 77.2h5.0v5.0h-5.0zM635.6 81.6h5.0v5.0h-5.0zM662.0 86.0h9.4v5.0h-9.4zM640.0 90.4h5.0v5.0h-5.0zM670.8 90.4h5.0v5.0h-5.0zM648.8 94.8h5.0v5.0h-5.0zM860.0 94.8h5.0v5.0h-5.0zM644.4 99.2h5.0v5.0h-5.0zM670.8 112.4h5.0v5.0h-5.0zM741.2 121.2h5.0v5.0h-5.0zM816.0 121.2h5.0v5.0h-5.0zM824.8 121.2h5.0v5.0h-5.0zM855.6 121.2h5.0v5.0h-5.0zM675.2 125.6h5.0v5.0h-5.0zM684.0 125.6h5.0v5.0h-5.0zM714.8 125.6h5.0v5.0h-5.0zM754.4 125.6h5.0v5.0h-5.0zM675.2 130.0h5.0v5.0h-5.0zM864.4 130.0h5.0v5.0h-5.0zM688.4 134.4h9.4v5.0h-9.4zM736.8 134.4h5.0v5.0h-5.0zM807.2 134.4h5.0v5.0h-5.0zM855.6 134.4h5.0v5.0h-5.0zM657.6 138.8h5.0v5.0h-5.0zM692.8 138.8h5.0v5.0h-5.0zM767.6 138.8h5.0v5.0h-5.0zM785.2 138.8h5.0v5.0h-5.0zM811.6 138.8h5.0v5.0h-5.0zM829.2 138.8h5.0v5.0h-5.0zM882.0 138.8h9.4v5.0h-9.4zM851.2 143.2h5.0v5.0h-5.0zM864.4 143.2h5.0v5.0h-5.0zM877.6 143.2h5.0v5.0h-5.0zM811.6 147.6h5.0v5.0h-5.0zM860.0 147.6h5.0v5.0h-5.0zM886.4 147.6h9.4v5.0h-9.4zM917.2 147.6h13.8v5.0h-13.8zM719.2 152.0h5.0v5.0h-5.0zM921.6 152.0h9.4v5.0h-9.4zM679.6 156.4h5.0v5.0h-5.0zM732.4 156.4h5.0v5.0h-5.0zM789.6 156.4h5.0v5.0h-5.0zM868.8 156.4h5.0v5.0h-5.0zM930.4 156.4h5.0v5.0h-5.0zM776.4 160.8h5.0v5.0h-5.0zM785.2 160.8h5.0v5.0h-5.0zM868.8 160.8h5.0v5.0h-5.0zM917.2 160.8h5.0v5.0h-5.0zM688.4 165.2h5.0v5.0h-5.0zM772.0 165.2h5.0v5.0h-5.0zM829.2 165.2h5.0v5.0h-5.0zM934.8 165.2h9.4v5.0h-9.4zM886.4 169.6h9.4v5.0h-9.4zM917.2 169.6h5.0v5.0h-5.0zM877.6 174.0h5.0v5.0h-5.0zM701.6 178.4h5.0v5.0h-5.0zM785.2 178.4h5.0v5.0h-5.0zM816.0 178.4h5.0v5.0h-5.0zM855.6 178.4h5.0v5.0h-5.0zM767.6 182.8h5.0v5.0h-5.0zM785.2 182.8h5.0v5.0h-5.0zM877.6 182.8h5.0v5.0h-5.0zM886.4 182.8h5.0v5.0h-5.0zM728.0 187.2h5.0v5.0h-5.0zM851.2 187.2h5.0v5.0h-5.0zM750.0 191.6h5.0v5.0h-5.0zM772.0 191.6h5.0v5.0h-5.0zM838.0 191.6h5.0v5.0h-5.0zM855.6 191.6h5.0v5.0h-5.0zM886.4 191.6h5.0v5.0h-5.0zM895.2 191.6h5.0v5.0h-5.0zM789.6 196.0h5.0v5.0h-5.0zM833.6 204.8h5.0v5.0h-5.0zM842.4 204.8h5.0v5.0h-5.0zM890.8 204.8h5.0v5.0h-5.0zM899.6 204.8h5.0v5.0h-5.0zM908.4 204.8h5.0v5.0h-5.0zM886.4 209.2h5.0v5.0h-5.0zM895.2 209.2h5.0v5.0h-5.0zM917.2 209.2h5.0v5.0h-5.0zM750.0 213.6h5.0v5.0h-5.0zM855.6 213.6h5.0v5.0h-5.0zM899.6 213.6h5.0v5.0h-5.0zM763.2 218.0h5.0v5.0h-5.0zM772.0 218.0h5.0v5.0h-5.0zM780.8 218.0h5.0v5.0h-5.0zM785.2 222.4h5.0v5.0h-5.0zM829.2 222.4h5.0v5.0h-5.0zM807.2 226.8h5.0v5.0h-5.0zM701.6 231.2h5.0v5.0h-5.0zM772.0 231.2h5.0v5.0h-5.0zM811.6 231.2h5.0v5.0h-5.0zM846.8 231.2h5.0v5.0h-5.0zM807.2 235.6h5.0v5.0h-5.0zM904.0 235.6h5.0v5.0h-5.0zM926.0 235.6h5.0v5.0h-5.0zM758.8 240.0h5.0v5.0h-5.0zM802.8 240.0h5.0v5.0h-5.0zM816.0 240.0h5.0v5.0h-5.0zM864.4 240.0h5.0v5.0h-5.0zM912.8 240.0h5.0v5.0h-5.0zM754.4 244.4h5.0v5.0h-5.0zM754.4 248.8h5.0v5.0h-5.0zM811.6 248.8h5.0v5.0h-5.0zM820.4 248.8h5.0v5.0h-5.0zM882.0 248.8h5.0v5.0h-5.0zM829.2 253.2h5.0v5.0h-5.0zM842.4 253.2h5.0v5.0h-5.0zM921.6 253.2h5.0v5.0h-5.0zM824.8 257.6h5.0v5.0h-5.0zM877.6 257.6h13.8v5.0h-13.8zM723.6 262.0h5.0v5.0h-5.0zM736.8 262.0h5.0v5.0h-5.0zM842.4 262.0h5.0v5.0h-5.0zM714.8 266.4h5.0v5.0h-5.0zM736.8 266.4h5.0v5.0h-5.0zM780.8 266.4h9.4v5.0h-9.4zM842.4 266.4h9.4v5.0h-9.4zM868.8 266.4h5.0v5.0h-5.0zM877.6 266.4h5.0v5.0h-5.0zM926.0 266.4h5.0v5.0h-5.0zM745.6 270.8h9.4v5.0h-9.4zM846.8 270.8h5.0v5.0h-5.0zM758.8 275.2h5.0v5.0h-5.0zM811.6 275.2h5.0v5.0h-5.0zM864.4 275.2h5.0v5.0h-5.0zM741.2 279.6h5.0v5.0h-5.0zM794.0 279.6h5.0v5.0h-5.0zM816.0 279.6h5.0v5.0h-5.0zM728.0 284.0h5.0v5.0h-5.0zM824.8 288.4h5.0v5.0h-5.0zM811.6 297.2h5.0v5.0h-5.0zM745.6 301.6h5.0v5.0h-5.0zM816.0 301.6h5.0v5.0h-5.0zM798.4 306.0h5.0v5.0h-5.0zM807.2 306.0h5.0v5.0h-5.0zM816.0 306.0h5.0v5.0h-5.0zM824.8 306.0h13.8v5.0h-13.8zM750.0 310.4h5.0v5.0h-5.0zM758.8 310.4h5.0v5.0h-5.0zM829.2 310.4h9.4v5.0h-9.4zM750.0 319.2h5.0v5.0h-5.0zM772.0 319.2h5.0v5.0h-5.0zM816.0 323.6h9.4v5.0h-9.4zM754.4 328.0h9.4v5.0h-9.4zM798.4 328.0h5.0v5.0h-5.0zM829.2 328.0h5.0v5.0h-5.0zM767.6 332.4h5.0v5.0h-5.0zM798.4 332.4h5.0v5.0h-5.0zM754.4 336.8h5.0v5.0h-5.0zM763.2 341.2h5.0v5.0h-5.0zM794.0 341.2h5.0v5.0h-5.0zM824.8 341.2h5.0v5.0h-5.0zM758.8 345.6h5.0v5.0h-5.0zM780.8 345.6h5.0v5.0h-5.0zM763.2 350.0h5.0v5.0h-5.0zM877.6 350.0h5.0v5.0h-5.0zM772.0 354.4h5.0v5.0h-5.0zM794.0 354.4h5.0v5.0h-5.0zM807.2 354.4h5.0v5.0h-5.0zM890.8 354.4h5.0v5.0h-5.0zM767.6 358.8h5.0v5.0h-5.0zM780.8 358.8h5.0v5.0h-5.0zM820.4 358.8h5.0v5.0h-5.0zM895.2 358.8h5.0v5.0h-5.0zM780.8 363.2h5.0v5.0h-5.0zM820.4 363.2h5.0v5.0h-5.0zM785.2 367.6h5.0v5.0h-5.0zM811.6 367.6h9.4v5.0h-9.4zM811.6 372.0h5.0v5.0h-5.0zM868.8 372.0h5.0v5.0h-5.0zM842.4 376.4h5.0v5.0h-5.0zM860.0 376.4h5.0v5.0h-5.0zM798.4 385.2h5.0v5.0h-5.0zM882.0 385.2h5.0v5.0h-5.0zM811.6 389.6h5.0v5.0h-5.0zM820.4 389.6h5.0v5.0h-5.0zM833.6 389.6h5.0v5.0h-5.0zM842.4 389.6h5.0v5.0h-5.0zM864.4 389.6h5.0v5.0h-5.0zM877.6 389.6h5.0v5.0h-5.0zM895.2 389.6h5.0v5.0h-5.0z" fill="#eace21" shape-rendering="crispEdges"/>
<path d="M657.6 68.4h5.0v5.0h-5.0zM666.4 68.4h5.0v5.0h-5.0zM679.6 68.4h9.4v5.0h-9.4zM666.4 77.2h5.0v5.0h-5.0zM692.8 81.6h5.0v5.0h-5.0zM701.6 81.6h5.0v5.0h-5.0zM728.0 86.0h5.0v5.0h-5.0zM736.8 86.0h5.0v5.0h-5.0zM644.4 90.4h5.0v5.0h-5.0zM644.4 94.8h5.0v5.0h-5.0zM710.4 94.8h5.0v5.0h-5.0zM622.4 99.2h9.4v5.0h-9.4zM653.2 99.2h5.0v5.0h-5.0zM710.4 99.2h9.4v5.0h-9.4zM860.0 99.2h5.0v5.0h-5.0zM618.0 103.6h5.0v5.0h-5.0zM657.6 103.6h9.4v5.0h-9.4zM662.0 108.0h5.0v5.0h-5.0zM846.8 108.0h5.0v5.0h-5.0zM824.8 116.8h5.0v5.0h-5.0zM807.2 121.2h5.0v5.0h-5.0zM860.0 121.2h5.0v5.0h-5.0zM640.0 125.6h5.0v5.0h-5.0zM688.4 125.6h5.0v5.0h-5.0zM719.2 125.6h5.0v5.0h-5.0zM807.2 125.6h5.0v5.0h-5.0zM688.4 130.0h9.4v5.0h-9.4zM877.6 130.0h5.0v5.0h-5.0zM732.4 134.4h5.0v5.0h-5.0zM741.2 134.4h5.0v5.0h-5.0zM851.2 134.4h5.0v5.0h-5.0zM877.6 138.8h5.0v5.0h-5.0zM934.8 138.8h13.8v5.0h-13.8zM657.6 143.2h5.0v5.0h-5.0zM767.6 143.2h5.0v5.0h-5.0zM785.2 143.2h5.0v5.0h-5.0zM798.4 143.2h5.0v5.0h-5.0zM926.0 143.2h5.0v5.0h-5.0zM785.2 147.6h5.0v5.0h-5.0zM882.0 147.6h5.0v5.0h-5.0zM657.6 152.0h5.0v5.0h-5.0zM723.6 152.0h5.0v5.0h-5.0zM855.6 152.0h5.0v5.0h-5.0zM882.0 152.0h5.0v5.0h-5.0zM833.6 156.4h5.0v5.0h-5.0zM842.4 156.4h5.0v5.0h-5.0zM921.6 156.4h5.0v5.0h-5.0zM930.4 160.8h5.0v5.0h-5.0zM767.6 165.2h5.0v5.0h-5.0zM868.8 165.2h5.0v5.0h-5.0zM917.2 165.2h5.0v5.0h-5.0zM926.0 165.2h5.0v5.0h-5.0zM684.0 169.6h5.0v5.0h-5.0zM838.0 169.6h5.0v5.0h-5.0zM864.4 169.6h5.0v5.0h-5.0zM873.2 169.6h5.0v5.0h-5.0zM921.6 169.6h5.0v5.0h-5.0zM679.6 174.0h5.0v5.0h-5.0zM904.0 174.0h5.0v5.0h-5.0zM917.2 174.0h5.0v5.0h-5.0zM714.8 178.4h5.0v5.0h-5.0zM780.8 178.4h5.0v5.0h-5.0zM798.4 178.4h5.0v5.0h-5.0zM873.2 178.4h5.0v5.0h-5.0zM701.6 182.8h5.0v5.0h-5.0zM710.4 182.8h5.0v5.0h-5.0zM882.0 182.8h5.0v5.0h-5.0zM723.6 187.2h5.0v5.0h-5.0zM868.8 187.2h9.4v5.0h-9.4zM754.4 191.6h5.0v5.0h-5.0zM851.2 191.6h5.0v5.0h-5.0zM868.8 191.6h5.0v5.0h-5.0zM899.6 191.6h5.0v5.0h-5.0zM767.6 196.0h5.0v5.0h-5.0zM838.0 196.0h5.0v5.0h-5.0zM846.8 196.0h5.0v5.0h-5.0zM877.6 196.0h5.0v5.0h-5.0zM772.0 200.4h5.0v5.0h-5.0zM842.4 200.4h5.0v5.0h-5.0zM750.0 204.8h5.0v5.0h-5.0zM789.6 204.8h5.0v5.0h-5.0zM838.0 204.8h5.0v5.0h-5.0zM882.0 204.8h5.0v5.0h-5.0zM692.8 209.2h5.0v5.0h-5.0zM750.0 209.2h5.0v5.0h-5.0zM767.6 209.2h5.0v5.0h-5.0zM864.4 209.2h5.0v5.0h-5.0zM890.8 209.2h5.0v5.0h-5.0zM899.6 209.2h5.0v5.0h-5.0zM772.0 213.6h5.0v5.0h-5.0zM798.4 213.6h5.0v5.0h-5.0zM829.2 213.6h9.4v5.0h-9.4zM846.8 213.6h5.0v5.0h-5.0zM882.0 213.6h5.0v5.0h-5.0zM890.8 213.6h5.0v5.0h-5.0zM912.8 213.6h5.0v5.0h-5.0zM776.4 218.0h5.0v5.0h-5.0zM789.6 218.0h5.0v5.0h-5.0zM860.0 218.0h5.0v5.0h-5.0zM701.6 222.4h5.0v5.0h-5.0zM904.0 222.4h5.0v5.0h-5.0zM776.4 226.8h5.0v5.0h-5.0zM785.2 226.8h5.0v5.0h-5.0zM697.2 231.2h5.0v5.0h-5.0zM732.4 231.2h5.0v5.0h-5.0zM745.6 231.2h5.0v5.0h-5.0zM824.8 231.2h5.0v5.0h-5.0zM851.2 231.2h5.0v5.0h-5.0zM864.4 231.2h5.0v5.0h-5.0zM745.6 235.6h5.0v5.0h-5.0zM754.4 235.6h5.0v5.0h-5.0zM851.2 235.6h5.0v5.0h-5.0zM877.6 235.6h5.0v5.0h-5.0zM912.8 235.6h5.0v5.0h-5.0zM719.2 240.0h5.0v5.0h-5.0zM767.6 240.0h5.0v5.0h-5.0zM860.0 244.4h5.0v5.0h-5.0zM710.4 248.8h5.0v5.0h-5.0zM714.8 253.2h5.0v5.0h-5.0zM785.2 253.2h5.0v5.0h-5.0zM811.6 253.2h5.0v5.0h-5.0zM838.0 253.2h5.0v5.0h-5.0zM851.2 253.2h5.0v5.0h-5.0zM864.4 253.2h5.0v5.0h-5.0zM873.2 253.2h13.8v5.0h-13.8zM917.2 253.2h5.0v5.0h-5.0zM732.4 257.6h5.0v5.0h-5.0zM868.8 257.6h5.0v5.0h-5.0zM794.0 266.4h5.0v5.0h-5.0zM802.8 266.4h5.0v5.0h-5.0zM767.6 270.8h5.0v5.0h-5.0zM780.8 270.8h5.0v5.0h-5.0zM921.6 270.8h5.0v5.0h-5.0zM767.6 275.2h5.0v5.0h-5.0zM829.2 275.2h9.4v5.0h-9.4zM851.2 275.2h5.0v5.0h-5.0zM904.0 275.2h5.0v5.0h-5.0zM767.6 279.6h5.0v5.0h-5.0zM829.2 279.6h5.0v5.0h-5.0zM877.6 279.6h5.0v5.0h-5.0zM785.2 284.0h5.0v5.0h-5.0zM798.4 284.0h5.0v5.0h-5.0zM829.2 284.0h5.0v5.0h-5.0zM842.4 284.0h5.0v5.0h-5.0zM873.2 284.0h5.0v5.0h-5.0zM745.6 288.4h5.0v5.0h-5.0zM855.6 288.4h5.0v5.0h-5.0zM745.6 292.8h5.0v5.0h-5.0zM802.8 292.8h5.0v5.0h-5.0zM820.4 292.8h9.4v5.0h-9.4zM728.0 297.2h5.0v5.0h-5.0zM754.4 297.2h5.0v5.0h-5.0zM816.0 297.2h5.0v5.0h-5.0zM763.2 301.6h5.0v5.0h-5.0zM794.0 306.0h5.0v5.0h-5.0zM842.4 306.0h5.0v5.0h-5.0zM772.0 310.4h5.0v5.0h-5.0zM842.4 310.4h5.0v5.0h-5.0zM758.8 319.2h5.0v5.0h-5.0zM758.8 323.6h5.0v5.0h-5.0zM824.8 323.6h5.0v5.0h-5.0zM833.6 323.6h5.0v5.0h-5.0zM763.2 328.0h5.0v5.0h-5.0zM824.8 328.0h5.0v5.0h-5.0zM833.6 328.0h5.0v5.0h-5.0zM838.0 332.4h5.0v5.0h-5.0zM846.8 332.4h5.0v5.0h-5.0zM816.0 336.8h5.0v5.0h-5.0zM758.8 341.2h5.0v5.0h-5.0zM842.4 341.2h5.0v5.0h-5.0zM877.6 345.6h5.0v5.0h-5.0zM758.8 350.0h5.0v5.0h-5.0zM767.6 350.0h5.0v5.0h-5.0zM798.4 350.0h5.0v5.0h-5.0zM829.2 350.0h5.0v5.0h-5.0zM763.2 354.4h9.4v5.0h-9.4zM811.6 354.4h5.0v5.0h-5.0zM829.2 354.4h5.0v5.0h-5.0zM873.2 354.4h5.0v5.0h-5.0zM776.4 363.2h5.0v5.0h-5.0zM842.4 363.2h5.0v5.0h-5.0zM873.2 363.2h5.0v5.0h-5.0zM780.8 367.6h5.0v5.0h-5.0zM763.2 372.0h9.4v5.0h-9.4zM798.4 372.0h5.0v5.0h-5.0zM789.6 376.4h5.0v5.0h-5.0zM811.6 376.4h5.0v5.0h-5.0zM772.0 385.2h5.0v5.0h-5.0zM838.0 385.2h5.0v5.0h-5.0zM877.6 385.2h5.0v5.0h-5.0z" fill="#e6d521" shape-rendering="crispEdges"/>
<path d="M653.2 68.4h5.0v5.0h-5.0zM640.0 81.6h5.0v5.0h-5.0zM688.4 81.6h5.0v5.0h-5.0zM644.4 86.0h5.0v5.0h-5.0zM626.8 90.4h5.0v5.0h-5.0zM648.8 90.4h5.0v5.0h-5.0zM662.0 90.4h5.0v5.0h-5.0zM697.2 90.4h5.0v5.0h-5.0zM701.6 99.2h5.0v5.0h-5.0zM864.4 99.2h5.0v5.0h-5.0zM697.2 103.6h5.0v5.0h-5.0zM728.0 108.0h5.0v5.0h-5.0zM842.4 112.4h5.0v5.0h-5.0zM864.4 112.4h5.0v5.0h-5.0zM653.2 116.8h5.0v5.0h-5.0zM666.4 116.8h9.4v5.0h-9.4zM811.6 116.8h5.0v5.0h-5.0zM838.0 116.8h5.0v5.0h-5.0zM930.4 116.8h9.4v5.0h-9.4zM719.2 121.2h5.0v5.0h-5.0zM820.4 121.2h5.0v5.0h-5.0zM838.0 121.2h5.0v5.0h-5.0zM851.2 121.2h5.0v5.0h-5.0zM934.8 121.2h5.0v5.0h-5.0zM816.0 125.6h5.0v5.0h-5.0zM855.6 125.6h5.0v5.0h-5.0zM873.2 125.6h5.0v5.0h-5.0zM921.6 125.6h9.4v5.0h-9.4zM807.2 130.0h5.0v5.0h-5.0zM838.0 134.4h5.0v5.0h-5.0zM921.6 134.4h5.0v5.0h-5.0zM842.4 138.8h5.0v5.0h-5.0zM864.4 138.8h5.0v5.0h-5.0zM890.8 138.8h5.0v5.0h-5.0zM772.0 143.2h5.0v5.0h-5.0zM943.6 147.6h5.0v5.0h-5.0zM794.0 156.4h5.0v5.0h-5.0zM895.2 156.4h5.0v5.0h-5.0zM679.6 160.8h5.0v5.0h-5.0zM688.4 160.8h9.4v5.0h-9.4zM851.2 160.8h9.4v5.0h-9.4zM675.2 169.6h5.0v5.0h-5.0zM860.0 174.0h5.0v5.0h-5.0zM860.0 178.4h5.0v5.0h-5.0zM719.2 182.8h5.0v5.0h-5.0zM719.2 187.2h5.0v5.0h-5.0zM745.6 191.6h5.0v5.0h-5.0zM758.8 191.6h5.0v5.0h-5.0zM833.6 191.6h5.0v5.0h-5.0zM873.2 191.6h9.4v5.0h-9.4zM754.4 196.0h5.0v5.0h-5.0zM772.0 196.0h5.0v5.0h-5.0zM780.8 196.0h5.0v5.0h-5.0zM807.2 196.0h5.0v5.0h-5.0zM851.2 196.0h5.0v5.0h-5.0zM890.8 196.0h5.0v5.0h-5.0zM754.4 200.4h5.0v5.0h-5.0zM763.2 200.4h5.0v5.0h-5.0zM780.8 200.4h5.0v5.0h-5.0zM816.0 200.4h5.0v5.0h-5.0zM877.6 200.4h5.0v5.0h-5.0zM763.2 204.8h5.0v5.0h-5.0zM794.0 204.8h5.0v5.0h-5.0zM776.4 209.2h9.4v5.0h-9.4zM794.0 209.2h5.0v5.0h-5.0zM807.2 209.2h5.0v5.0h-5.0zM780.8 213.6h5.0v5.0h-5.0zM767.6 218.0h5.0v5.0h-5.0zM794.0 218.0h5.0v5.0h-5.0zM807.2 218.0h5.0v5.0h-5.0zM829.2 218.0h5.0v5.0h-5.0zM855.6 218.0h5.0v5.0h-5.0zM873.2 218.0h5.0v5.0h-5.0zM697.2 222.4h5.0v5.0h-5.0zM780.8 222.4h5.0v5.0h-5.0zM855.6 222.4h5.0v5.0h-5.0zM802.8 226.8h5.0v5.0h-5.0zM851.2 226.8h5.0v5.0h-5.0zM921.6 226.8h5.0v5.0h-5.0zM750.0 231.2h5.0v5.0h-5.0zM758.8 231.2h5.0v5.0h-5.0zM829.2 231.2h5.0v5.0h-5.0zM767.6 235.6h5.0v5.0h-5.0zM776.4 235.6h5.0v5.0h-5.0zM811.6 235.6h5.0v5.0h-5.0zM807.2 240.0h5.0v5.0h-5.0zM842.4 240.0h5.0v5.0h-5.0zM776.4 244.4h5.0v5.0h-5.0zM824.8 244.4h5.0v5.0h-5.0zM833.6 244.4h9.4v5.0h-9.4zM851.2 244.4h5.0v5.0h-5.0zM714.8 248.8h5.0v5.0h-5.0zM745.6 248.8h5.0v5.0h-5.0zM794.0 248.8h5.0v5.0h-5.0zM824.8 248.8h5.0v5.0h-5.0zM838.0 248.8h9.4v5.0h-9.4zM767.6 253.2h5.0v5.0h-5.0zM820.4 253.2h5.0v5.0h-5.0zM785.2 262.0h9.4v5.0h-9.4zM807.2 266.4h5.0v5.0h-5.0zM855.6 266.4h5.0v5.0h-5.0zM864.4 266.4h5.0v5.0h-5.0zM873.2 266.4h5.0v5.0h-5.0zM899.6 266.4h5.0v5.0h-5.0zM864.4 270.8h9.4v5.0h-9.4zM855.6 275.2h5.0v5.0h-5.0zM824.8 279.6h5.0v5.0h-5.0zM763.2 284.0h5.0v5.0h-5.0zM772.0 284.0h5.0v5.0h-5.0zM811.6 284.0h5.0v5.0h-5.0zM833.6 284.0h5.0v5.0h-5.0zM855.6 284.0h5.0v5.0h-5.0zM838.0 288.4h5.0v5.0h-5.0zM846.8 288.4h9.4v5.0h-9.4zM772.0 292.8h5.0v5.0h-5.0zM794.0 292.8h5.0v5.0h-5.0zM842.4 292.8h5.0v5.0h-5.0zM833.6 297.2h5.0v5.0h-5.0zM842.4 297.2h5.0v5.0h-5.0zM838.0 301.6h5.0v5.0h-5.0zM732.4 306.0h5.0v5.0h-5.0zM741.2 306.0h5.0v5.0h-5.0zM789.6 306.0h5.0v5.0h-5.0zM838.0 306.0h5.0v5.0h-5.0zM864.4 306.0h5.0v5.0h-5.0zM794.0 310.4h5.0v5.0h-5.0zM772.0 314.8h5.0v5.0h-5.0zM794.0 314.8h5.0v5.0h-5.0zM807.2 314.8h5.0v5.0h-5.0zM780.8 319.2h5.0v5.0h-5.0zM794.0 319.2h5.0v5.0h-5.0zM811.6 319.2h5.0v5.0h-5.0zM767.6 323.6h5.0v5.0h-5.0zM776.4 323.6h5.0v5.0h-5.0zM794.0 323.6h5.0v5.0h-5.0zM829.2 323.6h5.0v5.0h-5.0zM842.4 328.0h5.0v5.0h-5.0zM794.0 336.8h5.0v5.0h-5.0zM842.4 336.8h5.0v5.0h-5.0zM851.2 336.8h5.0v5.0h-5.0zM794.0 345.6h5.0v5.0h-5.0zM829.2 345.6h5.0v5.0h-5.0zM794.0 350.0h5.0v5.0h-5.0zM882.0 350.0h5.0v5.0h-5.0zM780.8 354.4h5.0v5.0h-5.0zM833.6 354.4h5.0v5.0h-5.0zM776.4 358.8h5.0v5.0h-5.0zM873.2 358.8h5.0v5.0h-5.0zM890.8 358.8h5.0v5.0h-5.0zM868.8 363.2h5.0v5.0h-5.0zM864.4 372.0h5.0v5.0h-5.0zM780.8 380.8h5.0v5.0h-5.0zM789.6 380.8h5.0v5.0h-5.0zM820.4 380.8h5.0v5.0h-5.0zM767.6 385.2h5.0v5.0h-5.0zM886.4 385.2h5.0v5.0h-5.0zM886.4 389.6h5.0v5.0h-5.0zM842.4 394.0h5.0v5.0h-5.0z" fill="#e3dc22" shape-rendering="crispEdges"/>
<path d="M706.0 86.0h5.0v5.0h-5.0zM719.2 86.0h5.0v5.0h-5.0zM732.4 86.0h5.0v5.0h-5.0zM692.8 90.4h5.0v5.0h-5.0zM688.4 94.8h5.0v5.0h-5.0zM697.2 94.8h5.0v5.0h-5.0zM714.8 94.8h5.0v5.0h-5.0zM653.2 112.4h5.0v5.0h-5.0zM833.6 112.4h5.0v5.0h-5.0zM684.0 121.2h5.0v5.0h-5.0zM811.6 121.2h5.0v5.0h-5.0zM930.4 121.2h5.0v5.0h-5.0zM657.6 125.6h5.0v5.0h-5.0zM811.6 125.6h5.0v5.0h-5.0zM864.4 125.6h5.0v5.0h-5.0zM670.8 130.0h5.0v5.0h-5.0zM820.4 130.0h5.0v5.0h-5.0zM833.6 130.0h5.0v5.0h-5.0zM921.6 130.0h9.4v5.0h-9.4zM780.8 134.4h5.0v5.0h-5.0zM816.0 134.4h5.0v5.0h-5.0zM926.0 138.8h5.0v5.0h-5.0zM895.2 143.2h5.0v5.0h-5.0zM921.6 143.2h5.0v5.0h-5.0zM930.4 147.6h9.4v5.0h-9.4zM692.8 152.0h5.0v5.0h-5.0zM692.8 156.4h5.0v5.0h-5.0zM886.4 156.4h9.4v5.0h-9.4zM780.8 160.8h5.0v5.0h-5.0zM794.0 160.8h5.0v5.0h-5.0zM886.4 160.8h5.0v5.0h-5.0zM926.0 160.8h5.0v5.0h-5.0zM772.0 169.6h5.0v5.0h-5.0zM842.4 169.6h5.0v5.0h-5.0zM868.8 169.6h5.0v5.0h-5.0zM838.0 174.0h5.0v5.0h-5.0zM864.4 174.0h5.0v5.0h-5.0zM912.8 182.8h5.0v5.0h-5.0zM785.2 187.2h5.0v5.0h-5.0zM807.2 187.2h5.0v5.0h-5.0zM877.6 187.2h9.4v5.0h-9.4zM811.6 191.6h5.0v5.0h-5.0zM758.8 196.0h5.0v5.0h-5.0zM785.2 196.0h5.0v5.0h-5.0zM811.6 196.0h5.0v5.0h-5.0zM767.6 200.4h5.0v5.0h-5.0zM824.8 200.4h9.4v5.0h-9.4zM776.4 204.8h5.0v5.0h-5.0zM758.8 209.2h5.0v5.0h-5.0zM838.0 209.2h5.0v5.0h-5.0zM921.6 209.2h5.0v5.0h-5.0zM767.6 213.6h5.0v5.0h-5.0zM789.6 213.6h9.4v5.0h-9.4zM811.6 213.6h5.0v5.0h-5.0zM895.2 213.6h5.0v5.0h-5.0zM802.8 218.0h5.0v5.0h-5.0zM789.6 222.4h5.0v5.0h-5.0zM802.8 222.4h5.0v5.0h-5.0zM701.6 226.8h5.0v5.0h-5.0zM732.4 226.8h5.0v5.0h-5.0zM750.0 226.8h5.0v5.0h-5.0zM767.6 226.8h5.0v5.0h-5.0zM798.4 226.8h5.0v5.0h-5.0zM785.2 231.2h5.0v5.0h-5.0zM842.4 231.2h5.0v5.0h-5.0zM860.0 231.2h5.0v5.0h-5.0zM926.0 231.2h5.0v5.0h-5.0zM780.8 235.6h5.0v5.0h-5.0zM807.2 244.4h9.4v5.0h-9.4zM842.4 244.4h5.0v5.0h-5.0zM772.0 248.8h9.4v5.0h-9.4zM807.2 248.8h5.0v5.0h-5.0zM833.6 248.8h5.0v5.0h-5.0zM745.6 253.2h5.0v5.0h-5.0zM776.4 253.2h5.0v5.0h-5.0zM798.4 253.2h5.0v5.0h-5.0zM750.0 257.6h5.0v5.0h-5.0zM811.6 257.6h5.0v5.0h-5.0zM816.0 262.0h5.0v5.0h-5.0zM864.4 262.0h5.0v5.0h-5.0zM750.0 266.4h9.4v5.0h-9.4zM824.8 266.4h5.0v5.0h-5.0zM754.4 270.8h5.0v5.0h-5.0zM794.0 270.8h5.0v5.0h-5.0zM802.8 270.8h9.4v5.0h-9.4zM873.2 270.8h5.0v5.0h-5.0zM789.6 275.2h5.0v5.0h-5.0zM820.4 275.2h5.0v5.0h-5.0zM846.8 275.2h5.0v5.0h-5.0zM763.2 279.6h5.0v5.0h-5.0zM780.8 279.6h5.0v5.0h-5.0zM798.4 279.6h5.0v5.0h-5.0zM846.8 284.0h5.0v5.0h-5.0zM723.6 288.4h5.0v5.0h-5.0zM763.2 288.4h5.0v5.0h-5.0zM833.6 288.4h5.0v5.0h-5.0zM842.4 288.4h5.0v5.0h-5.0zM758.8 292.8h5.0v5.0h-5.0zM767.6 292.8h5.0v5.0h-5.0zM829.2 292.8h13.8v5.0h-13.8zM750.0 297.2h5.0v5.0h-5.0zM789.6 297.2h9.4v5.0h-9.4zM732.4 301.6h5.0v5.0h-5.0zM754.4 301.6h5.0v5.0h-5.0zM772.0 301.6h5.0v5.0h-5.0zM789.6 301.6h9.4v5.0h-9.4zM833.6 301.6h5.0v5.0h-5.0zM750.0 306.0h5.0v5.0h-5.0zM754.4 310.4h5.0v5.0h-5.0zM754.4 314.8h5.0v5.0h-5.0zM824.8 314.8h5.0v5.0h-5.0zM842.4 314.8h5.0v5.0h-5.0zM776.4 319.2h5.0v5.0h-5.0zM824.8 319.2h5.0v5.0h-5.0zM833.6 319.2h5.0v5.0h-5.0zM745.6 323.6h5.0v5.0h-5.0zM838.0 323.6h9.4v5.0h-9.4zM816.0 328.0h5.0v5.0h-5.0zM833.6 332.4h5.0v5.0h-5.0zM842.4 332.4h5.0v5.0h-5.0zM772.0 341.2h5.0v5.0h-5.0zM811.6 341.2h5.0v5.0h-5.0zM798.4 345.6h5.0v5.0h-5.0zM868.8 345.6h9.4v5.0h-9.4zM785.2 350.0h5.0v5.0h-5.0zM811.6 350.0h5.0v5.0h-5.0zM904.0 363.2h5.0v5.0h-5.0zM772.0 376.4h5.0v5.0h-5.0zM838.0 376.4h5.0v5.0h-5.0zM816.0 380.8h5.0v5.0h-5.0zM776.4 385.2h5.0v5.0h-5.0zM794.0 385.2h5.0v5.0h-5.0zM811.6 385.2h5.0v5.0h-5.0zM838.0 389.6h5.0v5.0h-5.0z" fill="#ccdf21" shape-rendering="crispEdges"/>
<path d="M648.8 64.0h5.0v5.0h-5.0zM626.8 94.8h5.0v5.0h-5.0zM648.8 99.2h5.0v5.0h-5.0zM706.0 103.6h5.0v5.0h-5.0zM851.2 108.0h5.0v5.0h-5.0zM728.0 112.4h5.0v5.0h-5.0zM846.8 112.4h5.0v5.0h-5.0zM855.6 112.4h5.0v5.0h-5.0zM842.4 116.8h5.0v5.0h-5.0zM855.6 116.8h5.0v5.0h-5.0zM846.8 121.2h5.0v5.0h-5.0zM833.6 125.6h5.0v5.0h-5.0zM868.8 125.6h5.0v5.0h-5.0zM811.6 134.4h5.0v5.0h-5.0zM846.8 134.4h5.0v5.0h-5.0zM886.4 143.2h5.0v5.0h-5.0zM838.0 156.4h5.0v5.0h-5.0zM851.2 156.4h5.0v5.0h-5.0zM926.0 156.4h5.0v5.0h-5.0zM684.0 165.2h5.0v5.0h-5.0zM776.4 165.2h9.4v5.0h-9.4zM846.8 165.2h5.0v5.0h-5.0zM776.4 169.6h5.0v5.0h-5.0zM811.6 169.6h5.0v5.0h-5.0zM921.6 174.0h5.0v5.0h-5.0zM930.4 174.0h5.0v5.0h-5.0zM802.8 178.4h5.0v5.0h-5.0zM754.4 187.2h5.0v5.0h-5.0zM899.6 187.2h5.0v5.0h-5.0zM820.4 200.4h5.0v5.0h-5.0zM833.6 200.4h5.0v5.0h-5.0zM890.8 200.4h5.0v5.0h-5.0zM780.8 204.8h5.0v5.0h-5.0zM688.4 209.2h5.0v5.0h-5.0zM763.2 209.2h5.0v5.0h-5.0zM754.4 213.6h5.0v5.0h-5.0zM802.8 213.6h5.0v5.0h-5.0zM851.2 213.6h5.0v5.0h-5.0zM921.6 213.6h5.0v5.0h-5.0zM798.4 218.0h5.0v5.0h-5.0zM776.4 222.4h5.0v5.0h-5.0zM864.4 235.6h5.0v5.0h-5.0zM908.4 235.6h5.0v5.0h-5.0zM846.8 240.0h5.0v5.0h-5.0zM886.4 240.0h5.0v5.0h-5.0zM780.8 244.4h5.0v5.0h-5.0zM794.0 244.4h5.0v5.0h-5.0zM829.2 244.4h5.0v5.0h-5.0zM855.6 244.4h5.0v5.0h-5.0zM767.6 248.8h5.0v5.0h-5.0zM785.2 248.8h5.0v5.0h-5.0zM829.2 248.8h5.0v5.0h-5.0zM772.0 253.2h5.0v5.0h-5.0zM802.8 253.2h5.0v5.0h-5.0zM824.8 253.2h5.0v5.0h-5.0zM776.4 257.6h5.0v5.0h-5.0zM794.0 257.6h5.0v5.0h-5.0zM820.4 257.6h5.0v5.0h-5.0zM851.2 257.6h5.0v5.0h-5.0zM860.0 257.6h9.4v5.0h-9.4zM926.0 257.6h5.0v5.0h-5.0zM794.0 262.0h5.0v5.0h-5.0zM807.2 262.0h9.4v5.0h-9.4zM851.2 262.0h5.0v5.0h-5.0zM877.6 262.0h5.0v5.0h-5.0zM860.0 266.4h5.0v5.0h-5.0zM741.2 270.8h5.0v5.0h-5.0zM811.6 270.8h5.0v5.0h-5.0zM820.4 270.8h5.0v5.0h-5.0zM917.2 270.8h5.0v5.0h-5.0zM754.4 275.2h5.0v5.0h-5.0zM807.2 275.2h5.0v5.0h-5.0zM816.0 275.2h5.0v5.0h-5.0zM824.8 275.2h5.0v5.0h-5.0zM868.8 275.2h5.0v5.0h-5.0zM758.8 279.6h5.0v5.0h-5.0zM811.6 279.6h5.0v5.0h-5.0zM758.8 288.4h5.0v5.0h-5.0zM767.6 297.2h5.0v5.0h-5.0zM864.4 297.2h5.0v5.0h-5.0zM758.8 301.6h5.0v5.0h-5.0zM838.0 310.4h5.0v5.0h-5.0zM798.4 323.6h5.0v5.0h-5.0zM794.0 328.0h5.0v5.0h-5.0zM807.2 328.0h5.0v5.0h-5.0zM820.4 328.0h5.0v5.0h-5.0zM802.8 332.4h5.0v5.0h-5.0zM829.2 332.4h5.0v5.0h-5.0zM772.0 336.8h5.0v5.0h-5.0zM802.8 336.8h5.0v5.0h-5.0zM802.8 341.2h5.0v5.0h-5.0zM785.2 345.6h5.0v5.0h-5.0zM802.8 345.6h5.0v5.0h-5.0zM842.4 345.6h5.0v5.0h-5.0zM807.2 350.0h5.0v5.0h-5.0zM868.8 350.0h5.0v5.0h-5.0zM798.4 358.8h5.0v5.0h-5.0zM785.2 372.0h5.0v5.0h-5.0zM807.2 380.8h9.4v5.0h-9.4zM838.0 380.8h5.0v5.0h-5.0zM816.0 385.2h5.0v5.0h-5.0zM860.0 394.0h5.0v5.0h-5.0z" fill="#b0e120" shape-rendering="crispEdges"/>
<path d="M666.4 90.4h5.0v5.0h-5.0zM622.4 94.8h5.0v5.0h-5.0zM688.4 99.2h5.0v5.0h-5.0zM851.2 103.6h5.0v5.0h-5.0zM631.2 116.8h5.0v5.0h-5.0zM807.2 116.8h5.0v5.0h-5.0zM846.8 116.8h5.0v5.0h-5.0zM838.0 125.6h5.0v5.0h-5.0zM860.0 125.6h5.0v5.0h-5.0zM838.0 130.0h5.0v5.0h-5.0zM860.0 130.0h5.0v5.0h-5.0zM688.4 156.4h5.0v5.0h-5.0zM868.8 174.0h5.0v5.0h-5.0zM714.8 187.2h5.0v5.0h-5.0zM882.0 191.6h5.0v5.0h-5.0zM864.4 196.0h5.0v5.0h-5.0zM776.4 200.4h5.0v5.0h-5.0zM811.6 200.4h5.0v5.0h-5.0zM860.0 204.8h5.0v5.0h-5.0zM886.4 204.8h5.0v5.0h-5.0zM838.0 213.6h9.4v5.0h-9.4zM833.6 218.0h5.0v5.0h-5.0zM877.6 218.0h5.0v5.0h-5.0zM697.2 226.8h5.0v5.0h-5.0zM829.2 226.8h5.0v5.0h-5.0zM754.4 231.2h5.0v5.0h-5.0zM838.0 231.2h5.0v5.0h-5.0zM794.0 235.6h5.0v5.0h-5.0zM855.6 235.6h5.0v5.0h-5.0zM780.8 240.0h5.0v5.0h-5.0zM811.6 240.0h5.0v5.0h-5.0zM741.2 248.8h5.0v5.0h-5.0zM789.6 253.2h9.4v5.0h-9.4zM807.2 253.2h5.0v5.0h-5.0zM926.0 253.2h5.0v5.0h-5.0zM772.0 257.6h5.0v5.0h-5.0zM820.4 262.0h5.0v5.0h-5.0zM846.8 262.0h5.0v5.0h-5.0zM860.0 262.0h5.0v5.0h-5.0zM921.6 266.4h5.0v5.0h-5.0zM776.4 275.2h5.0v5.0h-5.0zM846.8 279.6h5.0v5.0h-5.0zM855.6 279.6h5.0v5.0h-5.0zM868.8 279.6h5.0v5.0h-5.0zM780.8 284.0h5.0v5.0h-5.0zM754.4 288.4h5.0v5.0h-5.0zM776.4 288.4h5.0v5.0h-5.0zM785.2 288.4h5.0v5.0h-5.0zM829.2 288.4h5.0v5.0h-5.0zM763.2 297.2h5.0v5.0h-5.0zM838.0 297.2h5.0v5.0h-5.0zM750.0 301.6h5.0v5.0h-5.0zM776.4 301.6h5.0v5.0h-5.0zM758.8 306.0h5.0v5.0h-5.0zM785.2 306.0h5.0v5.0h-5.0zM789.6 310.4h5.0v5.0h-5.0zM807.2 310.4h9.4v5.0h-9.4zM754.4 319.2h5.0v5.0h-5.0zM785.2 319.2h5.0v5.0h-5.0zM829.2 319.2h5.0v5.0h-5.0zM785.2 323.6h5.0v5.0h-5.0zM802.8 323.6h5.0v5.0h-5.0zM780.8 328.0h5.0v5.0h-5.0zM811.6 336.8h5.0v5.0h-5.0zM820.4 336.8h5.0v5.0h-5.0zM754.4 341.2h5.0v5.0h-5.0zM833.6 341.2h9.4v5.0h-9.4zM754.4 345.6h5.0v5.0h-5.0zM789.6 345.6h5.0v5.0h-5.0zM811.6 345.6h5.0v5.0h-5.0zM873.2 350.0h5.0v5.0h-5.0zM785.2 376.4h5.0v5.0h-5.0zM794.0 380.8h5.0v5.0h-5.0zM802.8 380.8h5.0v5.0h-5.0zM842.4 380.8h5.0v5.0h-5.0zM908.4 380.8h5.0v5.0h-5.0zM780.8 385.2h5.0v5.0h-5.0zM842.4 385.2h5.0v5.0h-5.0zM890.8 385.2h5.0v5.0h-5.0zM890.8 389.6h5.0v5.0h-5.0z" fill="#91e21f" shape-rendering="crispEdges"/>
<path d="M688.4 68.4h5.0v5.0h-5.0zM697.2 99.2h5.0v5.0h-5.0zM855.6 99.2h5.0v5.0h-5.0zM851.2 112.4h5.0v5.0h-5.0zM851.2 125.6h5.0v5.0h-5.0zM846.8 130.0h5.0v5.0h-5.0zM802.8 134.4h5.0v5.0h-5.0zM842.4 134.4h5.0v5.0h-5.0zM921.6 160.8h5.0v5.0h-5.0zM921.6 165.2h5.0v5.0h-5.0zM873.2 174.0h5.0v5.0h-5.0zM758.8 200.4h5.0v5.0h-5.0zM860.0 200.4h5.0v5.0h-5.0zM868.8 204.8h5.0v5.0h-5.0zM754.4 209.2h5.0v5.0h-5.0zM758.8 213.6h9.4v5.0h-9.4zM776.4 213.6h5.0v5.0h-5.0zM824.8 213.6h5.0v5.0h-5.0zM767.6 222.4h5.0v5.0h-5.0zM798.4 222.4h5.0v5.0h-5.0zM833.6 222.4h5.0v5.0h-5.0zM842.4 222.4h9.4v5.0h-9.4zM794.0 231.2h5.0v5.0h-5.0zM833.6 231.2h5.0v5.0h-5.0zM772.0 235.6h5.0v5.0h-5.0zM789.6 235.6h5.0v5.0h-5.0zM794.0 240.0h5.0v5.0h-5.0zM767.6 244.4h5.0v5.0h-5.0zM789.6 244.4h5.0v5.0h-5.0zM780.8 248.8h5.0v5.0h-5.0zM789.6 248.8h5.0v5.0h-5.0zM860.0 253.2h5.0v5.0h-5.0zM930.4 253.2h5.0v5.0h-5.0zM904.0 262.0h5.0v5.0h-5.0zM820.4 266.4h5.0v5.0h-5.0zM772.0 270.8h5.0v5.0h-5.0zM829.2 270.8h5.0v5.0h-5.0zM802.8 275.2h5.0v5.0h-5.0zM772.0 279.6h9.4v5.0h-9.4zM802.8 284.0h5.0v5.0h-5.0zM750.0 288.4h5.0v5.0h-5.0zM780.8 288.4h5.0v5.0h-5.0zM728.0 292.8h5.0v5.0h-5.0zM750.0 292.8h9.4v5.0h-9.4zM763.2 292.8h5.0v5.0h-5.0zM776.4 292.8h5.0v5.0h-5.0zM785.2 292.8h5.0v5.0h-5.0zM754.4 306.0h5.0v5.0h-5.0zM776.4 306.0h5.0v5.0h-5.0zM798.4 310.4h9.4v5.0h-9.4zM833.6 314.8h5.0v5.0h-5.0zM807.2 319.2h5.0v5.0h-5.0zM838.0 319.2h9.4v5.0h-9.4zM750.0 323.6h5.0v5.0h-5.0zM772.0 323.6h5.0v5.0h-5.0zM776.4 328.0h5.0v5.0h-5.0zM776.4 332.4h5.0v5.0h-5.0zM794.0 332.4h5.0v5.0h-5.0zM816.0 332.4h5.0v5.0h-5.0zM776.4 341.2h5.0v5.0h-5.0zM829.2 341.2h5.0v5.0h-5.0zM807.2 358.8h5.0v5.0h-5.0zM798.4 380.8h5.0v5.0h-5.0zM820.4 385.2h5.0v5.0h-5.0z" fill="#6be11e" shape-rendering="crispEdges"/>
<path d="M851.2 116.8h5.0v5.0h-5.0zM842.4 121.2h5.0v5.0h-5.0zM846.8 125.6h5.0v5.0h-5.0zM640.0 130.0h5.0v5.0h-5.0zM811.6 130.0h5.0v5.0h-5.0zM824.8 130.0h5.0v5.0h-5.0zM842.4 130.0h5.0v5.0h-5.0zM855.6 130.0h5.0v5.0h-5.0zM921.6 138.8h5.0v5.0h-5.0zM890.8 143.2h5.0v5.0h-5.0zM688.4 152.0h5.0v5.0h-5.0zM679.6 165.2h5.0v5.0h-5.0zM679.6 169.6h5.0v5.0h-5.0zM846.8 169.6h5.0v5.0h-5.0zM833.6 196.0h5.0v5.0h-5.0zM882.0 196.0h5.0v5.0h-5.0zM873.2 200.4h5.0v5.0h-5.0zM882.0 200.4h5.0v5.0h-5.0zM754.4 204.8h9.4v5.0h-9.4zM767.6 204.8h5.0v5.0h-5.0zM838.0 218.0h5.0v5.0h-5.0zM846.8 218.0h9.4v5.0h-9.4zM794.0 222.4h5.0v5.0h-5.0zM851.2 222.4h5.0v5.0h-5.0zM772.0 226.8h5.0v5.0h-5.0zM789.6 226.8h5.0v5.0h-5.0zM785.2 235.6h5.0v5.0h-5.0zM860.0 235.6h5.0v5.0h-5.0zM776.4 240.0h5.0v5.0h-5.0zM789.6 240.0h5.0v5.0h-5.0zM851.2 240.0h5.0v5.0h-5.0zM785.2 244.4h5.0v5.0h-5.0zM855.6 253.2h5.0v5.0h-5.0zM802.8 262.0h5.0v5.0h-5.0zM855.6 262.0h5.0v5.0h-5.0zM776.4 270.8h5.0v5.0h-5.0zM816.0 270.8h5.0v5.0h-5.0zM873.2 275.2h5.0v5.0h-5.0zM802.8 279.6h9.4v5.0h-9.4zM758.8 284.0h5.0v5.0h-5.0zM851.2 284.0h5.0v5.0h-5.0zM772.0 297.2h5.0v5.0h-5.0zM780.8 301.6h9.4v5.0h-9.4zM780.8 306.0h5.0v5.0h-5.0zM785.2 314.8h5.0v5.0h-5.0zM829.2 314.8h5.0v5.0h-5.0zM838.0 314.8h5.0v5.0h-5.0zM754.4 323.6h5.0v5.0h-5.0zM811.6 323.6h5.0v5.0h-5.0zM811.6 328.0h5.0v5.0h-5.0zM824.8 332.4h5.0v5.0h-5.0zM780.8 336.8h5.0v5.0h-5.0zM838.0 336.8h5.0v5.0h-5.0zM807.2 341.2h5.0v5.0h-5.0zM798.4 354.4h5.0v5.0h-5.0zM802.8 358.8h5.0v5.0h-5.0zM855.6 363.2h5.0v5.0h-5.0z" fill="#46e01c" shape-rendering="crispEdges"/>
<path d="M622.4 90.4h5.0v5.0h-5.0zM692.8 94.8h5.0v5.0h-5.0zM692.8 99.2h5.0v5.0h-5.0zM855.6 108.0h5.0v5.0h-5.0zM670.8 125.6h5.0v5.0h-5.0zM842.4 125.6h5.0v5.0h-5.0zM816.0 130.0h5.0v5.0h-5.0zM851.2 130.0h5.0v5.0h-5.0zM873.2 138.8h5.0v5.0h-5.0zM855.6 156.4h5.0v5.0h-5.0zM873.2 196.0h5.0v5.0h-5.0zM886.4 196.0h5.0v5.0h-5.0zM772.0 209.2h5.0v5.0h-5.0zM816.0 213.6h5.0v5.0h-5.0zM917.2 213.6h5.0v5.0h-5.0zM842.4 218.0h5.0v5.0h-5.0zM838.0 222.4h5.0v5.0h-5.0zM794.0 226.8h5.0v5.0h-5.0zM833.6 226.8h9.4v5.0h-9.4zM785.2 240.0h5.0v5.0h-5.0zM860.0 240.0h5.0v5.0h-5.0zM855.6 257.6h5.0v5.0h-5.0zM767.6 266.4h5.0v5.0h-5.0zM798.4 266.4h5.0v5.0h-5.0zM811.6 266.4h9.4v5.0h-9.4zM798.4 270.8h5.0v5.0h-5.0zM824.8 270.8h5.0v5.0h-5.0zM772.0 275.2h5.0v5.0h-5.0zM754.4 279.6h5.0v5.0h-5.0zM851.2 279.6h5.0v5.0h-5.0zM754.4 284.0h5.0v5.0h-5.0zM789.6 288.4h5.0v5.0h-5.0zM798.4 288.4h9.4v5.0h-9.4zM780.8 292.8h5.0v5.0h-5.0zM776.4 297.2h13.8v5.0h-13.8zM807.2 323.6h5.0v5.0h-5.0zM767.6 328.0h5.0v5.0h-5.0zM780.8 332.4h5.0v5.0h-5.0zM820.4 332.4h5.0v5.0h-5.0zM776.4 336.8h5.0v5.0h-5.0zM833.6 336.8h5.0v5.0h-5.0zM780.8 341.2h5.0v5.0h-5.0zM807.2 345.6h5.0v5.0h-5.0zM860.0 358.8h5.0v5.0h-5.0zM785.2 380.8h5.0v5.0h-5.0zM767.6 394.0h5.0v5.0h-5.0z" fill="#44e01c" shape-rendering="crispEdges"/>
<path d="M860.0 108.0h5.0v5.0h-5.0zM930.4 138.8h5.0v5.0h-5.0zM780.8 174.0h5.0v5.0h-5.0zM714.8 182.8h5.0v5.0h-5.0zM886.4 187.2h5.0v5.0h-5.0zM679.6 196.0h5.0v5.0h-5.0zM868.8 196.0h5.0v5.0h-5.0zM785.2 204.8h5.0v5.0h-5.0zM772.0 222.4h5.0v5.0h-5.0zM846.8 226.8h5.0v5.0h-5.0zM789.6 231.2h5.0v5.0h-5.0zM855.6 240.0h5.0v5.0h-5.0zM772.0 244.4h5.0v5.0h-5.0zM807.2 257.6h5.0v5.0h-5.0zM838.0 270.8h5.0v5.0h-5.0zM794.0 275.2h9.4v5.0h-9.4zM873.2 279.6h5.0v5.0h-5.0zM750.0 284.0h5.0v5.0h-5.0zM776.4 284.0h5.0v5.0h-5.0zM798.4 292.8h5.0v5.0h-5.0zM780.8 310.4h5.0v5.0h-5.0zM780.8 314.8h5.0v5.0h-5.0zM789.6 314.8h5.0v5.0h-5.0zM789.6 319.2h5.0v5.0h-5.0zM772.0 332.4h5.0v5.0h-5.0zM785.2 336.8h5.0v5.0h-5.0zM785.2 341.2h5.0v5.0h-5.0zM758.8 367.6h5.0v5.0h-5.0z" fill="#42e01c" shape-rendering="crispEdges"/>
<path d="M855.6 103.6h5.0v5.0h-5.0zM864.4 108.0h5.0v5.0h-5.0zM877.6 147.6h5.0v5.0h-5.0zM780.8 152.0h5.0v5.0h-5.0zM657.6 156.4h5.0v5.0h-5.0zM670.8 169.6h5.0v5.0h-5.0zM802.8 174.0h5.0v5.0h-5.0zM670.8 178.4h5.0v5.0h-5.0zM780.8 187.2h5.0v5.0h-5.0zM807.2 213.6h5.0v5.0h-5.0zM754.4 226.8h5.0v5.0h-5.0zM772.0 240.0h5.0v5.0h-5.0zM741.2 266.4h5.0v5.0h-5.0zM719.2 284.0h5.0v5.0h-5.0zM816.0 292.8h5.0v5.0h-5.0zM785.2 328.0h5.0v5.0h-5.0zM785.2 332.4h5.0v5.0h-5.0zM807.2 336.8h5.0v5.0h-5.0zM829.2 336.8h5.0v5.0h-5.0zM789.6 350.0h5.0v5.0h-5.0zM780.8 372.0h5.0v5.0h-5.0z" fill="#3fe01c" shape-rendering="crispEdges"/>
<path d="M657.6 72.8h5.0v5.0h-5.0zM640.0 94.8h5.0v5.0h-5.0zM860.0 103.6h5.0v5.0h-5.0zM917.2 143.2h5.0v5.0h-5.0zM675.2 165.2h5.0v5.0h-5.0zM666.4 169.6h5.0v5.0h-5.0zM776.4 196.0h5.0v5.0h-5.0zM912.8 209.2h5.0v5.0h-5.0zM842.4 226.8h5.0v5.0h-5.0zM767.6 231.2h5.0v5.0h-5.0zM719.2 244.4h5.0v5.0h-5.0zM798.4 257.6h5.0v5.0h-5.0zM776.4 310.4h5.0v5.0h-5.0zM802.8 314.8h5.0v5.0h-5.0zM802.8 319.2h5.0v5.0h-5.0zM772.0 328.0h5.0v5.0h-5.0zM789.6 332.4h5.0v5.0h-5.0zM789.6 336.8h5.0v5.0h-5.0zM789.6 341.2h5.0v5.0h-5.0zM758.8 358.8h5.0v5.0h-5.0zM772.0 363.2h5.0v5.0h-5.0zM763.2 385.2h5.0v5.0h-5.0z" fill="#3de01b" shape-rendering="crispEdges"/>
<path d="M741.2 99.2h5.0v5.0h-5.0zM798.4 138.8h5.0v5.0h-5.0zM732.4 160.8h5.0v5.0h-5.0zM864.4 191.6h5.0v5.0h-5.0zM886.4 200.4h5.0v5.0h-5.0zM688.4 213.6h5.0v5.0h-5.0zM706.0 262.0h5.0v5.0h-5.0zM798.4 262.0h5.0v5.0h-5.0zM728.0 301.6h5.0v5.0h-5.0zM776.4 314.8h5.0v5.0h-5.0zM811.6 332.4h5.0v5.0h-5.0zM824.8 336.8h5.0v5.0h-5.0zM772.0 358.8h5.0v5.0h-5.0zM758.8 363.2h5.0v5.0h-5.0z" fill="#3be01b" shape-rendering="crispEdges"/>
<path d="M648.8 143.2h5.0v5.0h-5.0zM868.8 200.4h5.0v5.0h-5.0zM684.0 209.2h5.0v5.0h-5.0zM877.6 213.6h5.0v5.0h-5.0zM798.4 240.0h5.0v5.0h-5.0zM701.6 253.2h5.0v5.0h-5.0zM789.6 323.6h5.0v5.0h-5.0zM745.6 328.0h5.0v5.0h-5.0zM789.6 328.0h5.0v5.0h-5.0zM750.0 336.8h5.0v5.0h-5.0z" fill="#39e01b" shape-rendering="crispEdges"/>
<path d="M785.2 191.6h5.0v5.0h-5.0zM864.4 200.4h5.0v5.0h-5.0zM864.4 204.8h5.0v5.0h-5.0zM833.6 270.8h5.0v5.0h-5.0z" fill="#37e01b" shape-rendering="crispEdges"/>
<path d="M706.0 266.4h5.0v5.0h-5.0zM750.0 279.6h5.0v5.0h-5.0zM785.2 310.4h5.0v5.0h-5.0z" fill="#35e01b" shape-rendering="crispEdges"/>
<path d="M807.2 191.6h5.0v5.0h-5.0zM807.2 284.0h5.0v5.0h-5.0z" fill="#32e01a" shape-rendering="crispEdges"/>
<path d="M798.4 314.8h5.0v5.0h-5.0zM798.4 319.2h5.0v5.0h-5.0z" fill="#30e01a" shape-rendering="crispEdges"/>
<path d="M802.8 257.6h5.0v5.0h-5.0zM807.2 332.4h5.0v5.0h-5.0z" fill="#2ce01a" shape-rendering="crispEdges"/>
</g>
<path d="M650.5,67.2 L651.5,70.7 L654.2,72.8 L658.4,73.2 L662.6,71.7 L666.8,71.7 L672.0,73.8 L677.2,72.8 L683.6,70.7 L685.7,71.7 L690.9,73.2 L691.9,79.1 L696.1,80.7 L699.3,82.8 L706.6,84.2 L714.4,84.4 L715.7,87.4 L718.1,89.9 L726.7,89.2 L735.2,88.7 L740.1,91.1 L744.4,93.6 L745.7,98.5 L748.1,103.4 L748.7,110.7 L751.2,116.8 L754.8,121.1 L756.1,126.6 L761.0,132.7 L765.8,137.0 L770.7,139.5 L780.5,138.8 L790.3,137.0 L799.5,134.2 L803.2,130.5 L802.0,125.6 L805.7,121.9 L809.9,117.6 L813.6,116.4 L821.6,120.1 L828.9,118.2 L838.7,116.4 L844.8,114.0 L849.7,108.5 L854.6,101.1 L858.9,98.1 L863.2,96.2 L864.4,102.2 L866.2,107.8 L870.5,118.2 L875.4,126.8 L878.5,132.8 L877.9,136.6 L880.3,140.2 L885.2,140.8 L888.9,136.6 L891.6,132.8 L897.9,133.5 L904.2,133.5 L913.7,130.3 L923.1,127.2 L929.4,124.1 L932.6,120.9 L937.3,118.6 L939.7,119.4 L942.0,125.7 L942.8,133.5 L943.6,144.6 L942.8,158.7 L942.0,166.6 L937.3,171.2 L929.4,176.1 L920.0,180.8 L910.5,184.7 L907.4,188.7 L908.2,191.8 L910.7,192.2 L914.2,197.3 L918.5,204.3 L921.2,211.3 L923.8,218.3 L922.0,225.3 L922.9,230.7 L928.2,235.8 L931.6,241.2 L931.6,251.5 L930.8,262.0 L926.4,269.0 L919.4,272.5 L912.4,274.3 L903.7,276.9 L894.9,277.8 L887.2,281.0 L880.4,285.6 L873.6,290.1 L865.6,294.6 L857.7,294.6 L853.1,295.8 L864.5,299.2 L867.9,301.5 L866.7,306.0 L855.4,304.9 L852.0,308.3 L849.7,317.4 L847.4,326.5 L847.4,333.3 L855.4,337.8 L861.0,339.4 L866.7,342.4 L871.2,345.3 L878.1,348.8 L886.6,349.6 L893.4,355.5 L901.9,364.0 L912.1,370.0 L910.4,381.0 L905.3,387.8 L898.5,391.2 L888.3,392.9 L881.5,392.9 L876.3,397.2 L869.5,396.3 L867.8,393.8 L859.3,394.6 L854.2,398.0 L844.0,395.5 L830.4,392.9 L816.8,389.5 L803.2,388.8 L801.5,391.2 L798.3,389.1 L792.0,387.5 L784.2,387.5 L777.9,388.3 L770.0,390.8 L767.6,395.4 L766.1,386.0 L765.3,378.1 L762.9,367.1 L759.8,356.0 L755.8,346.6 L751.1,335.6 L744.8,324.5 L738.5,315.1 L736.7,312.8 L727.7,296.9 L718.6,281.0 L711.7,270.8 L704.9,251.5 L698.1,233.3 L691.3,215.2 L689.3,212.1 L680.9,193.2 L672.5,176.5 L664.1,161.8 L653.6,145.0 L643.2,130.3 L632.7,117.8 L625.8,110.6 L622.2,105.2 L620.1,102.7 L621.1,99.0 L623.7,96.4 L629.0,91.7 L634.2,87.0 L640.5,81.2 L642.6,78.0 L642.1,74.4 L645.8,72.8 Z" fill="none" stroke="#2a2a2a" stroke-width="1.1" stroke-linejoin="round"/>
<path d="M712.2,272.3 L720.5,275.6 L728.8,274.0 L735.4,268.1 L740.4,259.9 L742.9,254.0 L747.1,255.0 L753.7,256.5 L757.0,258.2 L757.9,251.5 L760.4,247.5 L765.3,246.7 L768.7,250.0 L767.0,255.0 L768.7,258.2 L775.3,257.4 L780.3,251.5 L783.6,243.2 L786.1,238.3 L790.3,231.7 L793.6,221.7 L793.6,213.3 L794.4,206.8 L797.7,203.5 L801.9,199.2 L806.0,193.5 L810.6,186.8 L814.8,181.6 L817.9,178.3 L820.0,179.5 L822.1,181.6 L825.3,181.6 L828.4,178.3 L830.5,174.2 L833.1,170.0 L833.6,164.8 L831.6,161.6 L829.5,159.0 L830.5,157.5 L833.6,158.5 L835.7,161.6 L837.8,165.2 L839.9,164.8 L842.0,161.6 L845.2,157.5 L847.3,154.2 L849.4,150.1 L852.5,149.1 L859.9,150.6 L864.0,149.6 L867.2,147.0 L868.2,141.7 L871.4,140.7 L870.3,138.6 L871.4,136.0 L874.5,136.5 L877.7,136.7" fill="none" stroke="#2a2a2a" stroke-width="1.1"/>
<line x1="622.6" y1="44.4" x2="622.6" y2="441.5" stroke="#a8a8a8" stroke-width="1"/>
<line x1="765.9" y1="44.4" x2="765.9" y2="441.5" stroke="#a8a8a8" stroke-width="1"/>
<line x1="908.9" y1="44.4" x2="908.9" y2="441.5" stroke="#a8a8a8" stroke-width="1"/>
<line x1="558.2" y1="66.2" x2="963.8" y2="66.2" stroke="#a8a8a8" stroke-width="1"/>
<line x1="558.2" y1="254.1" x2="963.8" y2="254.1" stroke="#a8a8a8" stroke-width="1"/>
<rect x="559.5" y="256" width="130.5" height="178.4" fill="#fff"/>
<rect x="558.2" y="44.4" width="405.6" height="397.1" fill="none" stroke="#000" stroke-width="2.6" stroke-linejoin="round"/>
<line x1="622.6" y1="35.099999999999994" x2="622.6" y2="44.4" stroke="#000" stroke-width="2.5" stroke-linecap="round"/>
<line x1="622.6" y1="441.5" x2="622.6" y2="450.8" stroke="#000" stroke-width="2.5" stroke-linecap="round"/>
<line x1="765.9" y1="35.099999999999994" x2="765.9" y2="44.4" stroke="#000" stroke-width="2.5" stroke-linecap="round"/>
<line x1="765.9" y1="441.5" x2="765.9" y2="450.8" stroke="#000" stroke-width="2.5" stroke-linecap="round"/>
<line x1="908.9" y1="35.099999999999994" x2="908.9" y2="44.4" stroke="#000" stroke-width="2.5" stroke-linecap="round"/>
<line x1="908.9" y1="441.5" x2="908.9" y2="450.8" stroke="#000" stroke-width="2.5" stroke-linecap="round"/>
<line x1="548.7" y1="66.2" x2="558.2" y2="66.2" stroke="#000" stroke-width="2.5" stroke-linecap="round"/>
<line x1="963.8" y1="66.2" x2="973.3" y2="66.2" stroke="#000" stroke-width="2.5" stroke-linecap="round"/>
<line x1="548.7" y1="254.1" x2="558.2" y2="254.1" stroke="#000" stroke-width="2.5" stroke-linecap="round"/>
<line x1="963.8" y1="254.1" x2="973.3" y2="254.1" stroke="#000" stroke-width="2.5" stroke-linecap="round"/>
<text x="622.6" y="29.0" class="lab" text-anchor="middle">14°50'0"E</text>
<text x="622.6" y="472.0" class="lab" text-anchor="middle">14°50'0"E</text>
<text x="765.9" y="29.0" class="lab" text-anchor="middle">15°0'0"E</text>
<text x="765.9" y="472.0" class="lab" text-anchor="middle">15°0'0"E</text>
<text x="908.9" y="29.0" class="lab" text-anchor="middle">15°10'0"E</text>
<text x="908.9" y="472.0" class="lab" text-anchor="middle">15°10'0"E</text>
<text transform="translate(541.7,65.0) rotate(-90)" class="lab" text-anchor="middle">40°40'0"N</text>
<text transform="translate(995.0,65.0) rotate(-90)" class="lab" text-anchor="middle">40°40'0"N</text>
<text transform="translate(541.7,252.9) rotate(-90)" class="lab" text-anchor="middle">40°30'0"N</text>
<text transform="translate(995.0,252.9) rotate(-90)" class="lab" text-anchor="middle">40°30'0"N</text>
<text transform="translate(584,292.8) scale(1.058,1)" class="lg2">MERIS L2</text>
<text transform="translate(600.8,316.8) scale(1.055,1)" class="lg2">MTCI</text>
<rect x="588.3" y="346.8" width="30.2" height="20.4" fill="url(#gA)"/>
<rect x="588.3" y="372" width="30.2" height="20.9" fill="url(#gB)"/>
<text transform="translate(632.6,355.3) scale(1.11,1)" class="sb2">6.85</text>
<text transform="translate(633.6,404.2) scale(1.11,1)" class="sb2">1.21</text>
<path d="M618.5,346.8h2.5M618.5,372h2.5M618.5,392.9h2.5M83.7,352.6h2.3M83.7,376.7h2.3M83.7,396.8h2.3" stroke="#888" stroke-width="1"/>
<g transform="translate(513.4,0)">
<rect x="58.6" y="539.8" width="306.9" height="11.6" fill="#fff" stroke="#000" stroke-width="1.4"/>
<rect x="58.6" y="539.2" width="35.2" height="12.8" fill="#000"/>
<rect x="126.6" y="539.2" width="35.2" height="12.8" fill="#000"/>
<rect x="262.3" y="539.2" width="103.2" height="12.8" fill="#000"/>
<text x="59.25" y="527.5" class="sb" text-anchor="middle">0</text>
<text x="110.2" y="527.5" class="sb" text-anchor="middle">5</text>
<text x="161.4" y="527.5" class="sb" text-anchor="middle">10</text>
<text x="262.7" y="527.5" class="sb" text-anchor="middle">20</text>
<text x="364.4" y="527.5" class="sb" text-anchor="middle">30</text>
<text x="372.5" y="550.3" class="sb">km</text>
<path d="M426.8,504.2 L427.7,561.7 M426.8,504.2 L436.3,528.3 L427.2,524" fill="none" stroke="#000" stroke-width="1.4" stroke-linejoin="miter"/>
<path d="M423,557.5 L423,544 L433,557.5 L433,544" fill="none" stroke="#000" stroke-width="1.6"/>
</g>
</svg></body></html>
